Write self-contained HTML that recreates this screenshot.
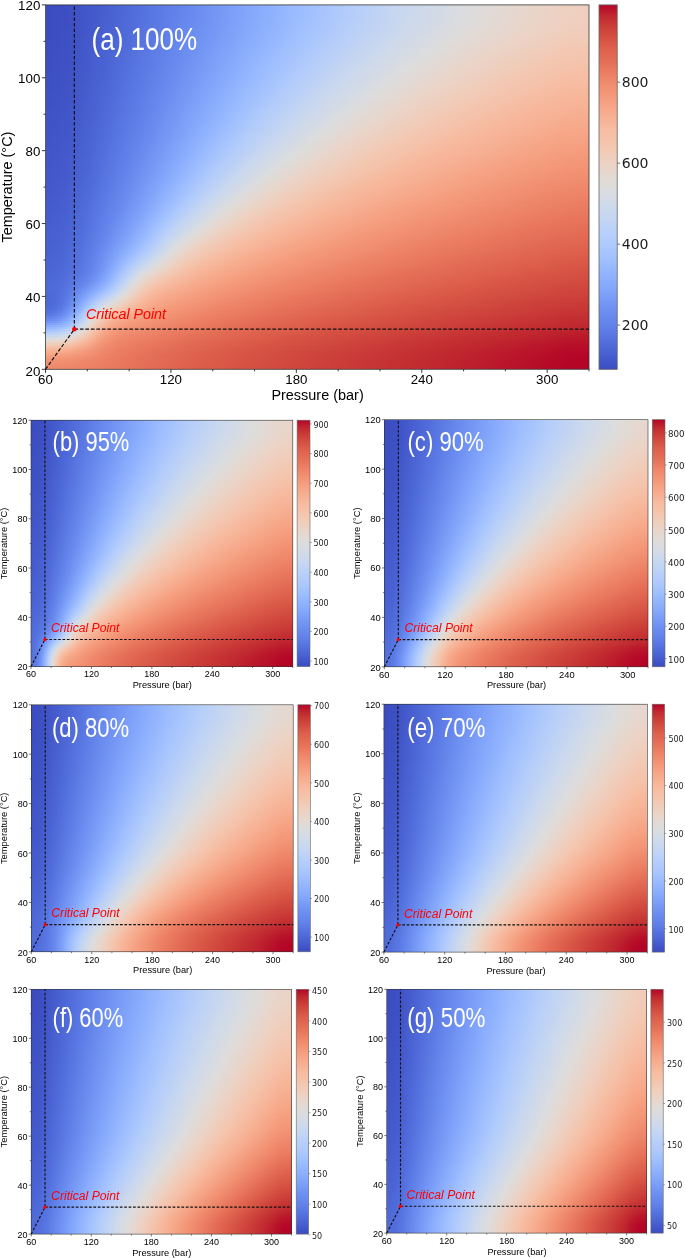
<!DOCTYPE html>
<html lang="en"><head><meta charset="utf-8"><title>CO2 density maps</title>
<style>
html,body{margin:0;padding:0;background:#fff}
#fig{position:relative;width:685px;height:1258px;overflow:hidden;background:#fff;font-family:"Liberation Sans",sans-serif}
.hm{position:absolute;overflow:hidden}
.hm i{display:block;height:2px}
svg{position:absolute;left:0;top:0;filter:blur(0.3px)}
svg{font-family:"Liberation Sans",sans-serif;fill:#000}
</style></head><body>
<div id="fig">
<div class="hm" style="left:46px;top:5px;width:543px;height:364px">
<i style="background:linear-gradient(90deg,#3b4cc0,#3c4fc2 22px,#4860d1 62px,#6586ec 138px,#80a3fa 195px,#98b9ff 244px,#b0cafc 294px,#c7d7f1 351px,#dadcdf 417px,#e3dad4 452px,#edd1c1 518px,#eecfbf 543px)"></i>
<i style="background:linear-gradient(90deg,#3b4cc0,#3c4fc2 22px,#4860d1 62px,#6586ec 138px,#80a3fa 195px,#98b9ff 244px,#b0cbfc 295px,#c7d7f1 351px,#dadcdf 417px,#e3dad4 452px,#edd1c1 518px,#eecfbf 543px)"></i>
<i style="background:linear-gradient(90deg,#3b4cc0,#3c4fc2 22px,#4860d1 62px,#6586ec 138px,#80a3fa 195px,#98b9ff 244px,#b0cbfc 295px,#c7d7f1 351px,#dadcdf 417px,#e3d9d4 453px,#eed1c1 518px,#eecfbf 543px)"></i>
<i style="background:linear-gradient(90deg,#3b4cc0,#3c4fc2 22px,#4860d1 62px,#6586ec 138px,#80a3fa 195px,#98b9ff 244px,#b0cafc 294px,#c7d7f1 351px,#dbdcdf 417px,#e4d9d2 458px,#eed0c0 521px,#efcfbf 543px)"></i>
<i style="background:linear-gradient(90deg,#3b4cc0,#3c4fc2 22px,#4860d1 62px,#6586ed 138px,#7fa3fa 194px,#98b9ff 243px,#b0cafc 293px,#c6d6f1 349px,#dadcdf 415px,#e2dad5 447px,#eed1c1 516px,#efcfbe 543px)"></i>
<i style="background:linear-gradient(90deg,#3b4cc0,#3c4fc3 22px,#4860d1 62px,#6586ec 137px,#80a3fa 194px,#98b9ff 243px,#b0cafc 293px,#c7d7f1 349px,#dadcdf 414px,#e2dad5 446px,#eed1c1 515px,#efcfbe 543px)"></i>
<i style="background:linear-gradient(90deg,#3b4cc0,#3d4fc3 23px,#4a63d3 67px,#6788ee 141px,#81a4fb 196px,#99baff 245px,#b1cbfb 295px,#c8d7f0 351px,#dbdcdf 416px,#e8d6cb 477px,#eecfbf 524px,#efcfbe 543px)"></i>
<i style="background:linear-gradient(90deg,#3b4cc0,#3d4fc3 23px,#4a63d4 67px,#6788ee 141px,#81a4fb 196px,#99baff 244px,#b1cbfb 294px,#c8d7f0 351px,#dbdcde 416px,#ead5c9 483px,#efcfbf 525px,#efcfbd 543px)"></i>
<i style="background:linear-gradient(90deg,#3b4cc0,#3d4fc3 23px,#4a63d4 67px,#6789ee 141px,#81a5fb 196px,#99baff 244px,#b1cbfb 294px,#c8d7f0 351px,#dcddde 417px,#ead5c9 483px,#efcfbe 525px,#efcebd 543px)"></i>
<i style="background:linear-gradient(90deg,#3b4cc0,#3d50c3 24px,#4d67d7 75px,#6c8ff1 152px,#86a9fc 204px,#9ebeff 253px,#b7cffa 305px,#ccd9ed 361px,#dddcdc 422px,#ebd4c7 487px,#efcfbd 526px,#f0cebc 543px)"></i>
<i style="background:linear-gradient(90deg,#3b4cc0,#3d50c3 24px,#4d67d7 75px,#6c8ef1 151px,#85a9fc 203px,#9ebeff 251px,#b6cefa 302px,#ccd9ed 358px,#dddcdc 420px,#ebd4c7 485px,#efcebd 525px,#f0cebc 543px)"></i>
<i style="background:linear-gradient(90deg,#3b4cc0,#3d50c4 25px,#526edc 88px,#6e90f2 154px,#87aafc 205px,#9fbfff 253px,#b7cff9 304px,#cdd9ec 360px,#dedcdb 419px,#ebd4c7 484px,#f0cebc 525px,#f0cdbb 543px)"></i>
<i style="background:linear-gradient(90deg,#3b4cc0,#3d50c4 25px,#526edc 88px,#6e91f2 154px,#88abfd 206px,#a0bfff 253px,#b8cff9 304px,#cdd9ec 360px,#dedcdb 417px,#ebd4c7 481px,#f0cebc 524px,#f0cdba 543px)"></i>
<i style="background:linear-gradient(90deg,#3b4cc0,#3d50c4 25px,#526edc 88px,#6e90f2 153px,#87aafc 204px,#9fbfff 251px,#b8cff9 302px,#cdd9ec 357px,#dedcdb 415px,#ebd4c7 479px,#f0cdbb 524px,#f1ccba 543px)"></i>
<i style="background:linear-gradient(90deg,#3b4cc0,#3d50c4 25px,#526edc 87px,#6e90f2 152px,#87aafc 203px,#a0bfff 250px,#b8cff9 300px,#cdd9ec 355px,#dedcdb 412px,#ebd4c7 475px,#f0cdba 523px,#f1ccb9 543px)"></i>
<i style="background:linear-gradient(90deg,#3b4dc1,#3e51c4 25px,#526edc 87px,#6e90f2 151px,#87aafc 202px,#a0bfff 249px,#b8cff9 299px,#ced9ec 354px,#dedcdb 410px,#ebd4c7 473px,#f1ccb9 523px,#f1cbb8 543px)"></i>
<i style="background:linear-gradient(90deg,#3b4dc1,#3e51c4 25px,#526ddc 85px,#6e90f2 150px,#87aafc 200px,#9fbfff 247px,#b8cff9 297px,#cdd9ec 351px,#dedcdb 407px,#ebd4c7 469px,#f1ccb9 522px,#f1cbb7 543px)"></i>
<i style="background:linear-gradient(90deg,#3b4dc1,#3e51c4 25px,#526edc 85px,#6e90f2 150px,#87aafc 199px,#9fbfff 245px,#b7cff9 294px,#cdd9ec 348px,#dedcdc 404px,#ebd4c7 466px,#f1cbb8 522px,#f2cab6 543px)"></i>
<i style="background:linear-gradient(90deg,#3b4dc1,#3e51c4 25px,#526edc 85px,#6e90f2 149px,#87abfc 199px,#a0bfff 245px,#b8d0f9 294px,#ced9ec 348px,#dedcdb 402px,#ebd3c7 464px,#f2cbb7 522px,#f2cab5 543px)"></i>
<i style="background:linear-gradient(90deg,#3b4dc1,#3e51c4 24px,#4d67d7 70px,#6b8df0 142px,#84a8fc 192px,#9cbcff 236px,#b5cdfa 285px,#cbd8ee 337px,#dddcdc 396px,#ead4c8 457px,#f2cab6 521px,#f2c9b4 543px)"></i>
<i style="background:linear-gradient(90deg,#3b4dc1,#3e51c4 24px,#4d67d7 70px,#6b8df1 142px,#84a8fc 191px,#9cbcff 235px,#b5cdfa 283px,#cbd8ee 335px,#dddcdc 394px,#ead4c8 454px,#f2c9b5 521px,#f3c8b3 543px)"></i>
<i style="background:linear-gradient(90deg,#3b4dc1,#3e51c5 24px,#4d67d7 70px,#6c8ef1 142px,#85a8fc 191px,#9ebdff 236px,#b6cefa 283px,#cbd9ee 334px,#dddcdc 392px,#ead4c8 451px,#f2c9b4 520px,#f3c8b2 543px)"></i>
<i style="background:linear-gradient(90deg,#3b4dc1,#3e51c5 24px,#4c66d6 68px,#6a8cf0 138px,#83a7fb 187px,#9cbcff 231px,#b4cdfa 278px,#cad8ef 329px,#ddd 387px,#ead4c8 446px,#f3c8b3 518px,#f3c7b1 543px)"></i>
<i style="background:linear-gradient(90deg,#3b4dc1,#3e51c5 24px,#4d66d6 68px,#6a8cf0 137px,#83a7fb 186px,#9bbcff 229px,#b3cdfb 275px,#c9d8ef 325px,#dcdddd 383px,#ead5c9 441px,#f3c8b3 515px,#f4c6b0 543px)"></i>
<i style="background:linear-gradient(90deg,#3c4ec1,#3e52c5 24px,#4d67d7 68px,#6a8cf0 137px,#84a7fc 185px,#9bbcff 228px,#b4cdfa 274px,#cad8ef 324px,#dcdddd 381px,#ead4c8 439px,#f3c8b2 514px,#f4c6af 543px)"></i>
<i style="background:linear-gradient(90deg,#3c4ec2,#3e52c5 24px,#4d67d7 68px,#6b8df0 137px,#84a7fc 185px,#9cbcff 228px,#b5cdfa 274px,#cbd8ee 324px,#dddcdc 380px,#ead4c8 437px,#f3c7b2 512px,#f4c5ae 543px)"></i>
<i style="background:linear-gradient(90deg,#3c4ec2,#3e52c5 24px,#4d67d7 67px,#6a8cf0 135px,#84a7fc 183px,#9cbcff 226px,#b5cdfa 272px,#cad8ee 321px,#dddcdc 377px,#ead4c8 434px,#f3c7b1 509px,#f4c4ad 541px,#f4c4ad 543px)"></i>
<i style="background:linear-gradient(90deg,#3c4ec2,#3e52c5 24px,#4d67d7 67px,#6b8cf0 135px,#84a7fc 182px,#9cbcff 224px,#b4cdfa 269px,#cad8ef 318px,#dddcdd 374px,#ead4c8 431px,#f3c7b1 506px,#f5c4ac 538px,#f5c4ac 543px)"></i>
<i style="background:linear-gradient(90deg,#3c4ec2,#3f52c5 24px,#4d67d7 67px,#6b8cf0 134px,#84a7fc 181px,#9cbcff 223px,#b4cdfa 268px,#cad8ef 316px,#ddd 371px,#ead4c8 427px,#f3c7b1 501px,#f5c3ab 534px,#f5c3ab 543px)"></i>
<i style="background:linear-gradient(90deg,#3c4ec2,#3f52c6 24px,#4d67d7 67px,#6a8cf0 133px,#84a7fc 180px,#9cbcff 222px,#b5cdfa 267px,#cad8ee 314px,#dddcdc 369px,#ead4c8 425px,#f3c7b1 499px,#f5c3ab 533px,#f5c2aa 543px)"></i>
<i style="background:linear-gradient(90deg,#3c4ec2,#3f52c6 24px,#4d68d7 67px,#6b8df0 133px,#84a8fc 180px,#9cbcff 221px,#b5cdfa 265px,#cad8ee 312px,#ddd 366px,#ead4c8 421px,#f3c7b1 494px,#f5c2aa 530px,#f5c2a9 543px)"></i>
<i style="background:linear-gradient(90deg,#3c4ec2,#3f53c6 24px,#4d67d7 65px,#6a8bef 130px,#83a6fb 177px,#9bbcff 218px,#b3cdfb 261px,#c9d8ef 307px,#dcdddd 362px,#ead5c9 416px,#f3c8b2 488px,#f5c1a9 527px,#f5c1a8 543px)"></i>
<i style="background:linear-gradient(90deg,#3c4fc2,#3f53c6 24px,#4d67d7 65px,#6a8cf0 130px,#83a7fb 176px,#9bbcff 217px,#b4cdfb 260px,#cad8ef 306px,#dcdddd 360px,#ead4c8 414px,#f3c7b2 485px,#f5c1a8 526px,#f5c0a7 543px)"></i>
<i style="background:linear-gradient(90deg,#3c4fc2,#3f53c6 24px,#4d67d7 65px,#6a8cf0 129px,#83a7fb 175px,#9cbcff 216px,#b4cdfa 259px,#cad8ef 305px,#ddd 358px,#ead4c8 411px,#f3c8b2 481px,#f5c0a7 525px,#f6bfa6 543px)"></i>
<i style="background:linear-gradient(90deg,#3c4fc3,#3f53c6 23px,#4b64d4 58px,#6687ed 120px,#80a4fb 169px,#99baff 210px,#b1cbfc 251px,#c8d7f0 297px,#dbdcde 350px,#e9d5ca 404px,#f3c8b3 474px,#f6c0a6 524px,#f6bfa5 543px)"></i>
<i style="background:linear-gradient(90deg,#3c4fc3,#3f53c6 23px,#4b64d4 58px,#6687ed 120px,#81a4fb 169px,#99baff 209px,#b1cbfb 250px,#c8d7f0 296px,#dcdcde 349px,#e9d5c9 402px,#f3c8b3 471px,#f6bfa5 523px,#f6bea4 543px)"></i>
<i style="background:linear-gradient(90deg,#3d4fc3,#3f53c6 23px,#4b64d5 58px,#6788ed 120px,#81a4fb 168px,#99baff 208px,#b1cbfb 248px,#c8d7f0 294px,#dbdcde 346px,#e9d5c9 399px,#f3c8b3 468px,#f6bea5 522px,#f6bda3 543px)"></i>
<i style="background:linear-gradient(90deg,#3d4fc3,#3f53c6 23px,#4b64d5 58px,#6688ed 119px,#81a4fb 167px,#99baff 207px,#b1cbfb 247px,#c8d7f0 292px,#dcddde 344px,#e9d5c9 396px,#f3c8b3 464px,#f6bea4 522px,#f6bca2 543px)"></i>
<i style="background:linear-gradient(90deg,#3d4fc3,#3f53c6 23px,#4b65d5 58px,#6687ed 118px,#81a4fb 166px,#99baff 205px,#b1cbfc 244px,#c8d7f0 289px,#dbdcde 340px,#e9d5ca 392px,#f3c8b3 459px,#f6bda3 521px,#f7bca1 543px)"></i>
<i style="background:linear-gradient(90deg,#3d50c3,#3f53c6 23px,#4b65d5 58px,#6788ed 118px,#82a5fb 166px,#9abbff 205px,#b2ccfb 244px,#c8d7f0 288px,#dcddde 339px,#ead5c9 391px,#f3c8b2 458px,#f6bca2 521px,#f7bba0 543px)"></i>
<i style="background:linear-gradient(90deg,#3d50c3,#4053c7 23px,#4c65d5 58px,#6688ed 117px,#81a5fb 164px,#9abaff 203px,#b1cbfb 242px,#c8d7f0 286px,#dcddde 336px,#ead5c9 387px,#f3c8b3 453px,#f7bba1 520px,#f7ba9f 543px)"></i>
<i style="background:linear-gradient(90deg,#3d50c3,#4054c7 23px,#4b65d5 57px,#6788ed 117px,#82a5fb 164px,#9abbff 203px,#b2ccfb 242px,#c9d8ef 285px,#dcdddd 335px,#ead5c9 385px,#f3c8b2 451px,#f7bba0 520px,#f7b99e 543px)"></i>
<i style="background:linear-gradient(90deg,#3d50c3,#4054c7 23px,#4c65d5 57px,#6788ed 116px,#82a5fb 163px,#9abbff 201px,#b2ccfb 239px,#c9d7f0 282px,#dcddde 331px,#ead5c9 381px,#f3c8b3 446px,#f7ba9f 519px,#f7b89d 543px)"></i>
<i style="background:linear-gradient(90deg,#3d50c4,#4054c7 23px,#4c65d5 57px,#6788ed 115px,#81a5fb 161px,#9abaff 199px,#b2cbfb 237px,#c8d7f0 279px,#dcdcde 328px,#ead5c9 378px,#f3c8b3 442px,#f7b99e 519px,#f7b89c 543px)"></i>
<i style="background:linear-gradient(90deg,#3d50c4,#4054c7 23px,#4c65d6 57px,#6788ee 115px,#82a5fb 161px,#9bbbff 199px,#b3ccfb 237px,#c9d8ef 279px,#dcdddd 327px,#ead5c9 375px,#f3c8b3 439px,#f7b89d 518px,#f7b79b 543px)"></i>
<i style="background:linear-gradient(90deg,#3d50c4,#4054c7 23px,#4c66d6 57px,#6789ee 115px,#82a5fb 160px,#9abbff 197px,#b2ccfb 234px,#c9d7f0 276px,#dcddde 324px,#ead5c9 372px,#f3c8b3 435px,#f7b89c 517px,#f7b69a 543px)"></i>
<i style="background:linear-gradient(90deg,#3d50c4,#4054c7 23px,#4c65d6 56px,#6788ed 113px,#82a5fb 159px,#9abbff 196px,#b2ccfb 233px,#c9d8f0 274px,#dcddde 321px,#ead5c9 369px,#f3c8b2 432px,#f7b79b 516px,#f7b599 543px)"></i>
<i style="background:linear-gradient(90deg,#3e51c4,#4055c8 23px,#4c65d5 55px,#6788ed 112px,#81a5fb 157px,#9abbff 194px,#b1cbfb 230px,#c8d7f0 270px,#dbdcdf 316px,#e9d5ca 364px,#f3c8b3 426px,#f7b69a 514px,#f7b498 543px)"></i>
<i style="background:linear-gradient(90deg,#3e51c4,#4055c8 23px,#4c65d6 55px,#6688ed 111px,#81a5fb 156px,#99baff 192px,#b1cbfb 228px,#c8d7f0 268px,#dbdcde 314px,#e9d5ca 361px,#f3c8b3 423px,#f7b69a 512px,#f7b397 543px)"></i>
<i style="background:linear-gradient(90deg,#3e51c4,#4055c8 23px,#4c66d6 55px,#6687ed 110px,#81a5fb 155px,#9abbff 191px,#b2ccfb 227px,#c8d7f0 266px,#dbdcde 312px,#e9d5ca 358px,#f3c8b3 419px,#f7b599 510px,#f7b396 543px)"></i>
<i style="background:linear-gradient(90deg,#3e51c4,#4155c8 23px,#4c66d6 55px,#6788ed 110px,#82a5fb 155px,#9bbbff 191px,#b3ccfb 227px,#c9d8ef 266px,#dcdddd 311px,#e9d5c9 356px,#f3c8b3 416px,#f7b599 507px,#f7b295 541px,#f7b295 543px)"></i>
<i style="background:linear-gradient(90deg,#3e51c5,#4155c8 23px,#4c66d6 55px,#6788ee 110px,#82a6fb 154px,#9bbbff 190px,#b3ccfb 225px,#c9d7f0 263px,#dcddde 308px,#e9d5c9 353px,#f3c8b3 413px,#f7b599 503px,#f7b194 537px,#f7b194 543px)"></i>
<i style="background:linear-gradient(90deg,#3e51c5,#4155c8 23px,#4c66d6 54px,#6687ed 108px,#81a5fb 152px,#9abaff 187px,#b2ccfb 222px,#c8d7f0 260px,#dbdcde 304px,#e9d5ca 349px,#f3c8b3 408px,#f7b599 497px,#f7b093 533px,#f7b093 543px)"></i>
<i style="background:linear-gradient(90deg,#3e52c5,#4156c8 23px,#4c65d6 53px,#6687ed 107px,#82a5fb 151px,#9abbff 186px,#b2ccfb 220px,#c8d7f0 258px,#dcdcde 302px,#e9d5ca 346px,#f3c8b3 404px,#f7b599 492px,#f7af92 530px,#f7af91 543px)"></i>
<i style="background:linear-gradient(90deg,#3e52c5,#4156c9 23px,#4c66d6 53px,#6788ed 107px,#82a5fb 150px,#9abbff 185px,#b2ccfb 219px,#c9d8f0 257px,#dcddde 300px,#ead5c9 344px,#f3c8b3 402px,#f7b599 488px,#f7af91 528px,#f7ae90 543px)"></i>
<i style="background:linear-gradient(90deg,#3e52c5,#4156c8 22px,#4c65d5 52px,#6687ed 105px,#82a5fb 149px,#9abbff 183px,#b2ccfb 217px,#c8d7f0 254px,#dcddde 297px,#e9d5ca 340px,#f3c8b3 397px,#f7b69a 481px,#f7ae90 526px,#f7ad8f 543px)"></i>
<i style="background:linear-gradient(90deg,#3e52c5,#4156c9 22px,#4c65d5 51px,#6586ec 103px,#81a4fb 147px,#99baff 181px,#b1cbfb 214px,#c8d7f0 251px,#dbdcde 294px,#e9d5ca 337px,#f3c8b3 394px,#f7b699 479px,#f7ad8f 526px,#f7ac8e 543px)"></i>
<i style="background:linear-gradient(90deg,#3f52c5,#4156c9 22px,#4c65d5 51px,#6687ed 103px,#81a4fb 146px,#9abaff 180px,#b2ccfb 213px,#c9d7f0 250px,#dcddde 292px,#e9d5ca 334px,#f3c8b3 390px,#f7b69a 472px,#f7ac8e 524px,#f7ab8d 543px)"></i>
<i style="background:linear-gradient(90deg,#3f52c6,#4156c9 22px,#4b65d5 50px,#6586ed 102px,#81a4fb 145px,#99baff 178px,#b1cbfc 210px,#c7d7f0 246px,#dbdcdf 287px,#e6d7cf 320px,#f1ccb9 370px,#f7bba0 445px,#f7ac8e 520px,#f7aa8c 543px)"></i>
<i style="background:linear-gradient(90deg,#3f52c6,#4156c9 22px,#4c65d5 50px,#6687ed 102px,#81a4fb 144px,#99baff 177px,#b1cbfb 209px,#c8d7f0 245px,#dbdcde 286px,#e9d5ca 328px,#f3c8b3 383px,#f7b69a 464px,#f7aa8c 523px,#f7a98b 543px)"></i>
<i style="background:linear-gradient(90deg,#3f53c6,#4256c9 22px,#4c65d6 50px,#6687ed 102px,#82a5fb 144px,#9abbff 177px,#b2ccfb 209px,#c9d8ef 245px,#dcdddd 285px,#ead5c9 326px,#f3c8b3 381px,#f7b699 461px,#f7a98b 523px,#f7a88a 543px)"></i>
<i style="background:linear-gradient(90deg,#3f53c6,#4257c9 22px,#4c66d6 50px,#6687ed 101px,#82a5fb 143px,#9abbff 175px,#b2cbfb 206px,#c8d7f0 241px,#dbdcde 281px,#e9d5ca 321px,#f3c8b3 375px,#f7b69a 454px,#f7a98a 522px,#f7a889 543px)"></i>
<i style="background:linear-gradient(90deg,#3f53c6,#4257ca 22px,#4c66d6 50px,#6687ed 100px,#81a5fb 141px,#9abaff 173px,#b1cbfb 204px,#c8d7f0 239px,#dcddde 279px,#e9d5ca 319px,#f3c8b3 372px,#f7b69a 449px,#f7a889 521px,#f7a788 543px)"></i>
<i style="background:linear-gradient(90deg,#3f53c6,#4257ca 22px,#4c66d6 50px,#6688ed 100px,#82a5fb 141px,#9bbbff 173px,#b2ccfb 203px,#c8d7f0 237px,#dcdcde 276px,#e9d5ca 315px,#f2c9b4 367px,#f7b79b 444px,#f7a788 520px,#f6a687 543px)"></i>
<i style="background:linear-gradient(90deg,#3f53c6,#4257ca 22px,#4d66d6 50px,#6788ed 100px,#82a5fb 140px,#9abbff 171px,#b2ccfb 201px,#c8d7f0 235px,#dbdcde 273px,#e9d5ca 312px,#f3c9b3 364px,#f7b69a 441px,#f7a687 520px,#f6a586 543px)"></i>
<i style="background:linear-gradient(90deg,#3f53c7,#4257ca 22px,#4c66d6 49px,#6687ed 98px,#82a5fb 139px,#9abbff 170px,#b2ccfb 200px,#c9d7f0 233px,#dcddde 271px,#e9d5ca 309px,#f3c8b3 361px,#f7b69a 436px,#f6a586 519px,#f6a485 543px)"></i>
<i style="background:linear-gradient(90deg,#4054c7,#4258ca 22px,#4d66d6 49px,#6687ed 97px,#82a5fb 138px,#9bbbff 169px,#b2ccfb 198px,#c9d7f0 231px,#dcddde 269px,#e9d5c9 307px,#f3c8b3 358px,#f7b69a 433px,#f6a486 518px,#f6a384 543px)"></i>
<i style="background:linear-gradient(90deg,#4054c7,#4258ca 22px,#4c66d6 48px,#6687ed 97px,#82a5fb 137px,#9abbff 167px,#b2ccfb 196px,#c8d7f0 228px,#dbdcde 265px,#e9d5ca 303px,#f3c9b4 353px,#f7b79b 426px,#f6a385 516px,#f6a183 543px)"></i>
<i style="background:linear-gradient(90deg,#4054c7,#4358cb 22px,#4d66d6 48px,#6788ed 97px,#82a6fb 136px,#9bbbff 166px,#b2ccfb 195px,#c8d7f0 226px,#dcdcde 263px,#e9d5ca 300px,#f3c8b3 350px,#f7b79b 422px,#f6a384 513px,#f6a082 543px)"></i>
<i style="background:linear-gradient(90deg,#4054c7,#4358cb 22px,#4d67d7 48px,#6687ed 95px,#82a5fb 134px,#9abbff 164px,#b1cbfb 192px,#c8d7f0 223px,#dbdcdf 259px,#e8d6cd 292px,#f2cbb7 338px,#f7b99e 407px,#f6a586 499px,#f5a081 536px,#f59f81 543px)"></i>
<i style="background:linear-gradient(90deg,#4054c7,#4358cb 22px,#4d67d7 48px,#6788ed 95px,#82a6fb 134px,#9bbcff 164px,#b3cdfb 193px,#cad8ef 224px,#dcdddd 260px,#ead5c9 296px,#f3c8b2 345px,#f7b69a 416px,#f6a183 510px,#f59e80 543px)"></i>
<i style="background:linear-gradient(90deg,#4054c7,#4359cb 22px,#4d67d7 48px,#6788ee 95px,#82a6fb 133px,#9bbbff 162px,#b2ccfb 190px,#c8d7f0 220px,#dbdcde 255px,#e9d5ca 291px,#f3c8b3 339px,#f7b79b 409px,#f6a183 504px,#f59d7f 541px,#f59d7f 543px)"></i>
<i style="background:linear-gradient(90deg,#4055c8,#4359cb 22px,#4d67d7 48px,#6889ee 95px,#82a6fb 132px,#9bbcff 161px,#b3ccfb 189px,#c9d8ef 219px,#dcdddd 254px,#ead5c9 289px,#f3c8b3 336px,#f7b69a 406px,#f6a182 500px,#f59c7e 537px,#f59c7e 543px)"></i>
<i style="background:linear-gradient(90deg,#4055c8,#4359cb 21px,#4c66d6 45px,#6687ed 92px,#82a5fb 130px,#9bbbff 159px,#b3ccfb 187px,#c9d7f0 216px,#dcddde 251px,#e9d5c9 286px,#f3c8b3 333px,#f7b79b 401px,#f6a283 493px,#f59c7d 533px,#f59b7c 543px)"></i>
<i style="background:linear-gradient(90deg,#4155c8,#4359cb 21px,#4c66d6 45px,#6788ed 92px,#82a5fb 129px,#9bbbff 158px,#b2ccfb 185px,#c9d7f0 214px,#dcddde 248px,#e9d5ca 282px,#f3c9b4 328px,#f7b79b 395px,#f6a384 484px,#f49b7c 529px,#f49a7b 543px)"></i>
<i style="background:linear-gradient(90deg,#4155c8,#4359cc 21px,#4d66d6 45px,#6687ed 90px,#82a5fb 128px,#9abbff 156px,#b2ccfb 183px,#c9d7f0 212px,#dcdddd 246px,#e9d5ca 279px,#f2c9b4 324px,#f7b79b 391px,#f6a384 479px,#f49a7b 528px,#f4997a 543px)"></i>
<i style="background:linear-gradient(90deg,#4155c8,#4359cc 21px,#4d67d7 45px,#6687ed 90px,#82a5fb 127px,#9bbbff 155px,#b3ccfb 182px,#c9d8ef 210px,#dcddde 243px,#e9d5ca 276px,#f3c9b4 321px,#f7b79b 386px,#f6a384 473px,#f4997a 527px,#f49879 543px)"></i>
<i style="background:linear-gradient(90deg,#4156c8,#445acc 21px,#4d67d7 45px,#6788ed 90px,#82a5fb 126px,#9abbff 153px,#b2ccfb 179px,#c9d8ef 208px,#dcdddd 241px,#e9d5ca 273px,#f2c9b4 317px,#f7b79c 381px,#f6a385 466px,#f49879 525px,#f49778 543px)"></i>
<i style="background:linear-gradient(90deg,#4156c9,#445acc 21px,#4d67d7 44px,#6687ed 88px,#82a5fb 125px,#9bbbff 152px,#b3ccfb 178px,#c9d8ef 206px,#dcddde 238px,#e9d5ca 270px,#f3c9b3 314px,#f7b79b 378px,#f6a384 462px,#f39778 524px,#f39677 543px)"></i>
<i style="background:linear-gradient(90deg,#4156c9,#445acc 21px,#4d67d7 44px,#6687ed 88px,#82a6fb 124px,#9bbbff 151px,#b3ccfb 177px,#c9d8ef 204px,#dcdddd 236px,#e9d5ca 267px,#f2c9b4 310px,#f7b89c 372px,#f6a485 454px,#f39677 524px,#f39576 543px)"></i>
<i style="background:linear-gradient(90deg,#4156c9,#445acc 21px,#4d67d7 44px,#6687ed 87px,#82a6fb 123px,#9bbcff 150px,#b3ccfb 175px,#c9d8ef 202px,#dbdcde 232px,#e9d5ca 263px,#f2c9b4 306px,#f7b79c 368px,#f6a385 450px,#f39576 523px,#f39475 543px)"></i>
<i style="background:linear-gradient(90deg,#4156c9,#445acd 21px,#4d67d7 43px,#6788ed 87px,#82a6fb 122px,#9bbbff 148px,#b2ccfb 172px,#c9d7f0 199px,#dbdcde 229px,#e9d5ca 261px,#f3c9b4 303px,#f7b79c 364px,#f6a385 446px,#f39475 522px,#f29374 543px)"></i>
<i style="background:linear-gradient(90deg,#4257c9,#445bcd 21px,#4d67d7 43px,#6788ed 86px,#82a6fb 121px,#9bbbff 147px,#b3ccfb 171px,#cad8ef 199px,#ddd 229px,#ead4c9 260px,#f3c8b2 302px,#f7b79b 362px,#f6a384 442px,#f29374 522px,#f29173 543px)"></i>
<i style="background:linear-gradient(90deg,#4257c9,#445bcd 21px,#4d67d7 43px,#6687ed 85px,#82a6fb 120px,#9bbcff 146px,#b3cdfb 170px,#cad8ef 196px,#dcddde 225px,#e9d5ca 255px,#f3c9b4 296px,#f7b79b 356px,#f6a385 436px,#f29273 521px,#f29072 543px)"></i>
<i style="background:linear-gradient(90deg,#4257ca,#455bcd 21px,#4e68d8 43px,#6788ee 85px,#83a6fb 119px,#9bbbff 144px,#b2ccfb 167px,#c9d8f0 193px,#dbdcde 221px,#e9d5ca 251px,#f2c9b4 291px,#f7b89c 349px,#f6a486 427px,#f29172 519px,#f18f71 543px)"></i>
<i style="background:linear-gradient(90deg,#4257ca,#455bcd 21px,#4e68d8 43px,#6789ee 85px,#83a6fb 118px,#9bbcff 143px,#b3ccfb 166px,#cad8ef 192px,#dcdddd 220px,#e9d5ca 249px,#f3c9b4 289px,#f7b79c 347px,#f6a485 424px,#f19072 518px,#f18e70 543px)"></i>
<i style="background:linear-gradient(90deg,#4257ca,#455bcd 20px,#4d68d7 42px,#6788ed 83px,#83a6fb 117px,#9cbcff 142px,#b3cdfb 165px,#cad8ef 190px,#dcdddd 218px,#e9d5ca 246px,#f2c9b4 285px,#f7b89c 341px,#f6a486 417px,#f18f71 515px,#f18d6f 543px)"></i>
<i style="background:linear-gradient(90deg,#4258ca,#455bcd 20px,#4e68d8 42px,#6788ee 83px,#82a5fb 115px,#9bbbff 140px,#b2ccfb 162px,#c8d7f0 186px,#dcdcde 214px,#e9d5ca 242px,#f2c9b5 279px,#f7b99d 334px,#f6a586 409px,#f18f71 510px,#f08c6e 543px)"></i>
<i style="background:linear-gradient(90deg,#4258ca,#455cce 20px,#4e68d8 42px,#6788ee 82px,#82a5fb 114px,#9abbff 138px,#b2ccfb 160px,#c8d7f0 184px,#dcddde 212px,#e9d5ca 239px,#f2c9b5 276px,#f7b99d 330px,#f6a687 402px,#f18f71 503px,#f08b6d 541px,#f08b6d 543px)"></i>
<i style="background:linear-gradient(90deg,#4258cb,#455cce 20px,#4e69d8 42px,#6889ee 82px,#82a6fb 113px,#9bbbff 137px,#b2ccfb 158px,#c8d7f0 181px,#dbdcdf 208px,#e9d6cb 235px,#f2cab5 271px,#f7b99e 324px,#f6a687 396px,#f18f71 496px,#f08a6c 536px,#ef8a6c 543px)"></i>
<i style="background:linear-gradient(90deg,#4358cb,#455cce 20px,#4e69d8 42px,#6889ee 82px,#83a7fb 113px,#9bbcff 136px,#b2ccfb 157px,#c8d7f0 179px,#dbdcde 206px,#e9d5ca 233px,#f2c9b4 270px,#f7b99d 322px,#f6a687 392px,#f18f71 489px,#ef896b 533px,#ef886b 543px)"></i>
<i style="background:linear-gradient(90deg,#4358cb,#465cce 20px,#4f69d9 42px,#6788ee 80px,#82a5fb 110px,#9abbff 133px,#b1cbfb 154px,#c8d7f0 177px,#dbdcdf 203px,#e9d6cb 229px,#f2c9b5 265px,#f7b99e 316px,#f7a688 385px,#f29072 480px,#ef886a 530px,#ef876a 543px)"></i>
<i style="background:linear-gradient(90deg,#4359cb,#465dce 20px,#4f6ad9 42px,#6889ee 80px,#82a5fb 109px,#9abbff 132px,#b2ccfb 153px,#c8d7f0 175px,#dbdcde 201px,#e8d6cb 226px,#f2cab5 261px,#f7b99e 312px,#f7a688 379px,#f29072 473px,#ee876a 528px,#ee8669 543px)"></i>
<i style="background:linear-gradient(90deg,#4359cb,#465dcf 20px,#4f6ad9 42px,#688aef 80px,#82a5fb 108px,#9abaff 130px,#b0cbfc 150px,#c7d7f1 172px,#dadcdf 197px,#e3d9d4 212px,#eed0c0 240px,#f5c1a9 282px,#f7b093 339px,#f59b7c 419px,#ee8669 519px,#ee8568 543px)"></i>
<i style="background:linear-gradient(90deg,#4359cb,#465dcf 20px,#506ada 42px,#688aee 79px,#82a5fb 107px,#9abbff 129px,#b1cbfb 149px,#c8d7f0 171px,#dbdcde 196px,#e9d5ca 221px,#f2c9b4 256px,#f7b89d 306px,#f6a587 374px,#f18f71 467px,#ee8468 527px,#ed8467 543px)"></i>
<i style="background:linear-gradient(90deg,#4359cc,#465dcf 20px,#506bda 42px,#6889ee 78px,#81a4fb 105px,#9abaff 127px,#b1cbfc 147px,#c7d7f1 168px,#dadcdf 192px,#e3d9d4 206px,#eed0c0 233px,#f5c2a9 274px,#f7b093 330px,#f59c7d 406px,#ee8568 512px,#ed8366 543px)"></i>
<i style="background:linear-gradient(90deg,#4459cc,#465ecf 20px,#506ada 41px,#6889ee 77px,#80a3fa 103px,#99baff 125px,#b0cbfc 145px,#c7d7f0 166px,#dadce0 189px,#e2dad6 201px,#edd1c2 227px,#f5c3ac 265px,#f7b295 319px,#f59e7f 393px,#ee8669 499px,#ed8165 538px,#ed8165 543px)"></i>
<i style="background:linear-gradient(90deg,#445acc,#475ed0 20px,#506bda 41px,#688aef 77px,#81a4fb 103px,#9abaff 124px,#b0cbfc 143px,#c8d7f0 164px,#dadcdf 187px,#e4d9d3 202px,#efcfbe 229px,#f6c0a7 271px,#f7af91 326px,#f49a7b 404px,#ed8366 511px,#ec8064 543px)"></i>
<i style="background:linear-gradient(90deg,#445acc,#475ed0 20px,#506bda 41px,#688aef 76px,#81a4fb 102px,#9abbff 123px,#b1cbfb 142px,#c9d7f0 163px,#dadce0 184px,#e2dad5 196px,#eed1c1 222px,#f5c3aa 260px,#f7b194 313px,#f59d7e 385px,#ee8669 486px,#ec7f63 531px,#ec7f63 543px)"></i>
<i style="background:linear-gradient(90deg,#445acd,#475ed0 20px,#506cda 41px,#688aee 75px,#80a3fa 100px,#98b9ff 120px,#b0cafc 139px,#c5d6f2 158px,#d8dce1 179px,#dfdbd9 189px,#ecd3c5 213px,#f4c6b0 246px,#f7b69a 293px,#f6a384 359px,#f18d6f 451px,#eb7f63 525px,#eb7e62 543px)"></i>
<i style="background:linear-gradient(90deg,#445acd,#475ed0 19px,#506bda 39px,#6788ee 73px,#7fa2fa 98px,#99baff 119px,#b0cbfc 138px,#c8d7f0 158px,#dadcdf 179px,#e3dad4 192px,#eed0bf 218px,#f5c1a8 257px,#f7b092 309px,#f59c7d 381px,#ee8568 483px,#eb7d61 531px,#eb7d61 543px)"></i>
<i style="background:linear-gradient(90deg,#445bcd,#475fd0 19px,#506bda 39px,#6788ee 72px,#7fa2fa 97px,#98b9ff 117px,#afcafc 135px,#c6d7f1 155px,#dadce0 176px,#e1dbd7 186px,#edd2c3 210px,#f4c5ae 243px,#f7b498 289px,#f6a182 354px,#f08b6d 446px,#ea7c61 526px,#ea7b60 543px)"></i>
<i style="background:linear-gradient(90deg,#455bcd,#475fd0 19px,#506ada 38px,#6687ed 70px,#7ea1fa 95px,#97b8ff 115px,#afcafc 133px,#c5d6f2 152px,#d9dce1 172px,#dfdbd9 181px,#ebd3c6 203px,#f3c7b1 234px,#f7b69a 279px,#f6a385 341px,#f18e70 429px,#ea7b60 523px,#ea7a5f 543px)"></i>
<i style="background:linear-gradient(90deg,#455bcd,#485fd1 19px,#506bda 38px,#6788ed 70px,#7fa2fa 95px,#99baff 115px,#afcafc 132px,#c7d7f1 151px,#dadce0 171px,#e0dbd8 180px,#ecd2c4 202px,#f4c5af 234px,#f7b599 279px,#f6a283 341px,#f08c6e 430px,#e97a5f 523px,#e9795e 543px)"></i>
<i style="background:linear-gradient(90deg,#455bce,#4860d1 19px,#506bda 38px,#6687ed 68px,#7ea1fa 93px,#98b9ff 113px,#afcafc 130px,#c7d7f1 149px,#dadce0 169px,#e2dad5 180px,#eed1c1 203px,#f5c3ab 236px,#f7b396 282px,#f59f81 346px,#ef896c 438px,#e9785e 525px,#e8785d 543px)"></i>
<i style="background:linear-gradient(90deg,#455cce,#4860d1 19px,#506cda 38px,#6688ed 68px,#7ea2fa 92px,#97b8ff 111px,#afcafc 128px,#c6d7f1 147px,#dadcdf 167px,#e3dad4 178px,#eed0c0 201px,#f5c2aa 235px,#f7b294 281px,#f59e7f 346px,#ef876a 439px,#e8775d 525px,#e8765c 543px)"></i>
<i style="background:linear-gradient(90deg,#455cce,#4860d1 19px,#516cdb 38px,#6687ed 67px,#80a3fa 92px,#99baff 111px,#b0cafc 127px,#c6d6f2 144px,#dadce0 164px,#e1dad7 173px,#edd2c3 194px,#f4c4ad 226px,#f7b397 271px,#f5a081 333px,#f08a6d 421px,#e8765c 523px,#e7755b 543px)"></i>
<i style="background:linear-gradient(90deg,#455cce,#4860d2 19px,#516ddb 38px,#6788ee 67px,#81a4fb 92px,#99baff 110px,#b1cbfb 126px,#c8d7f0 144px,#dcddde 164px,#e8d6cb 182px,#f1cbb7 207px,#f6bda3 241px,#f7ac8e 290px,#f49779 361px,#ec8064 461px,#e7755b 527px,#e7745b 543px)"></i>
<i style="background:linear-gradient(90deg,#465cce,#4860d1 18px,#516cdb 37px,#6687ed 65px,#7ea1fa 88px,#97b8ff 107px,#afcafc 123px,#c6d6f2 140px,#d9dce0 159px,#e0dbd8 167px,#ebd3c6 185px,#f3c7b1 213px,#f7b79c 251px,#f6a586 306px,#f29072 384px,#e8775d 499px,#e6735a 539px,#e6735a 543px)"></i>
<i style="background:linear-gradient(90deg,#465dcf,#4961d2 18px,#516ddb 37px,#6586ec 63px,#7ea1fa 87px,#98b9ff 106px,#afcafc 121px,#c5d6f2 137px,#d9dce1 156px,#e0dbd8 164px,#ecd3c5 183px,#f4c6b0 211px,#f7b79b 248px,#f6a586 302px,#f29072 379px,#e9785d 491px,#e67259 534px,#e67159 543px)"></i>
<i style="background:linear-gradient(90deg,#465dcf,#4961d2 18px,#516ddb 37px,#6687ed 63px,#7fa3fa 87px,#98b9ff 105px,#b0cafc 120px,#c6d6f1 136px,#dadce0 155px,#e3dad5 165px,#edd1c1 184px,#f5c3ab 214px,#f7b396 254px,#f6a082 312px,#f08b6d 395px,#e67359 511px,#e57058 543px)"></i>
<i style="background:linear-gradient(90deg,#465dcf,#4961d2 18px,#526ddc 37px,#6586ec 62px,#7ea1fa 85px,#97b8ff 103px,#afcafc 118px,#c5d6f2 133px,#d9dce1 151px,#e0dbd8 159px,#ecd2c4 178px,#f4c6af 205px,#f7b79b 241px,#f6a486 294px,#f18f71 370px,#e8775d 479px,#e56f57 531px,#e56f57 543px)"></i>
<i style="background:linear-gradient(90deg,#465ecf,#4962d3 18px,#526edc 37px,#6687ed 62px,#80a3fa 85px,#99baff 103px,#b0cbfc 117px,#c5d6f2 131px,#d9dce0 149px,#e0dbd8 157px,#ecd2c4 175px,#f4c6b0 200px,#f7b79b 236px,#f6a586 288px,#f29072 361px,#e9785e 468px,#e46e56 529px,#e46e56 543px)"></i>
<i style="background:linear-gradient(90deg,#475ecf,#4962d3 18px,#526edc 36px,#6485ec 59px,#7da0f9 82px,#96b8ff 100px,#aec9fc 114px,#c5d6f2 129px,#d9dce1 146px,#e0dbd8 154px,#edd2c3 173px,#f4c6af 198px,#f7b69a 234px,#f6a485 286px,#f18f71 360px,#e8775d 467px,#e46d55 529px,#e36c55 543px)"></i>
<i style="background:linear-gradient(90deg,#475ed0,#4a62d3 18px,#526edc 36px,#6484eb 58px,#7c9ff9 80px,#95b7ff 98px,#adc9fd 112px,#c4d5f3 126px,#d6dce4 141px,#dfdcda 150px,#ecd3c6 168px,#f3c7b1 191px,#f7b79b 227px,#f6a587 277px,#f29172 348px,#e9795e 452px,#e36c54 527px,#e36b54 543px)"></i>
<i style="background:linear-gradient(90deg,#475ed0,#4a63d3 18px,#536fdd 36px,#6585ec 58px,#7da1f9 80px,#96b7ff 97px,#acc8fd 110px,#c2d5f4 123px,#d5dbe5 137px,#dfdcda 147px,#ead4c8 163px,#f3c8b2 186px,#f7b89c 221px,#f7a688 269px,#f29173 339px,#e97a5f 441px,#e26a54 526px,#e26a53 543px)"></i>
<i style="background:linear-gradient(90deg,#475fd0,#4a63d4 18px,#536fdd 36px,#6485ec 57px,#7ca0f9 78px,#95b7ff 95px,#abc7fd 108px,#c2d5f4 121px,#d5dbe5 135px,#dedcda 144px,#ebd3c7 161px,#f3c7b1 184px,#f7b89c 217px,#f7a788 263px,#f29274 331px,#ea7b60 430px,#e26953 525px,#e26852 543px)"></i>
<i style="background:linear-gradient(90deg,#475fd0,#4a63d4 18px,#5370dd 36px,#6586ec 57px,#7ea1fa 78px,#97b9ff 95px,#aec9fc 108px,#c5d6f2 121px,#d8dce2 135px,#dfdbd9 142px,#ead4c8 157px,#f3c7b2 180px,#f7ba9f 209px,#f7a98b 251px,#f39577 314px,#ec7f63 406px,#e16852 521px,#e16751 543px)"></i>
<i style="background:linear-gradient(90deg,#485fd1,#4a63d4 17px,#536fdd 35px,#6484eb 55px,#7b9ff9 75px,#95b6ff 92px,#abc8fd 105px,#c1d4f5 117px,#d5dbe6 130px,#dfdcda 139px,#ebd4c7 154px,#f3c7b2 177px,#f7ba9f 204px,#f7aa8b 245px,#f39677 306px,#ec7f63 396px,#e16751 518px,#e06650 543px)"></i>
<i style="background:linear-gradient(90deg,#4860d1,#4b64d4 17px,#5370dd 35px,#6585ec 55px,#7da0f9 75px,#96b7ff 91px,#adc8fd 104px,#c2d5f4 116px,#d6dce4 129px,#dfdbd9 137px,#ebd4c7 151px,#f3c8b2 173px,#f7ba9f 200px,#f7aa8c 240px,#f39678 300px,#ec8064 387px,#e16751 512px,#e0654f 543px)"></i>
<i style="background:linear-gradient(90deg,#4860d1,#4b64d4 17px,#536fdd 34px,#6384eb 53px,#7b9ef8 72px,#93b5fe 88px,#aac7fd 101px,#c0d4f5 113px,#d5dbe5 126px,#dfdcda 134px,#ead4c8 147px,#f2c9b4 167px,#f7bca1 193px,#f7aa8c 234px,#f39778 293px,#ec8064 379px,#e16651 506px,#df634f 543px)"></i>
<i style="background:linear-gradient(90deg,#4860d1,#4b64d5 17px,#5470de 34px,#6383eb 52px,#799df8 70px,#93b5fe 86px,#aac6fd 99px,#c0d3f5 111px,#d5dbe5 124px,#dfdcda 132px,#ead4c8 144px,#f2c9b4 164px,#f7bba0 191px,#f7a98b 232px,#f39677 290px,#ec8064 376px,#e06650 504px,#de624e 543px)"></i>
<i style="background:linear-gradient(90deg,#4961d2,#4b65d5 17px,#5471de 34px,#6484eb 52px,#7a9df8 69px,#94b6ff 85px,#abc7fd 98px,#c1d4f5 110px,#d6dce4 123px,#dfdbd9 130px,#ead5c9 141px,#f2cab5 159px,#f7ba9e 189px,#f7a88a 231px,#f39476 291px,#eb7e62 379px,#df644f 508px,#de614d 543px)"></i>
<i style="background:linear-gradient(90deg,#4961d2,#4c65d5 17px,#5571de 34px,#6585ec 52px,#7a9df8 68px,#93b5fe 83px,#abc7fd 96px,#c1d4f5 108px,#d6dce4 121px,#dedcdb 127px,#e9d5c9 138px,#f2cab7 154px,#f7ba9f 184px,#f7a98b 224px,#f39577 282px,#ec7f63 366px,#e06550 491px,#dd5f4c 536px,#dd5f4c 543px)"></i>
<i style="background:linear-gradient(90deg,#4961d2,#4c66d6 17px,#5471de 33px,#6384eb 50px,#779af7 65px,#91b3fe 80px,#a9c6fd 93px,#bfd3f6 105px,#d4dbe6 118px,#dedcdb 125px,#ead4c9 136px,#f2cab6 151px,#f7bba1 178px,#f7ac8e 211px,#f49a7b 262px,#ee8468 338px,#e36c54 451px,#dd5f4b 528px,#dc5e4b 543px)"></i>
<i style="background:linear-gradient(90deg,#4962d3,#4c66d6 16px,#5571df 33px,#6383eb 49px,#7699f6 63px,#8eb0fe 77px,#a5c3fe 89px,#bcd1f7 101px,#d0daea 113px,#dedcdb 123px,#ead4c8 134px,#f2cab5 149px,#f6bca1 173px,#f7ad8f 204px,#f49b7c 254px,#ee8568 329px,#e36c55 440px,#dc5d4b 527px,#dc5d4a 543px)"></i>
<i style="background:linear-gradient(90deg,#4962d3,#4c66d6 16px,#5572df 33px,#6283ea 48px,#7598f6 62px,#8fb1fe 76px,#a7c4fe 88px,#bed2f6 100px,#d3dbe7 113px,#dedcda 121px,#ebd3c6 133px,#f2c9b4 147px,#f6bda2 168px,#f7ae90 198px,#f59c7d 245px,#ef876a 316px,#e56f56 422px,#db5c4a 525px,#db5b49 543px)"></i>
<i style="background:linear-gradient(90deg,#4a62d3,#4d66d6 16px,#5572df 33px,#6383eb 48px,#779af7 62px,#90b2fe 75px,#a7c5fe 86px,#bed3f6 98px,#d4dbe6 111px,#dedcdb 118px,#ead4c8 129px,#f2c9b4 144px,#f6bda3 163px,#f7ae90 194px,#f59b7c 242px,#ee8669 312px,#e46e56 417px,#db5b49 525px,#da5a48 543px)"></i>
<i style="background:linear-gradient(90deg,#4a63d3,#4d67d7 16px,#5673e0 33px,#6484eb 48px,#7699f6 61px,#90b3fe 74px,#a9c6fd 85px,#bfd3f6 96px,#d5dbe6 109px,#dedcdb 116px,#ebd3c6 128px,#f3c7b2 143px,#f6bca2 161px,#f7ac8e 194px,#f4997a 243px,#ed8467 316px,#e36b54 425px,#da5948 525px,#da5948 543px)"></i>
<i style="background:linear-gradient(90deg,#4a63d4,#4d67d7 16px,#5673e0 33px,#6383eb 47px,#7699f6 60px,#8fb1fe 72px,#a6c4fe 82px,#bcd1f7 92px,#d1dae9 104px,#dedcdb 113px,#ebd4c7 125px,#f3c8b3 139px,#f6bda3 156px,#f7ac8e 190px,#f4997a 239px,#ed8367 311px,#e36b54 419px,#d95847 525px,#d95747 543px)"></i>
<i style="background:linear-gradient(90deg,#4b64d4,#4e68d8 16px,#5674e0 33px,#6484eb 47px,#7598f6 59px,#8daffe 70px,#a5c3fe 80px,#bcd2f7 90px,#d0dae9 101px,#dddcdc 110px,#ebd4c8 122px,#f3c8b2 137px,#f6bca2 153px,#f7ab8d 186px,#f4997a 234px,#ed8367 305px,#e36b54 411px,#d85746 524px,#d85646 543px)"></i>
<i style="background:linear-gradient(90deg,#4b64d4,#4e68d8 16px,#5774e1 33px,#6485ec 47px,#7598f6 58px,#8badfd 68px,#a1c0ff 77px,#b8cff9 86px,#cdd9ed 96px,#dddcdc 107px,#ebd4c7 119px,#f3c7b1 135px,#f7bba1 151px,#f7ab8d 182px,#f4997a 228px,#ed8467 297px,#e36c54 401px,#d85546 523px,#d75545 543px)"></i>
<i style="background:linear-gradient(90deg,#4b64d5,#4e68d8 15px,#5774e1 32px,#6383eb 45px,#7598f6 57px,#8aadfd 67px,#a2c1ff 76px,#bad0f8 85px,#cdd9ec 94px,#dddcdc 104px,#ebd4c8 116px,#f3c8b2 131px,#f7bca1 147px,#f7af91 171px,#f59e7f 209px,#f08a6c 271px,#e67259 363px,#d95746 503px,#d75344 543px)"></i>
<i style="background:linear-gradient(90deg,#4c65d5,#4e69d8 15px,#5775e1 32px,#6485ec 45px,#7598f6 56px,#88abfd 65px,#a1c0ff 74px,#b6cefa 82px,#ccd9ed 91px,#dddcdd 101px,#ead5c9 112px,#f2c9b5 126px,#f7bba1 144px,#f7ae91 167px,#f59e7f 204px,#f08a6c 264px,#e6735a 354px,#d95847 490px,#d65244 535px,#d65243 543px)"></i>
<i style="background:linear-gradient(90deg,#4c65d6,#4f69d9 15px,#5876e2 32px,#6586ec 45px,#779af7 56px,#8baefd 65px,#a1c0ff 73px,#b8cff9 81px,#ced9ec 90px,#dcdcdd 98px,#e9d5ca 108px,#f2cab5 122px,#f7ba9f 142px,#f7ae90 164px,#f59d7e 202px,#ef896c 261px,#e67259 351px,#d95747 487px,#d55143 534px,#d55143 543px)"></i>
<i style="background:linear-gradient(90deg,#4c66d6,#4f6ad9 15px,#5977e3 32px,#6788ee 45px,#799cf8 56px,#8eb1fe 65px,#a5c3fe 73px,#bcd2f7 81px,#d0daea 89px,#dddcdc 96px,#e9d5ca 105px,#f2cab6 118px,#f7ba9f 139px,#f7ad8f 161px,#f59b7d 201px,#ef876a 263px,#e56f57 357px,#d75445 497px,#d44f42 540px,#d44f42 543px)"></i>
<i style="background:linear-gradient(90deg,#4c66d6,#4f6ad9 14px,#5977e2 30px,#6687ed 43px,#789bf7 54px,#8caffe 63px,#a3c2fe 71px,#b8cff9 78px,#cdd9ec 86px,#dedcdb 94px,#e9d5ca 102px,#f2cab6 114px,#f6bca1 133px,#f7af91 153px,#f59d7e 191px,#ef896c 249px,#e67259 336px,#d95747 468px,#d44e41 531px,#d44e41 543px)"></i>
<i style="background:linear-gradient(90deg,#4d66d7,#506bda 14px,#5977e3 29px,#6788ed 42px,#799cf8 53px,#8db0fe 62px,#a4c2fe 70px,#b9d0f9 77px,#cfdaeb 85px,#dedcdb 92px,#e9d5cb 99px,#f1cbb7 110px,#f6bfa6 124px,#f7af92 148px,#f59f80 183px,#f08b6d 239px,#e7745a 323px,#da5948 451px,#d34d40 529px,#d34c40 543px)"></i>
<i style="background:linear-gradient(90deg,#4d67d7,#506bda 13px,#5a78e3 28px,#698bef 42px,#7ca0f9 53px,#91b3fe 62px,#a9c6fe 70px,#bdd2f6 77px,#d3dbe7 85px,#dedcdb 90px,#e8d6cc 96px,#f1cbb8 106px,#f6c0a7 119px,#f7ae91 146px,#f59e7f 180px,#f08a6c 235px,#e7735a 318px,#da5948 445px,#d24b40 528px,#d24b3f 543px)"></i>
<i style="background:linear-gradient(90deg,#4d67d7,#506bda 13px,#5a78e4 27px,#698bef 40px,#7ea1fa 52px,#96b7ff 62px,#adc9fd 70px,#c5d6f2 78px,#d9dce1 86px,#e0dbd9 89px,#ebd3c7 96px,#f3c8b3 106px,#f6bda3 119px,#f7ab8d 148px,#f4997a 186px,#ee8568 246px,#e46d55 339px,#d65243 476px,#d14a3f 531px,#d1493f 543px)"></i>
<i style="background:linear-gradient(90deg,#4d68d7,#506cda 12px,#5a78e3 25px,#698bef 38px,#7ea2fa 50px,#98b9ff 61px,#b0cafc 69px,#c4d6f3 76px,#d9dce1 84px,#dfdcda 87px,#ebd3c6 94px,#f3c8b3 103px,#f6bea4 114px,#f7af92 136px,#f6a182 163px,#f18f70 210px,#e9795e 284px,#dd5f4c 398px,#d1483e 525px,#d0483e 543px)"></i>
<i style="background:linear-gradient(90deg,#4e68d7,#516cdb 12px,#5a78e3 24px,#6b8cf0 37px,#83a6fb 50px,#9bbbff 60px,#b2ccfb 68px,#c6d6f2 75px,#dadce0 83px,#e2dad5 87px,#edd1c1 94px,#f4c5af 103px,#f7bba0 114px,#f7ab8d 139px,#f59b7d 171px,#ef886b 225px,#e67158 309px,#d85646 436px,#d0473d 527px,#d0463d 543px)"></i>
<i style="background:linear-gradient(90deg,#4d68d7,#506cda 11px,#5977e3 22px,#6b8cf0 35px,#82a5fb 47px,#9abaff 57px,#afcafc 65px,#c6d6f2 73px,#dadce0 81px,#e2dad5 85px,#edd1c1 92px,#f4c6af 100px,#f7bba0 110px,#f7b194 124px,#f5a081 156px,#f18d6f 204px,#e8775c 279px,#dc5d4a 394px,#cf463d 524px,#cf453c 543px)"></i>
<i style="background:linear-gradient(90deg,#4d67d7,#506bda 10px,#5875e1 20px,#688aee 32px,#83a6fb 45px,#9bbcff 55px,#b0cbfc 63px,#c3d5f3 70px,#d7dce3 78px,#e0dbd8 82px,#ecd2c4 89px,#f4c6af 98px,#f7ba9f 108px,#f7b093 121px,#f59e7f 156px,#f08a6d 206px,#e7745a 283px,#da5a48 401px,#ce443c 525px,#ce433b 543px)"></i>
<i style="background:linear-gradient(90deg,#4d66d6,#506bda 10px,#5876e2 20px,#6789ee 30px,#81a4fb 42px,#9abbff 52px,#b2ccfb 61px,#c7d7f1 69px,#dadce0 77px,#e2dad5 81px,#efcfbf 89px,#f5c2aa 98px,#f7b79b 108px,#f7ad8f 121px,#f49a7c 158px,#ef876a 210px,#e57058 291px,#d85646 415px,#ce433b 525px,#cd423b 543px)"></i>
<i style="background:linear-gradient(90deg,#4c66d6,#4f6ad9 9px,#5774e1 18px,#6485ec 27px,#7ca0f9 38px,#94b6ff 47px,#aac6fd 55px,#bed3f6 63px,#d4dbe6 72px,#dedcda 77px,#ebd3c7 84px,#f4c6b0 93px,#f7ba9f 102px,#f7b092 113px,#f6a182 139px,#f19072 179px,#ea7a5f 246px,#de614d 349px,#ce443c 506px,#cd413a 543px)"></i>
<i style="background:linear-gradient(90deg,#4c65d6,#4f6ad9 9px,#5775e1 18px,#6485ec 26px,#799cf8 35px,#92b4fe 44px,#a9c6fd 52px,#bed3f6 60px,#d4dbe6 69px,#dedcdb 74px,#ebd3c6 82px,#f4c6af 91px,#f7b89d 101px,#f7ad8f 113px,#f59e7f 141px,#f08b6d 186px,#e7755b 258px,#db5b49 370px,#cc403a 521px,#cc3f39 543px)"></i>
<i style="background:linear-gradient(90deg,#4c65d5,#4e69d8 8px,#5673e0 16px,#6080e9 23px,#7598f6 32px,#8caffe 40px,#a5c3fe 48px,#bcd1f7 56px,#d1dae9 65px,#dddcdc 71px,#ecd2c4 80px,#f4c4ad 90px,#f7b69a 100px,#f7ac8e 111px,#f6a182 130px,#f29072 168px,#ea7b60 231px,#df634e 329px,#cf453c 479px,#cb3e38 532px,#cb3e38 543px)"></i>
<i style="background:linear-gradient(90deg,#4c65d6,#4f69d9 8px,#5774e1 16px,#6283ea 23px,#7699f6 31px,#8fb1fe 39px,#a6c4fe 46px,#bed3f6 54px,#d4dbe6 63px,#dddcdb 68px,#ecd3c5 77px,#f4c5ae 87px,#f7b699 98px,#f7aa8c 109px,#f5a081 127px,#f18e70 168px,#e9785e 234px,#dd5f4c 337px,#cd413a 492px,#ca3c38 538px,#ca3c38 543px)"></i>
<i style="background:linear-gradient(90deg,#4c66d6,#4f6ad9 8px,#5876e2 16px,#6485ec 23px,#779af7 30px,#8db0fe 37px,#a6c4fe 44px,#bdd2f7 51px,#d2dbe8 59px,#dedcdb 65px,#ebd4c7 73px,#f4c6b0 83px,#f7b69a 95px,#f7aa8c 106px,#f5a081 122px,#f18c6f 166px,#e8775d 232px,#dc5e4b 335px,#cc403a 491px,#c93a37 537px,#c93a37 543px)"></i>
<i style="background:linear-gradient(90deg,#4d67d7,#516cdb 8px,#5876e2 15px,#6485ec 22px,#7b9ef8 30px,#93b5fe 37px,#a9c6fd 43px,#c1d4f5 50px,#d2dbe8 56px,#dedcdb 62px,#ebd3c6 70px,#f4c6b0 80px,#f7b599 93px,#f7a88a 105px,#f59e7f 121px,#f08a6d 166px,#e7755b 233px,#db5b49 339px,#ca3d38 503px,#c83936 543px)"></i>
<i style="background:linear-gradient(90deg,#4f69d9,#526edc 8px,#5a78e4 15px,#6789ee 22px,#7c9ff9 29px,#95b7ff 36px,#acc8fd 42px,#c2d4f4 48px,#d6dce4 55px,#dfdcda 59px,#ecd3c5 67px,#f4c5af 77px,#f7b69a 89px,#f7a688 104px,#f59b7c 122px,#ef876a 168px,#e67159 239px,#d95847 350px,#c83936 516px,#c83735 543px)"></i>
<i style="background:linear-gradient(90deg,#516cdb,#5471de 8px,#5d7ce6 15px,#6b8df0 22px,#81a4fb 29px,#97b8ff 35px,#afcafc 41px,#c5d6f2 47px,#d7dce3 53px,#dfdcda 56px,#ead5c9 62px,#f3c8b3 71px,#f7b99e 83px,#f7a789 100px,#f59c7d 116px,#ef886b 161px,#e67259 229px,#d95848 338px,#c83936 506px,#c73535 543px)"></i>
<i style="background:linear-gradient(90deg,#5470de,#5774e1 7px,#5f7ee8 14px,#6c8ff1 21px,#7ea1fa 27px,#95b7ff 33px,#a9c6fd 38px,#bdd2f6 43px,#d2dbe8 49px,#dddcdc 53px,#ead4c8 59px,#f2c9b4 67px,#f6bca2 76px,#f7ad90 90px,#f59f80 106px,#f29374 129px,#ec7f63 180px,#e16852 262px,#d34c40 390px,#c63434 526px,#c63434 543px)"></i>
<i style="background:linear-gradient(90deg,#5775e1,#5a79e4 7px,#6485ec 15px,#7496f5 22px,#87aafc 28px,#9fbfff 34px,#b4cdfa 39px,#c8d7f0 44px,#dbdcdf 50px,#e8d6cd 55px,#f0cdba 61px,#f5c0a7 69px,#f7b497 79px,#f6a182 100px,#f39576 119px,#ed8265 167px,#e36b54 244px,#d55042 364px,#c53334 524px,#c53233 543px)"></i>
<i style="background:linear-gradient(90deg,#5c7be5,#5f7fe8 7px,#6a8bef 15px,#799cf8 22px,#8db0fe 28px,#a6c4fe 34px,#bbd1f8 39px,#ced9ec 44px,#dedcdb 49px,#ecd2c5 55px,#f3c8b2 61px,#f7bba0 69px,#f7af91 79px,#f59b7c 104px,#f18d6f 131px,#e9795f 186px,#de614d 276px,#cf443c 416px,#c43133 526px,#c43033 543px)"></i>
<i style="background:linear-gradient(90deg,#6282ea,#6586ec 7px,#7092f3 15px,#7fa3fa 22px,#94b6ff 28px,#acc8fd 34px,#c1d4f5 39px,#d3dbe7 44px,#dddcdd 47px,#e8d6cc 51px,#f1ccb9 56px,#f6bfa5 63px,#f7b396 71px,#f7a88a 81px,#f39476 111px,#ed8265 155px,#e36b54 229px,#d55042 346px,#c43032 517px,#c32f32 543px)"></i>
<i style="background:linear-gradient(90deg,#698bef,#6d8ff2 8px,#779af7 15px,#87aafc 22px,#9fbfff 29px,#b3cdfb 34px,#c3d5f3 38px,#d5dbe5 43px,#dfdcda 46px,#ecd2c5 51px,#f4c6af 57px,#f7b89c 64px,#f7ac8f 72px,#f6a384 83px,#f18f71 116px,#ea7b60 167px,#e0644f 248px,#d1483e 378px,#c32e31 524px,#c22d31 543px)"></i>
<i style="background:linear-gradient(90deg,#7294f4,#7699f6 8px,#80a3fa 15px,#8fb2fe 22px,#a7c5fe 29px,#bad1f8 34px,#cdd9ec 39px,#dbdcdf 43px,#e6d7cf 47px,#f1cdba 52px,#f5c1a8 57px,#f7b396 64px,#f7a889 72px,#f59f80 83px,#f08a6d 121px,#e8765c 176px,#dc5e4b 268px,#cd413a 408px,#c22c31 525px,#c22b30 543px)"></i>
<i style="background:linear-gradient(90deg,#7c9ff9,#80a3fa 8px,#89acfd 15px,#99baff 22px,#b0cafc 29px,#c2d5f4 34px,#d3dbe7 39px,#dddcdd 42px,#e8d6cb 46px,#f2cab7 51px,#f6bca2 57px,#f7ae90 64px,#f6a385 72px,#f49a7b 84px,#ee8669 126px,#e67158 188px,#d95747 289px,#c83836 447px,#c12a30 526px,#c12a30 543px)"></i>
<i style="background:linear-gradient(90deg,#87aafc,#8baefd 8px,#96b7ff 16px,#a3c1fe 22px,#b5cefa 28px,#c6d6f2 33px,#d6dce4 38px,#dfdbd9 41px,#ecd2c4 46px,#f4c4ad 52px,#f7b89c 57px,#f7aa8b 64px,#f59f80 72px,#f39778 84px,#ec8165 132px,#e36b54 200px,#d65143 309px,#c43032 479px,#c0282f 533px,#c0282f 543px)"></i>
<i style="background:linear-gradient(90deg,#94b5fe,#97b9ff 8px,#a2c1fe 16px,#b0cbfc 23px,#c2d4f4 29px,#d1dae9 34px,#dcdcdd 38px,#ecd2c4 44px,#f5c1a9 51px,#f7b396 57px,#f6a587 64px,#f49a7b 73px,#f29274 86px,#eb7d61 138px,#e06651 211px,#d24b3f 330px,#c0282f 512px,#bf252e 543px)"></i>
<i style="background:linear-gradient(90deg,#a0c0ff,#a4c2fe 8px,#afcafc 17px,#c0d3f5 25px,#d2dbe8 32px,#dddcdc 36px,#ecd3c5 42px,#f4c5ae 48px,#f7b396 55px,#f7a688 61px,#f49a7c 69px,#f29274 80px,#e9795f 141px,#de624e 220px,#cf463d 346px,#be232e 524px,#be222d 543px)"></i>
<i style="background:linear-gradient(90deg,#aec9fc,#b2ccfb 9px,#bdd2f7 18px,#cad8ef 25px,#dadce0 32px,#e4d9d2 36px,#f1ccb9 43px,#f7bba0 50px,#f7ac8e 56px,#f59d7e 64px,#f29274 74px,#ec8165 114px,#e36b54 178px,#d65243 281px,#c43133 444px,#bf252e 503px,#bd1f2d 535px,#bd1f2d 543px)"></i>
<i style="background:linear-gradient(90deg,#bbd1f8,#bfd3f6 10px,#cbd8ee 20px,#d7dce3 27px,#dfdbd9 31px,#edd1c2 38px,#f5c2aa 45px,#f7af91 53px,#f5a081 60px,#f39576 68px,#f18c6f 79px,#e67259 149px,#da5a48 239px,#ca3c37 381px,#bf252e 493px,#bc1d2c 529px,#bc1c2c 543px)"></i>
<i style="background:linear-gradient(90deg,#c8d7f0,#ccd9ed 11px,#d5dbe5 20px,#e0dbd9 27px,#edd1c2 35px,#f5c1a9 43px,#f7ac8e 52px,#f59e7f 59px,#f29173 68px,#ef896c 80px,#e56f57 152px,#d85646 244px,#c83736 392px,#bf252e 484px,#bb1b2c 526px,#bb1a2b 543px)"></i>
<i style="background:linear-gradient(90deg,#d3dbe7,#d7dce3 12px,#dfdbd9 21px,#ead4c8 29px,#f4c6b0 38px,#f7b396 47px,#f6a183 55px,#f39476 63px,#f08a6c 74px,#e67158 141px,#d95847 231px,#c93936 374px,#bf252e 475px,#bb182b 524px,#ba172b 543px)"></i>
<i style="background:linear-gradient(90deg,#dedcdb,#e1dad7 11px,#e8d6cc 21px,#f0cdba 30px,#f7ba9f 41px,#f6a384 52px,#f39577 60px,#f08a6c 71px,#ed8266 87px,#e26a53 156px,#d55042 257px,#c42f32 415px,#bf242e 467px,#ba162b 523px,#b9142a 543px)"></i>
<i style="background:linear-gradient(90deg,#e7d7cd,#e9d5c9 11px,#eed0bf 21px,#f4c6b0 30px,#f7b295 42px,#f59d7e 53px,#f18f71 63px,#ee8568 75px,#e46c55 142px,#d75445 234px,#c63434 384px,#bf252e 458px,#b9142a 522px,#b9122a 543px)"></i>
<i style="background:linear-gradient(90deg,#eecfbf,#f0cdbb 12px,#f4c6b0 23px,#f7b79c 35px,#f59e7f 50px,#f18f71 60px,#ee8467 73px,#e57057 126px,#d95847 212px,#c93936 351px,#bf252e 449px,#b8112a 521px,#b81029 543px)"></i>
<i style="background:linear-gradient(90deg,#f3c7b2,#f4c4ad 13px,#f6bda3 24px,#f7ad90 37px,#f39475 54px,#ee8669 67px,#eb7d61 85px,#e06650 153px,#d24b40 259px,#c0292f 426px,#b80f29 521px,#b70e29 543px)"></i>
<i style="background:linear-gradient(90deg,#f6bfa5,#f6bca1 13px,#f7b498 25px,#f6a384 40px,#f18e70 56px,#ed8265 71px,#e67259 110px,#da5a48 191px,#ca3d38 322px,#bf252e 435px,#b70e29 520px,#b70c28 543px)"></i>
<i style="background:linear-gradient(90deg,#f7b69a,#f7b396 15px,#f7aa8c 28px,#f08c6e 55px,#ec8064 71px,#e57058 111px,#d95847 194px,#c93a37 329px,#bf252e 428px,#b70c28 520px,#b60a28 543px)"></i>
<i style="background:linear-gradient(90deg,#f7ae90,#f7aa8c 17px,#f5a081 32px,#ef886b 57px,#ea7b60 78px,#e06650 139px,#d24b40 243px,#c0292f 406px,#b60a28 520px,#b50927 543px)"></i>
<i style="background:linear-gradient(90deg,#f7a788,#f6a384 18px,#f49778 36px,#ed8366 61px,#e7755c 89px,#dd5e4b 161px,#ce433b 276px,#bf252e 418px,#b60928 519px,#b50727 543px)"></i>
<i style="background:linear-gradient(90deg,#f5a081,#f59c7d 20px,#f18d6f 43px,#eb7d62 68px,#e36b54 114px,#d65344 204px,#c53334 349px,#bf252e 413px,#b50827 519px,#b50627 543px)"></i>
<i style="background:linear-gradient(90deg,#f49a7b,#f39677 21px,#ee8669 50px,#e8755c 83px,#dd604c 151px,#ce443c 264px,#bf252e 410px,#b50727 519px,#b40527 543px)"></i>
<i style="background:linear-gradient(90deg,#f39576,#f29172 23px,#e8765c 80px,#de604c 146px,#cf453c 259px,#bf252e 407px,#b50627 518px,#b40426 543px)"></i>
<i style="background:linear-gradient(90deg,#f29172,#f18d6f 25px,#e56f57 96px,#d95747 179px,#c83836 314px,#bf252e 405px,#b40627 518px,#b40426 543px)"></i>
<i style="background:linear-gradient(90deg,#f18e70,#f08a6c 26px,#e36b54 108px,#d65243 199px,#c53133 345px,#bf252e 403px,#b40527 518px,#b40426 543px)"></i>
<i style="background:linear-gradient(90deg,#f08b6e,#ef876a 28px,#e16852 115px,#d44e41 211px,#c32e31 361px,#bf252e 403px,#b40527 518px,#b40426 543px)"></i>
<i style="background:linear-gradient(90deg,#f08a6d,#ee8669 30px,#e7735a 83px,#dc5d4a 153px,#cd413a 270px,#bf252e 401px,#b40527 517px,#b40426 543px)"></i>
</div>
<div class="hm" style="left:31px;top:420px;width:262px;height:247px">
<i style="background:linear-gradient(90deg,#3b4cc0,#3c4ec2 10px,#475ed0 28px,#6484eb 67px,#7ea1fa 97px,#96b7ff 123px,#aec9fd 150px,#c4d6f3 180px,#d8dce2 214px,#dfdbd9 229px,#e8d6cc 252px,#e9d5ca 262px)"></i>
<i style="background:linear-gradient(90deg,#3b4cc0,#3c4fc2 10px,#475ed0 28px,#6484eb 67px,#7ea1fa 97px,#96b7ff 123px,#aec9fd 150px,#c4d6f2 180px,#d8dce2 214px,#dfdbd9 228px,#e8d6cc 251px,#e9d5ca 262px)"></i>
<i style="background:linear-gradient(90deg,#3b4cc0,#3d4fc3 11px,#4d67d7 37px,#698aef 73px,#82a5fb 101px,#9abaff 127px,#b1cbfb 154px,#c8d7f0 185px,#dbdcde 220px,#e8d6cc 250px,#e9d5ca 262px)"></i>
<i style="background:linear-gradient(90deg,#3b4cc0,#3d4fc3 11px,#4d67d7 37px,#698aef 73px,#82a5fb 101px,#9abbff 127px,#b1cbfb 154px,#c8d7f0 185px,#dcddde 220px,#e8d6cc 250px,#e9d5ca 262px)"></i>
<i style="background:linear-gradient(90deg,#3b4cc0,#3d4fc3 11px,#4d67d7 37px,#6a8cf0 74px,#82a5fb 101px,#9abbff 127px,#b2ccfb 154px,#c9d7f0 185px,#dcdddd 220px,#e8d6cc 249px,#ead5c9 262px)"></i>
<i style="background:linear-gradient(90deg,#3b4cc0,#3d4fc3 11px,#4c66d6 36px,#698bef 73px,#82a6fb 101px,#9bbbff 127px,#b2ccfb 154px,#c9d8ef 185px,#dcdddd 220px,#e8d6cb 249px,#ead4c9 262px)"></i>
<i style="background:linear-gradient(90deg,#3b4cc0,#3d4fc3 11px,#4c65d6 35px,#6889ee 71px,#81a4fb 99px,#99baff 125px,#b1cbfb 152px,#c8d7f0 183px,#dcddde 218px,#e9d5cb 249px,#ead4c8 262px)"></i>
<i style="background:linear-gradient(90deg,#3b4cc0,#3d50c4 12px,#5774e1 50px,#7294f4 82px,#8aadfd 108px,#a2c1ff 134px,#bad0f8 162px,#cfdaea 193px,#dedcdb 221px,#e9d5c9 250px,#ebd4c7 262px)"></i>
<i style="background:linear-gradient(90deg,#3b4cc0,#3d50c4 12px,#5775e1 50px,#7295f4 82px,#8badfd 108px,#a3c2fe 134px,#bbd1f8 162px,#d0daea 193px,#dedcdb 220px,#ead4c8 250px,#ebd3c6 262px)"></i>
<i style="background:linear-gradient(90deg,#3b4cc0,#3d50c4 12px,#5774e1 49px,#7193f4 80px,#89acfd 106px,#a1c0ff 131px,#b9d0f9 159px,#cedaeb 189px,#dedcdb 218px,#ead4c8 249px,#ecd3c5 262px)"></i>
<i style="background:linear-gradient(90deg,#3b4dc0,#3e51c4 12px,#5774e1 49px,#7194f4 80px,#8aadfd 106px,#a2c1ff 131px,#bad1f8 159px,#cfdaea 189px,#dedcdb 216px,#ebd4c7 248px,#ecd2c4 262px)"></i>
<i style="background:linear-gradient(90deg,#3b4dc1,#3e51c4 12px,#5775e1 49px,#7295f4 80px,#8baefd 106px,#a3c1ff 131px,#bbd1f8 159px,#d1dae9 190px,#dedcdb 215px,#ebd3c6 247px,#edd1c3 262px)"></i>
<i style="background:linear-gradient(90deg,#3b4dc1,#3e51c4 12px,#5774e1 48px,#7194f4 79px,#8badfd 105px,#a3c1ff 130px,#bbd1f8 157px,#d0daea 187px,#dedcdb 213px,#ecd3c5 246px,#edd1c1 260px,#edd1c1 262px)"></i>
<i style="background:linear-gradient(90deg,#3b4dc1,#3e51c5 12px,#5673e0 47px,#7093f3 77px,#89acfd 103px,#a1c0ff 127px,#b9d0f8 154px,#cfdaeb 183px,#dedcdb 211px,#ecd3c5 244px,#eed0c0 258px,#eed0c0 262px)"></i>
<i style="background:linear-gradient(90deg,#3b4dc1,#3e51c5 12px,#5774e0 47px,#7193f4 77px,#89acfd 102px,#a1c0ff 126px,#b9d0f9 152px,#ced9eb 181px,#dedcdb 209px,#ecd3c5 242px,#eecfbf 257px,#efcfbf 262px)"></i>
<i style="background:linear-gradient(90deg,#3b4dc1,#3e52c5 12px,#5673e0 46px,#7093f3 76px,#89acfd 101px,#a1c0ff 125px,#b9d0f9 151px,#cfdaeb 180px,#dedcdb 207px,#ecd3c5 240px,#efcfbe 255px,#efcebd 262px)"></i>
<i style="background:linear-gradient(90deg,#3b4ec1,#3e52c5 12px,#5674e0 46px,#7194f4 76px,#8aadfd 101px,#a2c1ff 125px,#bad1f8 151px,#d0daea 180px,#dedcdb 205px,#ecd3c5 237px,#efcebd 254px,#f0cebc 262px)"></i>
<i style="background:linear-gradient(90deg,#3c4ec2,#3e52c5 12px,#5673e0 45px,#7193f3 75px,#8aacfd 100px,#a1c0ff 123px,#b9d0f8 149px,#cfdaeb 177px,#dedcdb 203px,#ebd3c6 234px,#f0cdbc 253px,#f0cdba 262px)"></i>
<i style="background:linear-gradient(90deg,#3c4ec2,#3f52c5 12px,#5673e0 45px,#7194f4 75px,#89acfd 99px,#a1c0ff 122px,#b9d0f9 147px,#cedaeb 175px,#dedcdb 201px,#ebd3c6 232px,#f0cdba 252px,#f1ccb9 262px)"></i>
<i style="background:linear-gradient(90deg,#3c4ec2,#3f52c6 12px,#5673e0 44px,#7092f3 73px,#89acfd 98px,#a1c0ff 121px,#b9d0f9 146px,#ced9eb 173px,#dedcdb 199px,#ebd3c6 229px,#f1ccb9 252px,#f1cbb8 262px)"></i>
<i style="background:linear-gradient(90deg,#3c4ec2,#3e52c5 11px,#4d66d6 32px,#6b8df1 68px,#84a7fc 92px,#9cbcff 115px,#b5cdfa 140px,#cbd8ee 167px,#dddcdc 196px,#ebd4c7 226px,#f1cbb8 251px,#f2cab6 262px)"></i>
<i style="background:linear-gradient(90deg,#3c4ec2,#3f52c5 11px,#4d67d7 32px,#6c8ef1 68px,#84a8fc 92px,#9cbcff 114px,#b4cdfa 138px,#cad8ef 164px,#dcdddd 193px,#ead4c8 223px,#f2cab6 251px,#f2c9b5 262px)"></i>
<i style="background:linear-gradient(90deg,#3c4fc2,#3f52c6 11px,#4c66d6 31px,#6b8cf0 66px,#83a6fb 90px,#9bbbff 112px,#b2ccfb 135px,#c9d8f0 161px,#dcdddd 191px,#ead4c8 221px,#f2cab5 251px,#f3c8b3 262px)"></i>
<i style="background:linear-gradient(90deg,#3c4fc2,#3f52c6 11px,#4c66d6 31px,#6b8df0 66px,#84a7fc 90px,#9cbcff 112px,#b4cdfa 136px,#cbd8ee 162px,#dddcdd 190px,#ebd4c7 219px,#f3c9b4 251px,#f3c7b2 262px)"></i>
<i style="background:linear-gradient(90deg,#3c4fc3,#3f53c6 11px,#4d66d7 31px,#6c8ef1 66px,#85a8fc 90px,#9dbdff 112px,#b5cdfa 135px,#cbd8ee 161px,#dddcdc 189px,#ebd4c7 218px,#f3c8b3 250px,#f3c6b0 262px)"></i>
<i style="background:linear-gradient(90deg,#3d4fc3,#3f53c6 11px,#4d67d7 31px,#6c8ef1 66px,#85a9fc 90px,#9ebeff 112px,#b6cefa 135px,#ccd9ee 160px,#dddcdc 187px,#ebd4c7 215px,#f3c7b1 249px,#f4c6af 262px)"></i>
<i style="background:linear-gradient(90deg,#3d4fc3,#3f53c6 11px,#4d67d7 31px,#6c8ef1 65px,#84a7fc 88px,#9cbcff 109px,#b4cdfa 132px,#cad8ee 157px,#dcdddd 184px,#ead4c8 212px,#f3c7b1 247px,#f4c5ad 262px)"></i>
<i style="background:linear-gradient(90deg,#3d4fc3,#3f53c6 11px,#4d66d6 30px,#6a8cf0 63px,#83a6fb 86px,#9abbff 107px,#b2ccfb 129px,#c9d8ef 154px,#dcdddd 182px,#ead4c8 210px,#f3c7b0 245px,#f5c4ac 260px,#f5c4ac 262px)"></i>
<i style="background:linear-gradient(90deg,#3d50c3,#4054c7 11px,#4d67d7 30px,#6b8df0 63px,#84a7fc 86px,#9cbcff 107px,#b3cdfb 129px,#cad8ef 153px,#dcdddd 180px,#ead4c8 207px,#f3c7b1 242px,#f5c3ab 257px,#f5c2aa 262px)"></i>
<i style="background:linear-gradient(90deg,#3d50c3,#4054c7 11px,#4c66d6 29px,#6a8cf0 62px,#83a7fb 85px,#9bbcff 106px,#b4cdfb 128px,#cad8ef 152px,#ddd 179px,#ebd4c7 207px,#f4c6af 242px,#f5c2a9 257px,#f5c1a9 262px)"></i>
<i style="background:linear-gradient(90deg,#3d50c4,#4054c7 11px,#4d66d6 29px,#6b8df0 62px,#84a7fc 85px,#9bbcff 105px,#b4cdfa 127px,#cad8ef 150px,#dcdddd 176px,#ead4c8 203px,#f3c7b1 237px,#f5c1a8 254px,#f5c0a7 262px)"></i>
<i style="background:linear-gradient(90deg,#3d50c4,#4054c7 11px,#4d67d7 29px,#6b8df1 62px,#84a7fc 84px,#9bbcff 104px,#b3ccfb 125px,#c9d8ef 148px,#dcddde 174px,#ead4c8 201px,#f3c7b1 234px,#f6c0a7 253px,#f6bfa6 262px)"></i>
<i style="background:linear-gradient(90deg,#3d50c4,#4054c7 11px,#4d67d7 29px,#6b8df0 61px,#84a7fc 83px,#9bbcff 103px,#b3cdfb 124px,#cad8ef 147px,#dcdddd 173px,#ead4c8 199px,#f3c7b1 232px,#f6bfa6 252px,#f6bea4 262px)"></i>
<i style="background:linear-gradient(90deg,#3e51c4,#4055c8 11px,#4c66d6 28px,#6a8cf0 60px,#83a7fb 82px,#9bbcff 102px,#b4cdfb 123px,#c9d8ef 145px,#dcdddd 171px,#ead4c8 197px,#f3c7b1 229px,#f6bea4 252px,#f6bda3 262px)"></i>
<i style="background:linear-gradient(90deg,#3e51c4,#4055c8 11px,#4d67d7 28px,#6a8cf0 59px,#83a6fb 81px,#9bbcff 101px,#b4cdfb 122px,#cad8ef 144px,#dcdddd 169px,#ead4c9 194px,#f3c7b2 226px,#f6bda3 251px,#f7bca1 262px)"></i>
<i style="background:linear-gradient(90deg,#3e51c4,#4155c8 11px,#4d67d7 28px,#6a8cf0 59px,#84a7fc 81px,#9bbcff 100px,#b3ccfb 120px,#c9d8ef 142px,#dcdddd 167px,#ead4c8 193px,#f3c7b1 225px,#f7bca1 251px,#f7bba0 262px)"></i>
<i style="background:linear-gradient(90deg,#3e51c5,#4155c8 11px,#4d67d7 28px,#6b8df0 59px,#84a7fc 80px,#9bbcff 99px,#b3ccfb 119px,#cad8ef 141px,#ddd 166px,#ead4c8 191px,#f4c6b0 223px,#f7bba0 251px,#f7b99e 262px)"></i>
<i style="background:linear-gradient(90deg,#3e51c5,#4156c8 11px,#4d67d7 27px,#6a8bef 57px,#83a7fb 79px,#9bbcff 98px,#b3cdfb 118px,#cad8ef 140px,#dcdddd 164px,#ead4c8 189px,#f3c7b1 220px,#f7ba9e 250px,#f7b89c 262px)"></i>
<i style="background:linear-gradient(90deg,#3e52c5,#4156c9 11px,#4d67d7 27px,#698bef 56px,#83a6fb 78px,#9bbcff 97px,#b2ccfb 116px,#c9d7f0 137px,#dcddde 161px,#ead4c8 186px,#f3c7b1 217px,#f7b89d 250px,#f7b79b 262px)"></i>
<i style="background:linear-gradient(90deg,#3e52c5,#4156c9 11px,#4c66d6 26px,#698aef 55px,#83a6fb 77px,#9bbbff 96px,#b3ccfb 115px,#c9d8ef 136px,#dcdddd 160px,#ead4c8 184px,#f3c7b1 214px,#f7b79b 250px,#f7b599 262px)"></i>
<i style="background:linear-gradient(90deg,#3f52c5,#4156c9 11px,#4d66d6 26px,#698bef 55px,#82a6fb 76px,#9bbcff 95px,#b3ccfb 114px,#cad8ef 135px,#dcdddd 158px,#ead4c8 182px,#f3c7b1 212px,#f7b69a 249px,#f7b498 262px)"></i>
<i style="background:linear-gradient(90deg,#3f52c6,#4257c9 11px,#4d67d7 26px,#698aef 54px,#82a5fb 75px,#9abaff 93px,#b1cbfb 111px,#c8d7f0 132px,#dbdcde 155px,#ead5c9 179px,#f3c8b2 208px,#f7b599 248px,#f7b396 262px)"></i>
<i style="background:linear-gradient(90deg,#3f53c6,#4257ca 11px,#4d67d7 26px,#698bef 54px,#83a6fb 75px,#9bbbff 93px,#b2ccfb 111px,#c9d7f0 131px,#dcddde 154px,#ead4c9 177px,#f3c7b2 206px,#f7b498 247px,#f7b294 262px)"></i>
<i style="background:linear-gradient(90deg,#3f53c6,#4257ca 11px,#4d68d7 26px,#6a8bef 54px,#84a7fc 75px,#9cbcff 93px,#b5cefa 112px,#cbd8ee 132px,#dddcdc 154px,#ebd4c7 177px,#f4c6b0 206px,#f7b396 247px,#f7b093 262px)"></i>
<i style="background:linear-gradient(90deg,#3f53c6,#4257ca 11px,#4e68d8 26px,#698bef 53px,#82a6fb 73px,#9bbbff 91px,#b3ccfb 109px,#c9d7f0 128px,#dbdcde 150px,#ead4c9 173px,#f3c7b2 201px,#f7b497 241px,#f7af91 257px,#f7af91 262px)"></i>
<i style="background:linear-gradient(90deg,#3f53c6,#4257ca 10px,#4c66d6 24px,#6889ee 51px,#82a5fb 72px,#99baff 89px,#b0cbfc 106px,#c7d7f1 125px,#dbdcdf 147px,#e5d8d1 162px,#f1cdba 188px,#f7bca1 223px,#f7af91 251px,#f7ad8f 262px)"></i>
<i style="background:linear-gradient(90deg,#3f53c7,#4257ca 10px,#4c65d5 23px,#6788ee 50px,#81a5fb 71px,#99baff 88px,#b1cbfc 105px,#c7d7f0 124px,#dadcdf 145px,#e4d9d3 158px,#efcebd 182px,#f6bfa5 214px,#f7ad90 250px,#f7ac8e 262px)"></i>
<i style="background:linear-gradient(90deg,#4054c7,#4257ca 10px,#4c65d5 23px,#6889ee 50px,#82a6fb 71px,#9bbbff 88px,#b2ccfb 105px,#c9d8ef 124px,#dcddde 145px,#ead4c8 167px,#f3c7b1 194px,#f7b498 232px,#f7ab8d 253px,#f7aa8c 262px)"></i>
<i style="background:linear-gradient(90deg,#4054c7,#4258ca 10px,#4c66d6 23px,#688aee 50px,#82a6fb 70px,#9bbbff 87px,#b3ccfb 104px,#cad8ef 123px,#dcdddd 144px,#ebd4c7 166px,#f3c6b0 193px,#f7b397 231px,#f7aa8c 253px,#f7a98b 262px)"></i>
<i style="background:linear-gradient(90deg,#4054c7,#4258ca 10px,#4c66d6 23px,#6889ee 49px,#82a5fb 69px,#9bbbff 86px,#b1cbfb 102px,#c8d7f0 120px,#dcdcde 141px,#ead5c9 162px,#f3c8b2 188px,#f7b598 225px,#f7a98a 251px,#f7a789 262px)"></i>
<i style="background:linear-gradient(90deg,#4054c7,#4358cb 10px,#4d66d6 23px,#688aee 49px,#81a5fb 68px,#99baff 84px,#b0cbfc 100px,#c7d7f1 118px,#dbdcdf 138px,#e5d8d1 152px,#f0cdbb 175px,#f6bda2 207px,#f7a88a 248px,#f7a687 262px)"></i>
<i style="background:linear-gradient(90deg,#4055c8,#4358cb 10px,#4c65d6 22px,#6889ee 48px,#82a6fb 68px,#9abbff 84px,#b2ccfb 100px,#c9d8ef 118px,#dcdddd 138px,#ead4c9 158px,#f3c7b2 184px,#f7b498 220px,#f6a687 251px,#f6a486 262px)"></i>
<i style="background:linear-gradient(90deg,#4055c8,#4359cb 10px,#4c66d6 22px,#688aee 48px,#82a5fb 67px,#9abbff 83px,#b2ccfb 99px,#c8d7f0 116px,#dcddde 136px,#ead4c9 156px,#f3c8b2 181px,#f7b498 217px,#f6a486 250px,#f6a384 262px)"></i>
<i style="background:linear-gradient(90deg,#4155c8,#4359cb 10px,#4c66d6 22px,#6889ee 47px,#82a5fb 66px,#9abbff 82px,#b1cbfb 97px,#c8d7f0 114px,#dbdcdf 133px,#e8d6cb 151px,#f2c9b5 175px,#f7b79b 209px,#f6a384 249px,#f6a182 262px)"></i>
<i style="background:linear-gradient(90deg,#4155c8,#4359cc 10px,#4d67d7 22px,#688aee 47px,#81a5fb 65px,#99baff 80px,#b0cbfc 95px,#c7d7f1 112px,#dbdcdf 131px,#e6d8d0 145px,#f1ccb9 168px,#f7bba0 200px,#f6a485 244px,#f59f81 260px,#f59f81 262px)"></i>
<i style="background:linear-gradient(90deg,#4156c9,#445acc 10px,#4d67d7 22px,#698bef 47px,#82a6fb 65px,#9abbff 80px,#b2ccfb 95px,#c8d7f0 111px,#dbdcde 130px,#ead5c9 149px,#f3c8b2 173px,#f7b598 208px,#f5a081 249px,#f59e7f 262px)"></i>
<i style="background:linear-gradient(90deg,#4156c9,#445acc 10px,#4d67d7 22px,#688aef 46px,#82a5fb 64px,#9abbff 79px,#b1cbfc 93px,#c7d7f1 109px,#dadcdf 127px,#e3dad4 137px,#eecfbf 157px,#f6c0a7 185px,#f7ab8c 224px,#f59d7f 252px,#f59c7d 262px)"></i>
<i style="background:linear-gradient(90deg,#4156c9,#445acc 10px,#4e68d8 22px,#698bef 46px,#83a7fb 64px,#9cbcff 79px,#b4cdfa 94px,#cad8ef 110px,#dddcdc 128px,#ead4c8 146px,#f3c7b2 169px,#f7b598 202px,#f59e7f 245px,#f49b7c 262px)"></i>
<i style="background:linear-gradient(90deg,#4156c9,#445acd 10px,#4e68d8 22px,#6a8cef 46px,#83a6fb 63px,#9cbcff 78px,#b4cdfa 93px,#cad8ef 108px,#dcddde 125px,#ead5c9 143px,#f3c8b2 166px,#f7b598 199px,#f59d7f 243px,#f4997a 259px,#f4997a 262px)"></i>
<i style="background:linear-gradient(90deg,#4257c9,#445bcd 10px,#4e69d8 22px,#698bef 45px,#82a6fb 62px,#9abbff 76px,#b1cbfb 90px,#c8d7f0 105px,#dbdcdf 122px,#e5d8d1 134px,#f0cdbb 154px,#f6bda3 182px,#f7a789 221px,#f4997a 251px,#f49778 262px)"></i>
<i style="background:linear-gradient(90deg,#4257ca,#455bcd 10px,#4e68d8 21px,#698aef 44px,#82a6fb 61px,#9abbff 75px,#b2ccfb 89px,#c8d7f0 104px,#dbdcde 121px,#e9d5ca 138px,#f3c8b3 160px,#f7b599 192px,#f59f80 234px,#f39677 254px,#f39577 262px)"></i>
<i style="background:linear-gradient(90deg,#4257ca,#455bce 10px,#4e68d8 21px,#698bef 44px,#83a7fb 61px,#9cbcff 75px,#b4cdfa 89px,#cad8ee 104px,#dcdddd 120px,#ead4c9 137px,#f3c7b2 159px,#f7b498 191px,#f59e7f 232px,#f39476 254px,#f39475 262px)"></i>
<i style="background:linear-gradient(90deg,#4258ca,#455cce 10px,#4e69d8 21px,#6a8cf0 44px,#85a8fc 61px,#9ebdff 75px,#b4cdfa 88px,#cbd8ee 103px,#dddcdc 119px,#ebd4c7 136px,#f3c7b0 158px,#f7b397 190px,#f59d7e 231px,#f29374 253px,#f29273 262px)"></i>
<i style="background:linear-gradient(90deg,#4258ca,#455cce 10px,#4f69d9 21px,#698bef 43px,#83a6fb 59px,#9cbcff 73px,#b3ccfb 86px,#c9d8ef 100px,#dcddde 116px,#e9d5c9 132px,#f3c8b3 153px,#f7b599 184px,#f59f80 224px,#f29173 252px,#f29072 262px)"></i>
<i style="background:linear-gradient(90deg,#4358cb,#465cce 10px,#4f6ad9 21px,#6a8cf0 43px,#84a7fc 59px,#9cbcff 72px,#b3cdfb 85px,#cad8ef 99px,#ddd 115px,#e9d5c9 130px,#f3c8b3 150px,#f7b69a 180px,#f59f81 219px,#f19072 251px,#f18e70 262px)"></i>
<i style="background:linear-gradient(90deg,#4358cb,#465dcf 10px,#4f6ad9 21px,#6b8df0 43px,#85a8fc 59px,#9dbdff 72px,#b6cefa 85px,#ccd9ed 99px,#dcdddd 113px,#ead4c8 129px,#f3c8b2 149px,#f7b598 179px,#f59e7f 218px,#f18e70 251px,#f18c6f 262px)"></i>
<i style="background:linear-gradient(90deg,#4359cb,#465dcf 10px,#506bda 21px,#6a8cf0 42px,#85a8fc 58px,#9dbdff 71px,#b4cdfa 83px,#cbd8ee 97px,#dcdddd 111px,#ead5c9 126px,#f3c8b3 146px,#f7b599 175px,#f59f80 213px,#f08c6e 251px,#f08b6d 262px)"></i>
<i style="background:linear-gradient(90deg,#4359cc,#465dcf 10px,#506bda 21px,#6a8bef 41px,#85a8fc 57px,#9bbcff 69px,#b3ccfb 81px,#c9d8ef 94px,#dcdddd 109px,#ead5c9 124px,#f3c8b3 143px,#f7b599 172px,#f59f81 209px,#f08b6d 250px,#ef896b 262px)"></i>
<i style="background:linear-gradient(90deg,#4359cc,#475ecf 10px,#506cda 21px,#6b8cf0 41px,#86a9fc 57px,#9dbdff 69px,#b5cefa 81px,#cbd9ee 94px,#dddcdc 108px,#ebd4c8 123px,#f3c7b1 143px,#f7b497 172px,#f59d7f 209px,#ef896b 250px,#ef876a 262px)"></i>
<i style="background:linear-gradient(90deg,#445acc,#475ed0 10px,#516cdb 21px,#6b8df1 41px,#86a9fc 56px,#9dbdff 68px,#b4cdfa 79px,#cbd8ee 92px,#ddd 106px,#ead4c9 120px,#f3c8b2 139px,#f7b598 167px,#f59f80 203px,#ef876a 248px,#ee8568 262px)"></i>
<i style="background:linear-gradient(90deg,#445acc,#475fd0 10px,#516ddb 21px,#6b8df0 40px,#85a8fc 55px,#9ebdff 67px,#b4cdfa 78px,#cad8ef 90px,#ddd 104px,#ead4c9 118px,#f3c8b3 136px,#f7b599 164px,#f59f80 200px,#ee8669 246px,#ed8367 262px)"></i>
<i style="background:linear-gradient(90deg,#445acd,#475ed0 9px,#4f6ad9 19px,#698aef 38px,#83a6fb 53px,#9bbcff 65px,#b3ccfb 76px,#c9d8ef 88px,#dbdcde 101px,#e9d5ca 115px,#f3c8b3 133px,#f7b699 160px,#f5a081 195px,#ee8669 242px,#ec8165 259px,#ec8165 262px)"></i>
<i style="background:linear-gradient(90deg,#445bcd,#475ed0 9px,#506bda 19px,#698bef 38px,#84a8fc 53px,#9cbcff 64px,#b3ccfb 75px,#c8d7f0 86px,#dbdcdf 99px,#e8d6cd 111px,#f2cab6 128px,#f7b99e 152px,#f6a486 184px,#f18d6f 226px,#ec8064 253px,#ec7f63 262px)"></i>
<i style="background:linear-gradient(90deg,#455bcd,#475fd0 9px,#506bda 19px,#6a8cf0 38px,#86a9fc 53px,#9ebeff 64px,#b4cdfb 74px,#c9d8ef 85px,#dcddde 98px,#e9d5ca 111px,#f3c9b4 128px,#f7b79b 153px,#f6a182 186px,#ef886b 230px,#eb7e62 253px,#eb7d62 262px)"></i>
<i style="background:linear-gradient(90deg,#455bcd,#485fd1 9px,#516cda 19px,#6a8bef 37px,#84a7fc 51px,#9cbcff 62px,#b2ccfb 72px,#c8d7f0 83px,#dbdcde 96px,#e9d6cb 108px,#f2c9b4 125px,#f7b79b 150px,#f6a183 182px,#ef896c 225px,#ea7c61 253px,#ea7b60 262px)"></i>
<i style="background:linear-gradient(90deg,#455cce,#4860d1 9px,#516cdb 19px,#6b8cf0 37px,#85a8fc 51px,#9ebeff 62px,#b5cdfa 72px,#cbd8ee 83px,#dcdcdd 95px,#ead4c8 108px,#f3c7b1 125px,#f7b598 150px,#f59f81 182px,#ef876a 225px,#ea7a5f 253px,#e9795f 262px)"></i>
<i style="background:linear-gradient(90deg,#455cce,#4860d1 9px,#516ddb 19px,#6b8df1 37px,#87aafc 51px,#9ebeff 61px,#b5cefa 71px,#ccd9ed 82px,#dcdcdd 93px,#ead5c9 105px,#f3c8b3 121px,#f7b79b 144px,#f6a283 175px,#f08a6c 216px,#e9785e 252px,#e8775d 262px)"></i>
<i style="background:linear-gradient(90deg,#465cce,#4861d2 9px,#526ddc 19px,#6b8df0 36px,#84a7fc 49px,#9cbcff 59px,#b4cdfb 69px,#cbd8ee 80px,#dcdcdd 91px,#ead5c9 103px,#f3c8b3 119px,#f7b69a 142px,#f6a182 173px,#ef896b 214px,#e8765c 252px,#e7755c 262px)"></i>
<i style="background:linear-gradient(90deg,#465dcf,#4961d2 9px,#526edc 19px,#6a8cf0 35px,#84a7fc 48px,#9cbcff 58px,#b4cdfa 68px,#cad8ef 78px,#dcdcde 89px,#ead5c9 101px,#f3c9b3 116px,#f7b79b 138px,#f6a384 167px,#f08b6d 206px,#e7755b 251px,#e7735a 262px)"></i>
<i style="background:linear-gradient(90deg,#465dcf,#4961d2 9px,#536fdd 19px,#6b8df0 35px,#86a9fc 48px,#9ebeff 58px,#b5cdfa 67px,#cbd8ee 77px,#dddcdc 88px,#ead5c9 99px,#f3c8b3 114px,#f7b69a 136px,#f6a283 165px,#f08a6c 204px,#e6735a 250px,#e67158 262px)"></i>
<i style="background:linear-gradient(90deg,#465ecf,#4962d3 9px,#536fdd 19px,#6c8ef1 35px,#87aafc 48px,#9fbeff 57px,#b5cefa 66px,#ccd9ed 76px,#dddcdd 86px,#ead4c9 97px,#f3c9b4 111px,#f7b79b 133px,#f6a283 161px,#f08b6d 199px,#e67259 248px,#e56f57 262px)"></i>
<i style="background:linear-gradient(90deg,#475ed0,#4a62d3 9px,#5470de 19px,#6b8df1 34px,#87aafc 47px,#9fbeff 56px,#b6cefa 65px,#cdd9ed 75px,#dcdcdd 84px,#e9d5ca 94px,#f2c9b4 108px,#f7b79c 129px,#f6a385 156px,#f08c6e 193px,#e67158 244px,#e46d55 262px)"></i>
<i style="background:linear-gradient(90deg,#475ed0,#4a63d3 9px,#536fdd 18px,#698aef 32px,#82a5fb 44px,#99baff 53px,#afcafc 61px,#c7d7f1 71px,#dadcdf 81px,#e5d9d1 88px,#efcebd 100px,#f6bfa6 117px,#f7ac8e 141px,#f39677 173px,#eb7d61 217px,#e36c55 252px,#e36b54 262px)"></i>
<i style="background:linear-gradient(90deg,#475fd0,#4a63d4 9px,#5370dd 18px,#6a8cf0 32px,#84a7fc 44px,#9cbcff 53px,#b2ccfb 61px,#c8d7f0 70px,#dcdcde 80px,#e8d6cc 89px,#f2cab6 102px,#f7ba9f 120px,#f7a788 145px,#f29072 179px,#e8765c 226px,#e26a53 253px,#e26952 262px)"></i>
<i style="background:linear-gradient(90deg,#485fd1,#4b64d4 9px,#5470de 18px,#698bef 31px,#83a7fb 43px,#9cbcff 52px,#b3ccfb 60px,#c9d8ef 69px,#dddcdd 79px,#e9d5ca 88px,#f2c9b4 101px,#f7b99e 119px,#f6a586 144px,#f18e70 178px,#e7755b 224px,#e16852 253px,#e16751 262px)"></i>
<i style="background:linear-gradient(90deg,#4860d1,#4b64d5 9px,#5471de 18px,#6a8cf0 31px,#86a9fc 43px,#9fbfff 52px,#b7cffa 60px,#cbd8ee 68px,#dcdcdd 77px,#e9d5ca 86px,#f2cab5 98px,#f7ba9f 115px,#f7a789 138px,#f29173 170px,#e8775d 214px,#e06650 252px,#e0654f 262px)"></i>
<i style="background:linear-gradient(90deg,#4860d1,#4b64d4 8px,#526edc 16px,#6484eb 27px,#7b9ff9 38px,#96b7ff 48px,#acc8fd 55px,#c3d5f4 63px,#d6dce4 72px,#dfdbd9 77px,#ebd3c6 86px,#f4c6b0 99px,#f7b79b 116px,#f6a284 141px,#f08b6e 175px,#e67158 222px,#df644f 252px,#df624e 262px)"></i>
<i style="background:linear-gradient(90deg,#4861d2,#4b64d5 8px,#536fdd 16px,#6586ec 27px,#7da0f9 38px,#96b7ff 47px,#acc8fd 54px,#c1d4f5 61px,#d4dbe6 69px,#dddcdc 74px,#ead4c8 83px,#f3c8b3 95px,#f7b79b 113px,#f6a384 137px,#f08c6e 170px,#e67259 216px,#de614d 252px,#de604c 262px)"></i>
<i style="background:linear-gradient(90deg,#4961d2,#4c65d5 8px,#5370dd 16px,#6484eb 26px,#7da0f9 37px,#96b7ff 46px,#acc8fd 53px,#c2d5f4 60px,#d5dbe5 68px,#dfdcda 73px,#ebd3c6 82px,#f3c7b0 94px,#f7b599 112px,#f6a182 136px,#f08a6d 169px,#e57058 215px,#dd5f4c 252px,#dc5e4b 262px)"></i>
<i style="background:linear-gradient(90deg,#4961d2,#4c65d6 8px,#5470de 16px,#6586ec 26px,#7fa2fa 37px,#96b7ff 45px,#adc8fd 52px,#c3d5f3 59px,#d7dce3 67px,#dedcda 71px,#ecd3c6 80px,#f4c6b0 92px,#f7b498 110px,#f5a081 134px,#ef896c 167px,#e56f57 213px,#dc5d4a 252px,#db5c4a 262px)"></i>
<i style="background:linear-gradient(90deg,#4962d3,#4c66d6 8px,#5571de 16px,#6687ed 26px,#7ea1fa 36px,#96b7ff 44px,#adc9fd 51px,#c4d6f3 58px,#d6dce4 65px,#dedcda 69px,#ead4c8 77px,#f3c8b2 88px,#f7b79c 104px,#f6a485 126px,#f18d6f 157px,#e7745b 199px,#db5b49 251px,#da5a48 262px)"></i>
<i style="background:linear-gradient(90deg,#4a62d3,#4d67d7 8px,#5572df 16px,#6586ec 25px,#7ea1f9 35px,#96b7ff 43px,#adc9fd 50px,#c2d4f4 56px,#d6dce5 63px,#dedcdb 67px,#ebd4c7 75px,#f3c7b1 86px,#f7b89c 101px,#f6a587 121px,#f18f71 150px,#e8775d 190px,#da5a49 246px,#d95747 262px)"></i>
<i style="background:linear-gradient(90deg,#4a63d4,#4d67d7 8px,#5673e0 16px,#6687ed 25px,#7da0f9 34px,#96b8ff 42px,#aec9fc 49px,#c6d6f2 56px,#d9dce1 63px,#e0dbd9 66px,#ebd4c7 73px,#f3c7b1 84px,#f7b89c 98px,#f6a587 118px,#f19072 146px,#e8775d 186px,#da5948 243px,#d85545 260px,#d85545 262px)"></i>
<i style="background:linear-gradient(90deg,#4b63d4,#4e68d8 8px,#5674e0 16px,#6789ee 25px,#7fa3fa 34px,#96b8ff 41px,#afcafc 48px,#c4d5f3 54px,#d8dce2 61px,#dfdbd9 64px,#ead5c9 70px,#f2c9b4 80px,#f7b99e 94px,#f6a687 114px,#f29072 142px,#e8775d 181px,#da5a49 236px,#d75344 255px,#d65344 262px)"></i>
<i style="background:linear-gradient(90deg,#4b64d4,#4e68d8 8px,#5673e0 15px,#6687ed 24px,#7c9ff9 32px,#93b5fe 39px,#a9c6fd 45px,#bed2f6 51px,#d1dae9 57px,#dedcdb 62px,#ead5c9 68px,#f2cab5 77px,#f7b99e 91px,#f6a687 111px,#f29072 138px,#e8775d 176px,#db5b49 230px,#d65143 254px,#d55143 262px)"></i>
<i style="background:linear-gradient(90deg,#4b65d5,#4e68d8 7px,#5674e0 15px,#6889ee 24px,#7ea2fa 32px,#97b9ff 39px,#aec9fc 45px,#c3d5f4 51px,#d8dce2 58px,#e0dbd9 61px,#ebd3c7 67px,#f3c8b2 76px,#f7b69a 91px,#f6a384 111px,#f18d6f 139px,#e7745a 178px,#d95747 233px,#d44f42 255px,#d44e41 262px)"></i>
<i style="background:linear-gradient(90deg,#4c65d5,#4e69d8 7px,#5774e1 15px,#6788ed 23px,#7a9df8 30px,#94b5ff 37px,#abc7fd 43px,#c1d4f5 49px,#d4dbe6 55px,#dedcda 59px,#ebd4c7 65px,#f3c9b4 73px,#f7b89c 87px,#f6a587 105px,#f29072 131px,#e9785d 167px,#db5c49 219px,#d34d40 253px,#d34c40 262px)"></i>
<i style="background:linear-gradient(90deg,#4c66d6,#4f69d9 7px,#5875e2 15px,#6889ee 23px,#7ca0f9 30px,#94b6ff 36px,#a9c6fe 41px,#bfd3f5 47px,#d3dbe7 53px,#dddcdb 57px,#ead4c8 63px,#f2cab5 70px,#f7bca1 81px,#f7ac8e 95px,#f49879 117px,#ec8165 148px,#e16651 193px,#d24b40 250px,#d1493f 262px)"></i>
<i style="background:linear-gradient(90deg,#4d66d6,#4f6ad9 7px,#5876e2 15px,#6687ed 22px,#779af7 28px,#8fb1fe 34px,#a5c3fe 39px,#bed3f6 45px,#d2dbe8 51px,#dddcdc 55px,#ead4c8 61px,#f3c8b3 69px,#f7bba0 79px,#f7aa8c 94px,#f39677 116px,#eb7f63 148px,#df644f 193px,#d1483e 251px,#d0473d 262px)"></i>
<i style="background:linear-gradient(90deg,#4d67d7,#506bda 7px,#5977e3 15px,#6788ee 22px,#799cf8 28px,#93b4fe 34px,#aac7fd 39px,#c0d4f5 44px,#d4dbe6 50px,#dfdbd9 54px,#ebd3c6 60px,#f4c6b0 68px,#f7ba9f 77px,#f7a98b 92px,#f39576 114px,#eb7d62 146px,#df634e 191px,#d0463d 250px,#cf443c 262px)"></i>
<i style="background:linear-gradient(90deg,#4d68d7,#506cda 7px,#5a78e3 15px,#698aef 22px,#7c9ff9 28px,#97b8ff 34px,#abc7fd 38px,#c2d5f4 43px,#d4dbe6 48px,#dfdbd9 52px,#ecd3c5 58px,#f4c6af 66px,#f7b99e 75px,#f7a788 91px,#f29273 114px,#e97a5f 147px,#dd5f4b 194px,#ce433b 251px,#cd423b 262px)"></i>
<i style="background:linear-gradient(90deg,#4e68d8,#516cdb 7px,#5b79e4 15px,#6a8cf0 22px,#7ea2fa 28px,#96b7ff 33px,#abc7fd 37px,#bfd3f6 41px,#d3dbe7 46px,#dfdbd9 50px,#ead4c8 55px,#f3c7b1 63px,#f7ba9e 72px,#f7a889 87px,#f39475 108px,#eb7c61 139px,#de624e 183px,#ce433b 246px,#cc4039 262px)"></i>
<i style="background:linear-gradient(90deg,#4e69d8,#526ddc 7px,#5c7be5 15px,#698bef 21px,#7a9df8 26px,#90b2fe 31px,#a5c3fe 35px,#bbd1f8 39px,#ced9ec 43px,#dcdcdd 47px,#e9d5cb 52px,#f2cab6 59px,#f7ba9f 69px,#f7ab8d 81px,#f4997a 99px,#ed8366 126px,#e26952 166px,#d24b3f 223px,#cb3e39 253px,#cb3d38 262px)"></i>
<i style="background:linear-gradient(90deg,#4f6ad9,#526ddc 6px,#5a79e4 13px,#698bef 20px,#799df8 25px,#8aadfd 29px,#a0bfff 33px,#b6cefa 37px,#cbd8ee 41px,#dbdcde 45px,#e7d7ce 49px,#efcebd 54px,#f5c1a9 62px,#f7b295 72px,#f5a081 88px,#f08a6d 112px,#e67259 146px,#d85646 195px,#ca3c37 252px,#c93a37 262px)"></i>
<i style="background:linear-gradient(90deg,#4f6ad9,#526edc 6px,#5c7be5 13px,#698bef 19px,#7da1f9 25px,#95b6ff 30px,#abc7fd 34px,#c1d4f4 38px,#d5dbe5 42px,#dddcdc 44px,#e9d5ca 48px,#f2cab6 54px,#f6bda3 62px,#f7ad90 73px,#f49a7b 91px,#ed8367 117px,#e36a54 154px,#d34d41 208px,#c83936 253px,#c83836 262px)"></i>
<i style="background:linear-gradient(90deg,#506bda,#536fdd 6px,#5c7ae5 12px,#6a8cf0 18px,#7ea2fa 24px,#95b7ff 29px,#acc8fd 33px,#c2d5f4 37px,#d6dce4 41px,#dedcdb 43px,#e8d6cc 46px,#f1cbb8 51px,#f5c1a8 57px,#f7ad90 70px,#f59b7c 86px,#ee8669 110px,#e46d56 145px,#d55143 196px,#c73635 252px,#c63534 262px)"></i>
<i style="background:linear-gradient(90deg,#506bda,#536fdd 5px,#5c7ae5 11px,#6b8df0 17px,#80a4fb 23px,#97b8ff 28px,#adc9fd 32px,#bed2f6 35px,#d3dbe7 39px,#dbdcde 41px,#ead5c9 45px,#f2c9b4 50px,#f6bea4 56px,#f7ab8d 69px,#f4997a 85px,#ed8367 109px,#e26a54 145px,#d34d41 198px,#c63334 252px,#c53233 262px)"></i>
<i style="background:linear-gradient(90deg,#516cdb,#5470de 5px,#5b7ae5 10px,#6c8ef1 16px,#83a6fb 22px,#9abbff 27px,#afcafc 31px,#c5d6f2 35px,#d8dce1 39px,#e1dbd7 41px,#edd1c2 45px,#f4c5ae 50px,#f7b99e 56px,#f6a687 70px,#f29274 88px,#ea7c61 115px,#de624e 154px,#ce443c 211px,#c43032 252px,#c32f32 262px)"></i>
<i style="background:linear-gradient(90deg,#516ddb,#5571de 5px,#5d7de6 10px,#6d8ff1 15px,#86a9fc 21px,#9fbeff 26px,#b3cdfb 30px,#c8d7f0 34px,#dadcdf 38px,#e6d7cf 41px,#f0cdba 45px,#f5c0a7 50px,#f7b598 56px,#f6a182 71px,#f18d6f 90px,#e8765c 118px,#db5c4a 160px,#ca3c37 222px,#c32d31 252px,#c22c31 262px)"></i>
<i style="background:linear-gradient(90deg,#526ddc,#5471de 4px,#5d7ce6 9px,#698bef 13px,#7fa2fa 18px,#99baff 23px,#aec9fc 27px,#c2d4f4 31px,#d5dbe5 35px,#dddcdc 37px,#ebd3c7 41px,#f3c8b3 45px,#f7bca1 50px,#f7b093 56px,#f59c7d 72px,#ef876a 93px,#e56f57 124px,#d75344 170px,#c43032 239px,#c12a30 257px,#c1292f 262px)"></i>
<i style="background:linear-gradient(90deg,#526edc,#5571df 4px,#5c7be5 8px,#698aef 12px,#81a4fb 17px,#97b8ff 21px,#aec9fc 25px,#c2d5f4 29px,#d8dce1 34px,#e0dbd8 36px,#edd2c3 40px,#f5c3ac 45px,#f7b79b 50px,#f7ac8e 56px,#f39778 73px,#ec8165 96px,#e16852 130px,#d24b40 180px,#c0282f 250px,#bf252e 262px)"></i>
<i style="background:linear-gradient(90deg,#526edc,#5672df 4px,#5e7de7 8px,#6c8ef1 12px,#81a5fb 16px,#9abbff 20px,#b3ccfb 24px,#c8d7f0 28px,#d9dce1 32px,#e4d9d2 35px,#efcfbe 39px,#f5c1a8 44px,#f7b498 49px,#f7a98b 55px,#f39475 72px,#eb7e63 95px,#e06650 129px,#d1483e 180px,#be232e 250px,#bd202d 262px)"></i>
<i style="background:linear-gradient(90deg,#536fdd,#5673e0 4px,#607fe8 8px,#6b8df0 11px,#81a4fb 15px,#95b6ff 18px,#a9c6fd 21px,#bdd2f7 24px,#cdd9ec 27px,#dadcdf 30px,#e5d8d1 33px,#f1ccb9 38px,#f6bca1 44px,#f7ad90 50px,#f6a283 57px,#f18d6f 75px,#e8775d 100px,#dc5d4b 138px,#cb3e38 195px,#bf262e 240px,#bc1d2c 254px,#bc1c2c 262px)"></i>
<i style="background:linear-gradient(90deg,#536fdd,#5774e1 4px,#5e7de7 7px,#698bef 10px,#799cf8 13px,#95b7ff 17px,#abc8fd 20px,#c1d4f5 23px,#d2dbe8 26px,#dbdcdf 28px,#e9d5ca 32px,#f3c8b3 37px,#f7b69a 44px,#f7a98b 50px,#f59d7e 58px,#ef886a 77px,#e67158 104px,#d85646 145px,#c63434 207px,#bf252e 235px,#bb192b 252px,#ba182b 262px)"></i>
<i style="background:linear-gradient(90deg,#536fdd,#5673e0 3px,#5f7fe8 7px,#6b8df0 10px,#7da0f9 13px,#93b5fe 16px,#abc7fd 19px,#c2d5f4 22px,#d5dbe5 25px,#dfdbd9 27px,#ead4c8 30px,#f2c9b5 34px,#f6bca2 39px,#f7a98a 48px,#f59c7d 56px,#ee8669 75px,#e56f57 103px,#d75445 145px,#c53133 208px,#bf252e 230px,#ba162b 251px,#b9142a 262px)"></i>
<i style="background:linear-gradient(90deg,#5370dd,#5673e0 3px,#5d7ce6 6px,#688aee 9px,#799df8 12px,#90b2fe 15px,#a1c0ff 17px,#b2ccfb 19px,#cad8ef 22px,#dcdcdd 25px,#e7d7ce 27px,#efcebd 30px,#f5c2aa 34px,#f7b69a 39px,#f6a182 50px,#f29375 60px,#ec7f63 80px,#e16751 111px,#d24a3f 158px,#bf252e 225px,#b9122a 250px,#b81029 262px)"></i>
<i style="background:linear-gradient(90deg,#5470de,#5774e1 3px,#5e7de7 6px,#6a8bef 9px,#7c9ff9 12px,#94b6ff 15px,#a7c4fe 17px,#b8cff9 19px,#c8d7f0 21px,#d7dce3 23px,#dddcdc 24px,#e8d6cc 26px,#f1cbb8 29px,#f6bea4 33px,#f7b295 38px,#f59d7e 50px,#f18d6f 63px,#e8775d 86px,#dc5d4a 122px,#cb3f39 175px,#bf252e 221px,#b80f29 250px,#b70c28 262px)"></i>
<i style="background:linear-gradient(90deg,#5470de,#5774e1 3px,#5f7ee7 6px,#6b8df0 9px,#7ea2fa 12px,#98b9ff 15px,#abc7fd 17px,#bdd2f7 19px,#ced9ec 21px,#dcdcdd 23px,#ecd2c4 26px,#f4c6af 29px,#f7b89c 33px,#f7ae91 37px,#f59c7d 49px,#f08b6e 62px,#e8775d 84px,#dc5c4a 120px,#cb3e38 173px,#bf252e 217px,#b70d28 249px,#b60a28 262px)"></i>
<i style="background:linear-gradient(90deg,#5471de,#5775e1 3px,#5f7fe8 6px,#6c8ef1 9px,#80a4fa 12px,#9bbbff 15px,#aec9fc 17px,#c1d4f5 19px,#d1dae9 21px,#d9dce1 22px,#e0dbd8 23px,#ebd3c6 25px,#f2cab5 27px,#f6bda3 30px,#f7b396 33px,#f7a98b 37px,#f29173 55px,#ea7b60 76px,#df634e 108px,#cf453c 157px,#bf252e 214px,#b60b28 249px,#b50727 262px)"></i>
<i style="background:linear-gradient(90deg,#5471de,#5875e1 3px,#607fe8 6px,#6d8ff2 9px,#82a5fb 12px,#9dbdff 15px,#b1cbfb 17px,#c4d5f3 19px,#d4dbe6 21px,#dcdcdd 22px,#e9d5ca 24px,#f1cbb8 26px,#f5c2a9 28px,#f7b599 31px,#f7ac8e 34px,#f6a485 38px,#ef886b 61px,#e67259 85px,#d95847 123px,#c83735 180px,#bf252e 211px,#b60927 249px,#b40627 262px)"></i>
<i style="background:linear-gradient(90deg,#5471de,#5875e2 3px,#6080e9 6px,#6e90f2 9px,#83a6fb 12px,#95b7ff 14px,#a9c6fd 16px,#bcd2f7 18px,#cfdaeb 20px,#dedcda 22px,#ebd3c7 24px,#f2c9b4 26px,#f6bfa5 28px,#f7b294 31px,#f7a88a 34px,#f6a082 38px,#f29072 53px,#ea7a60 74px,#de624e 106px,#cf443c 154px,#bf262e 209px,#b50727 249px,#b40426 262px)"></i>
<i style="background:linear-gradient(90deg,#5571de,#5876e2 3px,#6080e9 6px,#6e91f2 9px,#84a7fc 12px,#96b8ff 14px,#aac7fd 16px,#bed3f6 18px,#d1dae9 20px,#d8dce2 21px,#e0dbd8 22px,#ecd2c4 24px,#f3c7b1 26px,#f6bca2 28px,#f7af91 31px,#f6a587 34px,#f59e7f 38px,#f29274 50px,#eb7c61 71px,#e0644f 101px,#d0473d 148px,#bf252e 208px,#b50627 249px,#b40426 260px,#b40426 262px)"></i>
<i style="background:linear-gradient(90deg,#5571df,#5876e2 3px,#6181e9 6px,#6f91f2 9px,#84a7fc 12px,#97b8ff 14px,#abc7fd 16px,#bfd3f6 18px,#d2dae8 20px,#d9dce0 21px,#e1dad7 22px,#edd1c2 24px,#f4c6af 26px,#f7bba0 28px,#f7b194 30px,#f7a688 33px,#f59e7f 37px,#f29072 51px,#ea7b60 72px,#de624e 104px,#cf443c 152px,#bf252e 207px,#b40627 249px,#b40426 259px,#b40426 262px)"></i>
<i style="height:1px;background:linear-gradient(90deg,#5571df,#5876e2 3px,#6181e9 6px,#6f91f2 9px,#84a8fc 12px,#97b9ff 14px,#abc7fd 16px,#bfd3f6 18px,#d2dbe8 20px,#dadce0 21px,#e1dad6 22px,#edd1c2 24px,#f4c5ae 26px,#f7ba9f 28px,#f7b193 30px,#f7a687 33px,#f59e7f 37px,#f29072 51px,#e97a5f 73px,#de614d 106px,#ce433b 155px,#bf252e 207px,#b40527 249px,#b40426 262px)"></i>
</div>
<div class="hm" style="left:384px;top:420px;width:264px;height:247px">
<i style="background:linear-gradient(90deg,#3b4cc0,#3c4fc3 11px,#4e69d8 40px,#6b8df0 78px,#83a7fb 107px,#9bbbff 134px,#b3ccfb 163px,#cad8ef 196px,#ddd 232px,#e6d8d0 254px,#e6d7cf 264px)"></i>
<i style="background:linear-gradient(90deg,#3b4cc0,#3c4fc3 11px,#4e69d8 40px,#6b8df0 78px,#84a7fc 107px,#9bbbff 134px,#b3ccfb 163px,#cad8ef 196px,#dcdddd 231px,#e6d8d0 254px,#e7d7cf 264px)"></i>
<i style="background:linear-gradient(90deg,#3b4cc0,#3c4fc3 11px,#4e69d8 40px,#6b8df0 78px,#84a7fc 107px,#9bbcff 134px,#b3ccfb 163px,#cad8ef 196px,#dcdddd 231px,#e6d8d0 254px,#e7d7ce 264px)"></i>
<i style="background:linear-gradient(90deg,#3b4cc0,#3d4fc3 11px,#4e69d8 40px,#6b8df0 78px,#84a7fc 107px,#9bbcff 134px,#b4cdfa 164px,#cad8ef 196px,#ddd 231px,#e6d8cf 254px,#e7d7ce 264px)"></i>
<i style="background:linear-gradient(90deg,#3b4cc0,#3d4fc3 11px,#4f69d9 40px,#6b8df1 78px,#84a7fc 107px,#9cbcff 134px,#b4cdfa 164px,#cad8ee 196px,#dddcdc 231px,#e6d7cf 254px,#e7d7ce 264px)"></i>
<i style="background:linear-gradient(90deg,#3b4cc0,#3d4fc3 11px,#4f69d9 40px,#6c8ef1 78px,#84a7fb 106px,#9bbcff 133px,#b3ccfb 162px,#cad8ef 194px,#dcdddd 229px,#e7d7ce 254px,#e7d6cd 264px)"></i>
<i style="background:linear-gradient(90deg,#3b4cc0,#3d50c3 12px,#5876e2 53px,#7395f5 86px,#8baefd 114px,#a3c2fe 142px,#bbd1f8 172px,#d1dae9 206px,#dedcda 232px,#e7d7ce 254px,#e8d6cc 264px)"></i>
<i style="background:linear-gradient(90deg,#3b4cc0,#3d50c4 12px,#5876e2 53px,#7396f5 86px,#8baefd 114px,#a3c2fe 141px,#bbd1f8 171px,#d1dae9 205px,#dedcdb 230px,#e7d7cd 253px,#e8d6cc 264px)"></i>
<i style="background:linear-gradient(90deg,#3b4cc0,#3d50c4 12px,#5875e2 52px,#7295f4 85px,#8baefd 113px,#a3c2fe 140px,#bbd1f8 170px,#d1dae9 203px,#dedcdb 229px,#e8d6cc 253px,#e9d5cb 264px)"></i>
<i style="background:linear-gradient(90deg,#3b4cc0,#3d50c4 12px,#5876e2 52px,#7396f5 85px,#8baefd 112px,#a3c1ff 139px,#bbd1f8 169px,#d1dae9 202px,#dedcdb 228px,#e8d6cb 253px,#e9d5ca 264px)"></i>
<i style="background:linear-gradient(90deg,#3b4cc0,#3d50c4 12px,#5876e2 52px,#7396f5 85px,#8baefd 112px,#a4c2fe 139px,#bcd1f7 169px,#d2dae8 202px,#dedcdb 226px,#e9d5cb 252px,#ead4c8 264px)"></i>
<i style="background:linear-gradient(90deg,#3b4dc1,#3e51c4 12px,#5875e2 51px,#7295f4 83px,#8aadfd 110px,#a2c1ff 136px,#bad0f8 165px,#d0daea 197px,#dedcdb 224px,#e9d5c9 252px,#ebd4c7 264px)"></i>
<i style="background:linear-gradient(90deg,#3b4dc1,#3e51c4 12px,#5876e2 51px,#7395f4 83px,#8baefd 110px,#a3c1ff 136px,#bbd1f8 165px,#d0dae9 197px,#dedcdb 222px,#ead4c9 251px,#ebd3c6 264px)"></i>
<i style="background:linear-gradient(90deg,#3b4dc1,#3e51c4 12px,#5875e1 50px,#7396f5 83px,#8caefd 110px,#a3c2fe 136px,#bcd1f7 165px,#d1dae9 197px,#dedcdb 221px,#ebd4c7 251px,#ecd3c5 264px)"></i>
<i style="background:linear-gradient(90deg,#3b4dc1,#3e51c5 12px,#5876e2 50px,#7496f5 83px,#8caefd 109px,#a4c2fe 135px,#bcd1f7 164px,#d2dbe8 196px,#dedcdb 219px,#ebd3c7 250px,#edd2c3 264px)"></i>
<i style="background:linear-gradient(90deg,#3b4dc1,#3e51c5 12px,#5775e1 49px,#7295f4 81px,#8aadfd 107px,#a3c1ff 133px,#bbd1f8 161px,#d0dae9 192px,#dedcdb 217px,#ebd3c6 249px,#edd1c2 264px)"></i>
<i style="background:linear-gradient(90deg,#3b4dc1,#3e52c5 12px,#5875e2 49px,#7396f5 81px,#8baefd 107px,#a3c1ff 132px,#bbd1f8 160px,#d1dae9 191px,#dedcdb 215px,#ecd3c5 248px,#eed0c1 262px,#eed0c1 264px)"></i>
<i style="background:linear-gradient(90deg,#3c4ec1,#3e52c5 12px,#5876e2 49px,#7396f5 81px,#8caffe 107px,#a4c2fe 132px,#bcd1f7 160px,#d2dae8 191px,#dedcdb 214px,#ecd3c5 246px,#eed0c0 260px,#eed0bf 264px)"></i>
<i style="background:linear-gradient(90deg,#3c4ec2,#3e52c5 12px,#5875e1 48px,#7396f5 80px,#8caefd 106px,#a4c2fe 131px,#bbd1f8 158px,#d1dae9 188px,#dedcdb 212px,#ecd3c5 244px,#efcfbf 258px,#efcfbe 264px)"></i>
<i style="background:linear-gradient(90deg,#3c4ec2,#3f52c5 12px,#5774e1 47px,#7294f4 78px,#8aadfd 104px,#a3c1ff 129px,#bbd1f8 156px,#d0dae9 186px,#dedcdb 210px,#ecd3c5 242px,#efcfbd 257px,#efcebd 264px)"></i>
<i style="background:linear-gradient(90deg,#3c4ec2,#3f52c6 12px,#5775e1 47px,#7295f4 78px,#8aadfd 103px,#a2c1ff 127px,#b9d0f9 153px,#cfdaeb 182px,#dedcdb 208px,#ecd3c5 240px,#f0cebc 256px,#f0cdbb 264px)"></i>
<i style="background:linear-gradient(90deg,#3c4ec2,#3f52c6 12px,#5875e1 47px,#7395f5 78px,#8baefd 103px,#a3c1ff 127px,#bad1f8 153px,#d0daea 182px,#dedcdb 206px,#ecd3c5 237px,#f0cdbb 255px,#f1cdba 264px)"></i>
<i style="background:linear-gradient(90deg,#3c4ec2,#3f53c6 12px,#5876e2 47px,#7396f5 78px,#8caefe 103px,#a3c2fe 127px,#bcd2f7 154px,#d1dae9 183px,#dedcdb 205px,#ecd3c5 236px,#f0cdba 254px,#f1ccb9 264px)"></i>
<i style="background:linear-gradient(90deg,#3c4fc2,#3f53c6 12px,#5775e1 46px,#7396f5 77px,#8caefd 102px,#a4c2fe 126px,#bbd1f7 152px,#d1dae9 181px,#dedcdb 203px,#ecd3c5 234px,#f1ccb9 254px,#f1cbb7 264px)"></i>
<i style="background:linear-gradient(90deg,#3c4fc2,#3f53c6 12px,#5774e1 45px,#7295f4 76px,#8baefd 101px,#a3c2fe 125px,#bcd1f7 151px,#d1dae8 180px,#dedcdb 201px,#ecd3c5 231px,#f1cbb8 253px,#f2cab6 264px)"></i>
<i style="background:linear-gradient(90deg,#3c4fc3,#3f53c6 12px,#5775e1 45px,#7396f5 76px,#8caffe 101px,#a3c2fe 124px,#bcd1f7 150px,#d1dae9 178px,#dedcdb 200px,#ecd3c5 229px,#f2cab6 253px,#f2c9b4 264px)"></i>
<i style="background:linear-gradient(90deg,#3d4fc3,#3f53c7 12px,#5775e1 45px,#7496f5 76px,#8caffe 100px,#a3c2fe 123px,#bbd1f8 148px,#d1dae9 176px,#dedcdb 198px,#ecd3c5 227px,#f2c9b5 253px,#f3c8b3 264px)"></i>
<i style="background:linear-gradient(90deg,#3d4fc3,#4054c7 12px,#5774e1 44px,#7295f4 74px,#8badfd 98px,#a2c1ff 121px,#bad1f8 146px,#d0daea 173px,#dedcdb 196px,#ecd3c5 225px,#f3c8b3 253px,#f3c7b2 264px)"></i>
<i style="background:linear-gradient(90deg,#3d4fc3,#3f53c6 11px,#4e68d8 32px,#6c8ef1 67px,#85a8fc 92px,#9dbdff 115px,#b5cefa 139px,#cbd8ee 165px,#dddcdc 193px,#ebd3c6 222px,#f3c8b2 252px,#f4c6b0 264px)"></i>
<i style="background:linear-gradient(90deg,#3d50c3,#3f53c7 11px,#4e68d8 32px,#6c8ff1 67px,#86a9fc 92px,#9ebeff 115px,#b6cefa 139px,#ccd9ed 165px,#dddcdc 191px,#ebd3c6 220px,#f3c7b1 252px,#f4c5af 264px)"></i>
<i style="background:linear-gradient(90deg,#3d50c3,#4054c7 11px,#4e69d8 32px,#6c8ef1 66px,#85a8fc 90px,#9cbcff 112px,#b4cdfa 136px,#cbd8ee 162px,#dddcdc 189px,#ebd3c6 218px,#f4c6af 252px,#f4c4ad 264px)"></i>
<i style="background:linear-gradient(90deg,#3d50c4,#4054c7 11px,#4e69d8 32px,#6c8ff1 66px,#85a8fc 90px,#9dbdff 112px,#b5cdfa 135px,#cbd9ee 161px,#dddcdc 188px,#ebd3c6 216px,#f4c5af 250px,#f5c3ac 264px)"></i>
<i style="background:linear-gradient(90deg,#3d50c4,#4054c7 11px,#4f69d9 32px,#6c8ef1 65px,#85a8fc 89px,#9dbdff 111px,#b5cefa 134px,#cbd8ee 159px,#dddcdc 186px,#ebd4c7 213px,#f4c5ae 248px,#f5c2aa 262px,#f5c2aa 264px)"></i>
<i style="background:linear-gradient(90deg,#3d50c4,#4054c7 11px,#4f6ad9 32px,#6d8ff1 65px,#86a9fc 89px,#9ebeff 111px,#b6cefa 134px,#ccd9ed 159px,#dddcdc 184px,#ebd3c6 212px,#f4c5ad 247px,#f5c1a9 261px,#f5c1a9 264px)"></i>
<i style="background:linear-gradient(90deg,#3e51c4,#4054c7 11px,#4d68d7 30px,#6c8ef1 64px,#85a9fc 88px,#9ebeff 110px,#b5cefa 132px,#cbd8ee 156px,#dddcdc 182px,#ebd4c7 209px,#f4c5ae 243px,#f5c0a8 258px,#f6c0a7 264px)"></i>
<i style="background:linear-gradient(90deg,#3e51c4,#4055c8 11px,#4e68d8 30px,#6c8ef1 63px,#84a7fc 86px,#9cbcff 107px,#b3cdfb 129px,#cad8ef 153px,#dcdddd 179px,#ebd4c7 206px,#f4c6af 239px,#f6c0a6 256px,#f6bfa5 264px)"></i>
<i style="background:linear-gradient(90deg,#3e51c4,#4055c8 11px,#4e68d8 30px,#6c8ef1 63px,#85a8fc 86px,#9dbdff 107px,#b4cdfa 129px,#cbd8ee 153px,#ddd 178px,#ebd4c7 205px,#f4c5af 238px,#f6bfa5 255px,#f6bea4 264px)"></i>
<i style="background:linear-gradient(90deg,#3e51c5,#4155c8 11px,#4e69d8 30px,#6d8ff1 63px,#86a9fc 86px,#9ebeff 107px,#b6cefa 129px,#ccd9ed 153px,#dddcdc 177px,#ebd3c6 204px,#f4c4ad 238px,#f6bea4 255px,#f6bda2 264px)"></i>
<i style="background:linear-gradient(90deg,#3e51c5,#4155c8 11px,#4f69d8 30px,#6c8ef1 62px,#85a9fc 85px,#9ebeff 106px,#b6cefa 128px,#ccd9ed 152px,#dddcdc 176px,#ebd3c6 202px,#f4c5ae 235px,#f6bda2 254px,#f7bca1 264px)"></i>
<i style="background:linear-gradient(90deg,#3e52c5,#4156c8 11px,#4e68d8 29px,#6d8ff1 62px,#86a9fc 85px,#9fbeff 106px,#b6cefa 127px,#ccd9ed 150px,#dddcdc 174px,#ebd3c6 200px,#f4c5ad 233px,#f7bba1 254px,#f7ba9f 264px)"></i>
<i style="background:linear-gradient(90deg,#3e52c5,#4156c9 11px,#4d67d7 28px,#6c8ef1 61px,#85a8fc 83px,#9cbdff 103px,#b4cdfa 124px,#cbd8ee 147px,#dcdddd 171px,#ebd4c7 196px,#f4c6b0 227px,#f7ba9f 253px,#f7b99e 264px)"></i>
<i style="background:linear-gradient(90deg,#3f52c5,#4156c9 11px,#4e68d8 28px,#6d8ff1 61px,#86a9fc 83px,#9dbdff 103px,#b5cefa 124px,#ccd9ed 147px,#dddcdc 170px,#ebd3c7 195px,#f4c6af 226px,#f7ba9e 252px,#f7b89c 264px)"></i>
<i style="background:linear-gradient(90deg,#3f52c5,#4156c9 11px,#4e68d8 28px,#6c8ef1 60px,#87aafc 83px,#9fbeff 103px,#b7cffa 124px,#ccd9ed 146px,#dddcdc 169px,#ebd3c7 193px,#f4c5af 224px,#f7b89d 252px,#f7b69a 264px)"></i>
<i style="background:linear-gradient(90deg,#3f52c6,#4156c9 11px,#4e69d8 28px,#6d8ff2 60px,#86a9fc 82px,#9fbeff 102px,#b6cefa 122px,#ccd9ed 144px,#dddcdc 167px,#ebd3c7 191px,#f4c5ae 222px,#f7b79b 252px,#f7b599 264px)"></i>
<i style="background:linear-gradient(90deg,#3f53c6,#4257c9 11px,#4e69d8 28px,#6c8ff1 59px,#86a9fc 81px,#9ebeff 101px,#b6cefa 121px,#ccd9ed 143px,#dddcdc 165px,#ebd3c7 189px,#f4c5af 219px,#f7b699 252px,#f7b497 264px)"></i>
<i style="background:linear-gradient(90deg,#3f53c6,#4257ca 11px,#4e68d8 27px,#6c8ef1 58px,#86a9fc 80px,#9ebeff 100px,#b6cefa 120px,#cdd9ed 142px,#dedcdb 164px,#ebd3c6 187px,#f4c5ae 217px,#f7b598 251px,#f7b296 264px)"></i>
<i style="background:linear-gradient(90deg,#3f53c6,#4257ca 11px,#4e68d8 27px,#6c8ff1 58px,#86aafc 80px,#9ebeff 99px,#b5cefa 118px,#cbd8ee 139px,#dddcdd 161px,#ebd3c6 185px,#f4c5ae 215px,#f7b396 251px,#f7b194 264px)"></i>
<i style="background:linear-gradient(90deg,#3f53c6,#4257ca 11px,#4d68d7 26px,#6c8ef1 57px,#85a8fc 78px,#9dbdff 97px,#b4cdfa 116px,#cbd8ee 137px,#ddd 159px,#ebd4c7 182px,#f4c6af 211px,#f7b295 250px,#f7b092 264px)"></i>
<i style="background:linear-gradient(90deg,#4054c7,#4258ca 11px,#4e68d8 26px,#6b8df1 56px,#85a8fc 77px,#9dbdff 96px,#b5cdfa 115px,#cbd8ee 136px,#dddcdc 158px,#ebd3c6 181px,#f4c5ae 210px,#f7b194 250px,#f7ae91 264px)"></i>
<i style="background:linear-gradient(90deg,#4054c7,#4258cb 11px,#4e68d8 26px,#6c8ef1 56px,#85a9fc 77px,#9ebeff 96px,#b6cefa 115px,#ccd9ee 135px,#dddcdc 156px,#ebd3c6 179px,#f4c5ae 208px,#f7b093 248px,#f7ad8f 264px)"></i>
<i style="background:linear-gradient(90deg,#4054c7,#4358cb 11px,#4e69d8 26px,#6d8ff1 56px,#86aafc 77px,#9ebeff 95px,#b5cefa 113px,#cbd8ee 133px,#ddd 154px,#ebd4c7 176px,#f4c6b0 203px,#f7b295 241px,#f7ac8e 257px,#f7ab8d 264px)"></i>
<i style="background:linear-gradient(90deg,#4054c7,#4358cb 11px,#4f69d9 26px,#6c8ef1 55px,#86a9fc 76px,#9ebeff 94px,#b5cefa 112px,#cbd9ee 132px,#dddcdc 153px,#ebd3c6 175px,#f4c5ae 203px,#f7b093 242px,#f7aa8c 257px,#f7aa8c 264px)"></i>
<i style="background:linear-gradient(90deg,#4054c7,#4359cb 11px,#4f69d9 26px,#6d8ff1 55px,#87aafc 76px,#9fbfff 94px,#b7cffa 112px,#cdd9ed 132px,#dddcdc 151px,#ebd3c6 173px,#f4c5ae 201px,#f7b193 239px,#f7a98b 256px,#f7a88a 264px)"></i>
<i style="background:linear-gradient(90deg,#4055c8,#4359cb 11px,#4f6ad9 26px,#6c8ef1 54px,#85a9fc 74px,#9ebeff 92px,#b6cefa 110px,#cbd9ee 129px,#dddcdc 149px,#ebd4c7 170px,#f4c6b0 196px,#f7b396 232px,#f7a88a 254px,#f7a788 264px)"></i>
<i style="background:linear-gradient(90deg,#4055c8,#4359cc 11px,#4f6ad9 26px,#6d8ff1 54px,#86aafc 74px,#9fbfff 92px,#b7cff9 110px,#cdd9ed 129px,#dddcdc 148px,#ebd3c6 169px,#f4c5ae 196px,#f7b194 233px,#f7a788 254px,#f6a587 264px)"></i>
<i style="background:linear-gradient(90deg,#4155c8,#445acc 11px,#506bda 26px,#6e90f2 54px,#88abfc 74px,#9fbfff 91px,#b6cefa 108px,#ccd9ed 127px,#dddcdc 146px,#ebd3c6 167px,#f4c5ae 194px,#f7b093 231px,#f6a586 254px,#f6a485 264px)"></i>
<i style="background:linear-gradient(90deg,#4155c8,#445acc 11px,#4f6ad9 25px,#6d8ff2 53px,#87aafc 73px,#9fbfff 90px,#b6cffa 107px,#cdd9ed 126px,#dddcdc 144px,#ebd4c7 164px,#f4c6b0 189px,#f7b396 224px,#f6a485 252px,#f6a283 264px)"></i>
<i style="background:linear-gradient(90deg,#4156c9,#4359cc 10px,#4d66d6 22px,#6a8cf0 50px,#83a6fb 69px,#9bbbff 86px,#b3ccfb 103px,#c9d8ef 121px,#dcdddd 141px,#ead4c8 161px,#f3c7b1 186px,#f7b397 220px,#f6a284 252px,#f6a082 264px)"></i>
<i style="background:linear-gradient(90deg,#4156c9,#445acc 10px,#4d67d7 22px,#698bef 49px,#82a6fb 68px,#9bbbff 85px,#b2ccfb 101px,#c8d7f0 119px,#dcddde 139px,#ead4c8 159px,#f3c7b1 183px,#f7b497 216px,#f6a182 251px,#f59f80 264px)"></i>
<i style="background:linear-gradient(90deg,#4156c9,#445acc 10px,#4d67d7 22px,#6a8cf0 49px,#83a6fb 68px,#9bbbff 84px,#b2ccfb 100px,#c9d7f0 118px,#dbdcde 137px,#ead4c8 157px,#f3c7b1 181px,#f7b497 214px,#f59f80 251px,#f59d7e 264px)"></i>
<i style="background:linear-gradient(90deg,#4156c9,#445acd 10px,#4d67d7 22px,#6b8df0 49px,#84a7fc 68px,#9cbcff 84px,#b3cdfb 100px,#cad8ee 118px,#dddcdc 137px,#ebd4c7 156px,#f4c6b0 180px,#f7b295 214px,#f59e7f 251px,#f59b7c 264px)"></i>
<i style="background:linear-gradient(90deg,#4257c9,#445bcd 10px,#4e68d8 22px,#6b8df1 49px,#85a8fc 68px,#9dbdff 84px,#b5cefa 100px,#ccd9ed 118px,#dddcdd 135px,#ebd4c7 154px,#f4c6af 178px,#f7b295 211px,#f59c7d 250px,#f49a7b 264px)"></i>
<i style="background:linear-gradient(90deg,#4257ca,#445bcd 10px,#4e68d8 22px,#6b8df0 48px,#85a8fc 67px,#9dbdff 83px,#b5cefa 99px,#cbd9ee 116px,#dddcdc 134px,#ebd3c6 153px,#f4c5ae 177px,#f7b193 211px,#f49b7c 250px,#f49879 264px)"></i>
<i style="background:linear-gradient(90deg,#4257ca,#455bcd 10px,#4e69d8 22px,#6a8cf0 47px,#83a6fb 65px,#9abbff 80px,#b1cbfb 95px,#c8d7f0 112px,#dbdcde 130px,#ead4c8 149px,#f3c7b1 172px,#f7b396 204px,#f49b7c 246px,#f39677 262px,#f39677 264px)"></i>
<i style="background:linear-gradient(90deg,#4257ca,#455bcd 10px,#4f69d9 22px,#6b8df0 47px,#84a7fc 65px,#9cbcff 80px,#b3ccfb 95px,#cad8ef 112px,#dddcdc 130px,#ebd4c7 148px,#f4c6af 171px,#f7b295 203px,#f4997a 246px,#f39476 261px,#f39476 264px)"></i>
<i style="background:linear-gradient(90deg,#4258ca,#455cce 10px,#4f6ad9 22px,#6c8ef1 47px,#85a8fc 65px,#9dbdff 80px,#b5cdfa 95px,#cbd8ee 111px,#ddd 128px,#ebd4c7 146px,#f4c6b0 168px,#f7b396 199px,#f49a7b 241px,#f29375 257px,#f29274 264px)"></i>
<i style="background:linear-gradient(90deg,#4358cb,#455cce 10px,#4f6ad9 22px,#6c8ef1 47px,#86aafc 65px,#9fbeff 80px,#b5cefa 94px,#cbd9ee 110px,#dcdddd 126px,#ead4c8 143px,#f3c7b2 164px,#f7b498 194px,#f59c7d 234px,#f29273 255px,#f29072 264px)"></i>
<i style="background:linear-gradient(90deg,#4358cb,#465cce 10px,#506ad9 22px,#6c8ef1 46px,#86a9fc 64px,#9fbeff 79px,#b5cefa 93px,#ccd9ed 109px,#dddcdc 125px,#ebd4c7 142px,#f4c6af 164px,#f7b295 195px,#f49a7b 234px,#f19072 255px,#f18f71 264px)"></i>
<i style="background:linear-gradient(90deg,#4359cb,#465dcf 10px,#4f69d9 21px,#6b8df0 45px,#84a7fc 62px,#9bbcff 76px,#b2ccfb 90px,#c9d7f0 105px,#dcddde 122px,#ead4c8 139px,#f3c7b1 160px,#f7b497 189px,#f59c7e 227px,#f18e70 254px,#f18d6f 264px)"></i>
<i style="background:linear-gradient(90deg,#4359cb,#465dcf 10px,#4f6ad9 21px,#6c8ef1 45px,#85a8fc 62px,#9dbdff 76px,#b4cdfa 90px,#cad8ee 105px,#ddd 121px,#ebd4c7 138px,#f4c6b0 159px,#f7b295 189px,#f49b7c 227px,#f08c6e 254px,#f08b6d 264px)"></i>
<i style="background:linear-gradient(90deg,#4359cc,#465dcf 10px,#4f6ad9 21px,#6b8df0 44px,#85a8fc 61px,#9dbdff 75px,#b5cdfa 89px,#cbd8ee 104px,#dcdddd 119px,#ead4c8 135px,#f3c7b1 155px,#f7b498 183px,#f59d7e 220px,#f08b6d 253px,#ef896b 264px)"></i>
<i style="background:linear-gradient(90deg,#4459cc,#465ecf 10px,#506bda 21px,#6c8ef1 44px,#86a9fc 61px,#9ebeff 75px,#b7cffa 89px,#cdd9ec 104px,#dddcdc 118px,#ead4c8 133px,#f3c7b1 153px,#f7b497 181px,#f59d7e 217px,#ef896c 252px,#ef876a 264px)"></i>
<i style="background:linear-gradient(90deg,#445acc,#475ed0 10px,#506bda 21px,#6d8ff1 44px,#87aafc 61px,#a0bfff 75px,#b7cff9 88px,#ccd9ed 102px,#dddcdd 116px,#ebd4c7 132px,#f4c6b0 152px,#f7b295 181px,#f49a7b 218px,#ef876a 252px,#ee8568 264px)"></i>
<i style="background:linear-gradient(90deg,#445acc,#475ed0 10px,#506cda 21px,#6c8ef1 43px,#87aafc 60px,#9ebeff 73px,#b6cefa 86px,#ccd9ee 100px,#dcdddd 114px,#ebd4c7 130px,#f4c6af 150px,#f7b295 178px,#f49a7b 215px,#ee8568 252px,#ed8366 264px)"></i>
<i style="background:linear-gradient(90deg,#445acd,#475fd0 10px,#516cdb 21px,#6d8ff1 43px,#87aafc 59px,#9ebeff 72px,#b6cefa 85px,#ccd9ed 99px,#dddcdc 113px,#ebd4c7 128px,#f4c6b0 147px,#f7b396 174px,#f59c7d 209px,#ed8467 250px,#ec8165 264px)"></i>
<i style="background:linear-gradient(90deg,#445bcd,#475fd0 10px,#516ddb 21px,#6c8ef1 42px,#86a9fc 58px,#9ebeff 71px,#b6cefa 84px,#cdd9ed 98px,#dddcdc 111px,#ebd4c7 126px,#f4c6b0 145px,#f7b295 172px,#f59b7c 207px,#ed8266 249px,#ec7f63 264px)"></i>
<i style="background:linear-gradient(90deg,#455bcd,#485fd1 10px,#526ddc 21px,#6d8ff2 42px,#88abfd 58px,#a0bfff 71px,#b7cff9 83px,#ced9ec 97px,#dedcdb 110px,#ebd4c7 124px,#f4c6af 143px,#f7b295 170px,#f49b7c 204px,#ec8164 248px,#eb7d61 264px)"></i>
<i style="background:linear-gradient(90deg,#455bcd,#475fd0 9px,#506bda 19px,#6b8df0 40px,#85a9fc 56px,#9ebeff 69px,#b5cefa 81px,#cbd9ee 94px,#dcdddd 107px,#ead4c8 121px,#f3c7b1 139px,#f7b498 164px,#f59e7f 196px,#ed8367 239px,#ea7b60 257px,#ea7b60 264px)"></i>
<i style="background:linear-gradient(90deg,#455cce,#485fd1 9px,#506bda 19px,#6c8ef1 40px,#87aafc 56px,#9ebeff 68px,#b6cefa 80px,#ccd9ed 93px,#dddcdc 106px,#ebd4c7 120px,#f4c6b0 138px,#f7b295 164px,#f59c7d 196px,#ed8165 239px,#e9795f 257px,#e9795e 264px)"></i>
<i style="background:linear-gradient(90deg,#455cce,#4860d1 9px,#506cda 19px,#6b8df0 39px,#86a9fc 55px,#9ebeff 67px,#b4cdfa 78px,#cad8ef 90px,#dcddde 103px,#e9d5ca 116px,#f3c8b3 133px,#f7b599 157px,#f59f80 188px,#ee8669 228px,#e9785e 254px,#e8775d 264px)"></i>
<i style="background:linear-gradient(90deg,#465cce,#4860d1 9px,#516cdb 19px,#6a8cf0 38px,#84a7fc 53px,#9cbcff 65px,#b2ccfb 76px,#c9d7f0 88px,#dbdcde 101px,#e9d5ca 114px,#f3c9b4 130px,#f7b699 154px,#f59f80 185px,#ee8568 225px,#e8765c 254px,#e7745b 264px)"></i>
<i style="background:linear-gradient(90deg,#465dcf,#4861d2 9px,#516ddb 19px,#6b8df0 38px,#86a9fc 53px,#9ebeff 65px,#b5cefa 76px,#cbd8ee 88px,#dcdddd 100px,#ead4c8 113px,#f3c8b2 129px,#f7b599 152px,#f59f80 182px,#ee8569 221px,#e7745b 253px,#e67259 264px)"></i>
<i style="background:linear-gradient(90deg,#465dcf,#4961d2 9px,#526ddc 19px,#6c8ef1 38px,#87aafc 53px,#a0bfff 65px,#b7cff9 76px,#cdd9ec 88px,#dddcdc 99px,#ead4c8 111px,#f3c7b2 127px,#f7b598 150px,#f59e7f 180px,#ee8468 219px,#e67259 253px,#e57058 264px)"></i>
<i style="background:linear-gradient(90deg,#465dcf,#4961d2 9px,#526edc 19px,#6b8df0 37px,#87aafc 52px,#9ebeff 63px,#b4cdfb 73px,#c9d8ef 84px,#dbdcde 96px,#e9d5ca 108px,#f2c9b4 123px,#f7b69a 145px,#f5a081 174px,#ef876a 211px,#e57057 252px,#e46e56 264px)"></i>
<i style="background:linear-gradient(90deg,#475ecf,#4962d3 9px,#536edc 19px,#6c8ef1 37px,#88abfd 52px,#a0bfff 63px,#b6cefa 73px,#ccd9ed 84px,#dcdddd 95px,#ead4c8 107px,#f3c8b2 122px,#f7b599 144px,#f59e80 173px,#ee8568 211px,#e46e56 252px,#e36c55 264px)"></i>
<i style="background:linear-gradient(90deg,#475ed0,#4a62d3 9px,#536fdd 19px,#6d8ff2 37px,#88abfd 51px,#a0c0ff 62px,#b7cffa 72px,#cdd9ed 83px,#dddcdc 94px,#ead4c8 105px,#f3c7b2 120px,#f7b498 142px,#f59e7f 171px,#ee8468 208px,#e36c54 252px,#e26a53 264px)"></i>
<i style="background:linear-gradient(90deg,#475fd0,#4a63d3 9px,#5370dd 19px,#6e90f2 37px,#89acfd 51px,#a0c0ff 61px,#b7cff9 71px,#cdd9ec 82px,#dddcdc 92px,#ebd4c7 104px,#f4c6b0 119px,#f7b396 141px,#f59d7e 169px,#ed8367 206px,#e26a53 251px,#e16751 264px)"></i>
<i style="background:linear-gradient(90deg,#475fd0,#4a63d4 9px,#5470de 19px,#6d90f2 36px,#89acfd 50px,#a0c0ff 60px,#b8cff9 70px,#cedaeb 81px,#dedcdb 91px,#ebd4c7 102px,#f4c6b0 117px,#f7b396 138px,#f59d7f 165px,#ee8468 201px,#e26952 248px,#e06550 264px)"></i>
<i style="background:linear-gradient(90deg,#485fd1,#4b63d4 9px,#5471de 19px,#6e91f2 36px,#8baefd 50px,#a3c2fe 60px,#bad1f8 70px,#cfdaea 80px,#dedcdb 89px,#ebd4c7 100px,#f3c7b0 114px,#f7b397 135px,#f59e7f 161px,#ee8568 196px,#e16852 244px,#df634e 260px,#df634e 264px)"></i>
<i style="background:linear-gradient(90deg,#4860d1,#4b64d4 9px,#5370dd 18px,#6c8ef1 34px,#88abfd 48px,#a0c0ff 58px,#b6cffa 67px,#ccd9ed 77px,#dddcdc 87px,#ebd4c7 98px,#f4c6b0 112px,#f7b396 133px,#f59d7e 159px,#ee8467 194px,#e16751 242px,#de614d 258px,#de614d 264px)"></i>
<i style="background:linear-gradient(90deg,#4860d1,#4b64d5 9px,#5470de 18px,#6d8ff2 34px,#87aafc 47px,#9ebeff 56px,#b5cdfa 65px,#cbd8ee 75px,#dddcdc 85px,#ead4c8 95px,#f3c8b3 108px,#f7b598 128px,#f59f81 153px,#ef876a 186px,#e36c54 230px,#dd604c 254px,#dc5e4b 264px)"></i>
<i style="background:linear-gradient(90deg,#4861d2,#4c65d5 9px,#5471de 18px,#6c8ef1 33px,#87aafc 46px,#9ebeff 55px,#b5cefa 64px,#ccd9ed 74px,#dddcdd 83px,#ead4c8 93px,#f3c8b2 106px,#f7b599 125px,#f5a081 149px,#ef886b 181px,#e46d55 224px,#dc5d4a 254px,#db5c4a 264px)"></i>
<i style="background:linear-gradient(90deg,#4961d2,#4c65d6 9px,#5572df 18px,#6d8ff2 33px,#89acfd 46px,#a0c0ff 55px,#b8d0f9 64px,#cfdaeb 74px,#dedcdb 82px,#ead4c9 91px,#f3c7b2 104px,#f7b599 122px,#f6a182 145px,#ef886b 177px,#e46d55 220px,#db5b49 254px,#da5948 264px)"></i>
<i style="background:linear-gradient(90deg,#4961d2,#4c66d6 9px,#5572df 18px,#6c8ff1 32px,#89acfd 45px,#a0c0ff 54px,#b6cffa 62px,#ccd9ed 71px,#dddcdc 80px,#ead4c9 89px,#f3c8b3 101px,#f7b79b 118px,#f6a284 140px,#f08b6d 170px,#e57057 211px,#d95948 253px,#d95747 264px)"></i>
<i style="background:linear-gradient(90deg,#4962d3,#4c66d6 8px,#5370dd 16px,#6889ee 29px,#83a7fb 42px,#9bbbff 51px,#b1cbfb 59px,#c8d7f0 68px,#dbdcdf 77px,#e6d7cf 84px,#f1ccb9 95px,#f7bba0 111px,#f7a788 132px,#f29072 159px,#e8765c 196px,#d95948 247px,#d75545 264px)"></i>
<i style="background:linear-gradient(90deg,#4a62d3,#4c66d6 8px,#5470de 16px,#6788ee 28px,#81a4fb 40px,#98b9ff 49px,#afcafc 57px,#c7d7f1 66px,#dadce0 75px,#e1dad6 79px,#edd1c3 88px,#f5c3ac 101px,#f7b294 118px,#f59c7d 141px,#ee8467 172px,#e26952 214px,#d75445 253px,#d65244 264px)"></i>
<i style="background:linear-gradient(90deg,#4a63d3,#4d67d7 8px,#5471de 16px,#6889ee 28px,#83a6fb 40px,#9bbbff 49px,#b0cafc 56px,#c6d6f2 64px,#d9dce0 73px,#e1dbd7 77px,#edd1c2 86px,#f5c4ad 98px,#f7b396 114px,#f59e7f 136px,#ee8669 166px,#e36a54 207px,#d65243 252px,#d55042 264px)"></i>
<i style="background:linear-gradient(90deg,#4a63d4,#4d67d7 8px,#5572df 16px,#698bef 28px,#85a8fc 40px,#9ebeff 49px,#b3ccfb 56px,#cad8ef 64px,#dddcdd 73px,#ebd4c7 82px,#f3c7b1 93px,#f7b498 110px,#f5a081 131px,#ef886b 159px,#e46e56 198px,#d55042 250px,#d34d41 264px)"></i>
<i style="background:linear-gradient(90deg,#4b64d4,#4e68d7 8px,#5672df 16px,#688aee 27px,#82a5fb 38px,#9bbbff 47px,#b1cbfc 54px,#c8d7f0 62px,#dadce0 70px,#e3d9d3 75px,#efcfbe 84px,#f5c1a8 96px,#f7af92 112px,#f4997a 135px,#ec8064 166px,#e06550 208px,#d34c40 253px,#d24b3f 264px)"></i>
<i style="background:linear-gradient(90deg,#4b64d5,#4e68d8 8px,#5673e0 16px,#6788ee 26px,#81a4fb 37px,#98b9ff 45px,#aec9fc 52px,#c4d5f3 59px,#d8dce2 67px,#e0dbd9 71px,#ecd3c5 79px,#f4c5ae 90px,#f7b396 106px,#f59e7f 127px,#ee8669 155px,#e36b54 194px,#d34c40 248px,#d1483e 264px)"></i>
<i style="background:linear-gradient(90deg,#4b65d5,#4e69d8 8px,#5774e1 16px,#688aee 26px,#80a4fb 36px,#98b9ff 44px,#aec9fc 51px,#c4d6f2 58px,#d7dce3 65px,#dfdbd9 69px,#ecd3c5 77px,#f4c5ae 88px,#f7b396 103px,#f59f81 122px,#ef886b 149px,#e46d56 186px,#d44f41 238px,#d0463d 256px,#cf453c 264px)"></i>
<i style="background:linear-gradient(90deg,#4c65d6,#4f69d9 8px,#5775e1 16px,#698bef 26px,#83a6fb 36px,#9bbbff 44px,#b2ccfb 51px,#c8d7f0 58px,#dbdcdf 65px,#e6d7cf 71px,#f1ccb9 80px,#f6bda2 92px,#f7a98b 109px,#f29375 132px,#ea7a5f 163px,#dc5e4b 206px,#cf443c 253px,#ce433b 264px)"></i>
<i style="background:linear-gradient(90deg,#4c66d6,#4f6ad9 8px,#5876e2 16px,#688aee 25px,#82a5fb 35px,#98b9ff 42px,#afcafc 49px,#c3d5f3 55px,#d7dce3 62px,#dedcdb 65px,#ebd4c7 72px,#f3c7b1 82px,#f7b79b 94px,#f6a384 112px,#f08c6e 137px,#e67259 171px,#d75445 218px,#cd423b 253px,#cc403a 264px)"></i>
<i style="background:linear-gradient(90deg,#4d66d6,#506bda 8px,#5977e2 16px,#6a8bef 25px,#81a5fb 34px,#98b9ff 41px,#afcafc 48px,#c4d5f3 54px,#d8dce1 61px,#e0dbd9 64px,#ebd4c7 70px,#f3c7b2 79px,#f7b69a 92px,#f6a283 110px,#f08b6e 134px,#e67259 167px,#d75545 213px,#cc3f39 253px,#cb3e38 264px)"></i>
<i style="background:linear-gradient(90deg,#4d67d7,#506bda 8px,#5a78e3 16px,#6b8df0 25px,#84a7fc 34px,#9bbbff 41px,#b0cafc 47px,#c4d6f2 53px,#d9dce0 60px,#e1dbd7 63px,#ecd2c5 69px,#f4c6af 78px,#f7b498 91px,#f5a081 109px,#ef896c 133px,#e56f57 167px,#d65243 214px,#ca3c38 253px,#c93b37 264px)"></i>
<i style="background:linear-gradient(90deg,#4d67d7,#506bda 7px,#5775e1 14px,#6889ee 23px,#80a3fa 32px,#98b9ff 39px,#adc8fd 45px,#c2d4f4 51px,#d5dbe5 57px,#dddcdc 60px,#ead4c8 66px,#f3c8b3 74px,#f7b69a 87px,#f6a486 102px,#f18f71 123px,#e8765c 153px,#da5a49 195px,#c93a37 251px,#c83836 264px)"></i>
<i style="background:linear-gradient(90deg,#4e68d8,#516cdb 7px,#5876e2 14px,#6889ee 22px,#80a3fa 31px,#98b9ff 38px,#adc9fd 44px,#c2d5f4 50px,#d6dce4 56px,#dedcdb 59px,#ead5c9 64px,#f2c9b5 71px,#f7bba0 81px,#f7a98a 95px,#f39375 115px,#ea7c61 142px,#dd604c 181px,#cc3f39 236px,#c73535 256px,#c63434 264px)"></i>
<i style="background:linear-gradient(90deg,#4e69d8,#516ddb 7px,#5977e3 14px,#698bef 22px,#83a6fb 31px,#9bbcff 38px,#b1cbfb 44px,#c7d7f1 50px,#d9dce0 56px,#e2dad6 59px,#ecd2c4 64px,#f4c6b0 71px,#f7b79c 81px,#f6a587 95px,#f29072 115px,#e9785e 143px,#db5c4a 183px,#c93a37 240px,#c53233 256px,#c53133 264px)"></i>
<i style="background:linear-gradient(90deg,#4f69d9,#526ddc 7px,#5a79e4 14px,#6b8df1 22px,#86a9fc 31px,#9fbfff 38px,#b6cefa 44px,#cbd8ee 50px,#dddcdc 56px,#ecd3c5 62px,#f4c6af 69px,#f7b89c 78px,#f6a485 93px,#f18e70 114px,#e7755b 143px,#d95847 184px,#c63534 243px,#c32f32 258px,#c32e32 264px)"></i>
<i style="background:linear-gradient(90deg,#4f6ad9,#526edc 7px,#5c7ae5 14px,#6b8df0 21px,#86a9fc 30px,#9cbcff 36px,#b3cdfb 42px,#c9d8f0 48px,#dbdcde 54px,#ebd4c7 60px,#f3c8b2 66px,#f7ba9f 74px,#f7a788 88px,#f29173 107px,#e9795e 134px,#dc5d4a 172px,#ca3c38 226px,#c22d31 253px,#c12b30 264px)"></i>
<i style="background:linear-gradient(90deg,#4f6ad9,#526edc 6px,#5977e3 12px,#6889ee 19px,#83a6fb 28px,#99baff 34px,#b0cbfc 40px,#c7d7f1 46px,#dadce0 52px,#e3dad5 55px,#efcfbd 61px,#f5c0a7 68px,#f7b396 76px,#f59e7f 92px,#ef876a 114px,#e46d55 145px,#d54f42 189px,#c22b30 249px,#c0282f 264px)"></i>
<i style="background:linear-gradient(90deg,#506bda,#536fdd 6px,#5a79e4 12px,#6a8cf0 19px,#83a6fb 27px,#99baff 33px,#adc9fd 38px,#c4d6f3 44px,#d8dce2 50px,#dedcdb 52px,#ebd4c7 57px,#f3c7b1 63px,#f7ba9f 69px,#f7ad90 77px,#f4997a 93px,#ed8366 115px,#e16852 147px,#d14a3f 193px,#bf262e 253px,#be232e 264px)"></i>
<i style="background:linear-gradient(90deg,#506cda,#5370dd 6px,#5b7ae5 12px,#6c8ef1 19px,#86a9fc 27px,#9dbdff 33px,#b2ccfb 38px,#c9d8ef 44px,#dcdcdd 50px,#ead5c9 55px,#f3c8b2 61px,#f7ba9f 67px,#f7ac8e 75px,#f39778 92px,#ec7f63 115px,#e06550 147px,#d0463d 194px,#bf252e 247px,#bd1f2d 258px,#bd1e2d 264px)"></i>
<i style="background:linear-gradient(90deg,#516cdb,#5470de 6px,#5c7be6 12px,#6e90f2 19px,#89acfd 27px,#a1c0ff 33px,#b6cefa 38px,#cad8ef 43px,#dadce0 48px,#e3dad4 51px,#f0cebc 57px,#f6bda3 64px,#f7b193 70px,#f6a384 79px,#f18e70 97px,#e8765c 122px,#db5b49 158px,#c93936 210px,#bf252e 241px,#bc1b2c 254px,#bb192b 264px)"></i>
<i style="background:linear-gradient(90deg,#516ddb,#5471de 6px,#5d7de6 12px,#7092f3 19px,#88abfd 26px,#a0bfff 32px,#b6cefa 37px,#cad8ef 42px,#dbdcdf 47px,#e6d7cf 51px,#f2cab7 57px,#f7b99e 64px,#f7ad8f 70px,#f59f81 79px,#ef896c 98px,#e67159 124px,#d85545 162px,#c53233 217px,#bf252e 237px,#ba172b 253px,#ba152a 264px)"></i>
<i style="background:linear-gradient(90deg,#526ddb,#5572df 6px,#5c7be5 11px,#6e90f2 18px,#87aafc 25px,#9fbfff 31px,#b5cefa 36px,#cad8ef 41px,#dbdcde 46px,#e9d5ca 51px,#f3c7b2 57px,#f7b69a 64px,#f7a98b 70px,#f59c7d 79px,#ee8568 99px,#e46d55 126px,#d55042 166px,#c12b30 224px,#be222d 236px,#b9132a 253px,#b81129 264px)"></i>
<i style="background:linear-gradient(90deg,#526edc,#5572df 6px,#5d7ce6 11px,#6c8ff1 17px,#89acfd 25px,#a2c1ff 31px,#b8d0f9 36px,#cdd9ec 41px,#dbdcdf 45px,#e7d7ce 49px,#f2cab5 55px,#f7b89c 62px,#f7a889 69px,#f49a7b 78px,#ed8467 98px,#e36b54 126px,#d34d41 167px,#c0272f 226px,#b81129 251px,#b70d29 264px)"></i>
<i style="background:linear-gradient(90deg,#526edc,#5571df 5px,#5e7de6 11px,#6e90f2 17px,#87aafc 24px,#a0bfff 30px,#b6cffa 35px,#ccd9ed 40px,#dddcdc 45px,#ebd3c6 50px,#f4c5ae 56px,#f7b396 63px,#f6a586 69px,#f49879 78px,#ec8064 99px,#e16751 128px,#d1483e 171px,#bf252e 225px,#b70e29 251px,#b60a28 264px)"></i>
<i style="background:linear-gradient(90deg,#526edc,#5572df 5px,#5e7de7 11px,#6e91f2 17px,#89abfd 24px,#9ebeff 29px,#b4cdfa 34px,#c6d6f2 38px,#d9dce1 43px,#dfdbd9 45px,#edd2c3 50px,#f5c3ab 56px,#f7b093 63px,#f6a384 69px,#f39577 78px,#eb7e62 100px,#df644f 130px,#cf453c 174px,#bf262e 222px,#b60b28 251px,#b50827 264px)"></i>
<i style="background:linear-gradient(90deg,#536edc,#5572df 5px,#5e7ee7 11px,#6f92f3 17px,#8aadfd 24px,#9fbfff 29px,#b1cbfb 33px,#c7d7f1 38px,#dadcdf 43px,#e1dad7 45px,#eed0c1 50px,#f5c1a8 56px,#f7ae91 63px,#f6a182 69px,#f39475 78px,#ea7c61 100px,#df624e 130px,#ce443c 174px,#bf252e 220px,#b60928 251px,#b50627 264px)"></i>
<i style="background:linear-gradient(90deg,#536fdd,#5572df 5px,#5f7ee7 11px,#7092f3 17px,#8badfd 24px,#a0c0ff 29px,#b2ccfb 33px,#c9d7f0 38px,#dcddde 43px,#ebd4c7 48px,#f4c5ae 54px,#f7b295 61px,#f6a182 68px,#f39476 76px,#ea7c61 99px,#de624e 129px,#ce433b 173px,#bf262e 218px,#b50827 250px,#b40426 262px,#b40426 264px)"></i>
<i style="background:linear-gradient(90deg,#536fdd,#5672df 5px,#5f7ee8 11px,#7093f3 17px,#8baefd 24px,#a1c0ff 29px,#b3cdfb 33px,#cad8ef 38px,#ddd 43px,#ebd3c6 48px,#f4c4ad 54px,#f7b194 61px,#f5a081 68px,#f39375 76px,#ea7b60 99px,#de614d 130px,#cd413a 175px,#bf252e 217px,#b50727 250px,#b40426 260px,#b40426 264px)"></i>
<i style="background:linear-gradient(90deg,#536fdd,#5673e0 5px,#5f7fe8 11px,#7093f3 17px,#8caefd 24px,#a1c1ff 29px,#b9d0f9 34px,#ced9eb 39px,#dddcdc 43px,#ecd3c5 48px,#f5c4ac 54px,#f7b093 61px,#f59f81 68px,#f29374 76px,#ea7a60 99px,#dd604c 130px,#cd413a 175px,#bf262e 216px,#b50727 250px,#b40426 258px,#b40426 264px)"></i>
<i style="height:1px;background:linear-gradient(90deg,#536fdd,#5673e0 5px,#5f7fe8 11px,#7093f3 17px,#8caefe 24px,#a2c1ff 29px,#b9d0f9 34px,#cfdaeb 39px,#dddcdc 43px,#ecd3c5 48px,#f5c3ac 54px,#f7b093 61px,#f59f80 68px,#f29374 76px,#ea7a5f 99px,#dd604c 130px,#cd413a 175px,#bf252e 216px,#b50627 250px,#b40426 258px,#b40426 264px)"></i>
</div>
<div class="hm" style="left:31px;top:705px;width:262px;height:247px">
<i style="background:linear-gradient(90deg,#3b4cc0,#3c4ec2 10px,#4860d1 30px,#6383eb 68px,#7c9ff9 99px,#94b6ff 128px,#acc8fd 157px,#c3d5f3 189px,#d8dce2 224px,#dfdbd9 238px,#e5d8d1 254px,#e6d8d0 262px)"></i>
<i style="background:linear-gradient(90deg,#3b4cc0,#3d4fc3 11px,#536fdd 46px,#6c8ef1 80px,#85a8fc 110px,#9cbdff 138px,#b4cdfa 168px,#cbd8ee 201px,#dddcdc 234px,#e5d8d1 252px,#e6d8d0 262px)"></i>
<i style="background:linear-gradient(90deg,#3b4cc0,#3d4fc3 11px,#536fdd 46px,#6c8ef1 80px,#85a8fc 110px,#9dbdff 138px,#b4cdfa 168px,#cbd9ee 201px,#dddcdc 234px,#e5d8d1 252px,#e6d8cf 262px)"></i>
<i style="background:linear-gradient(90deg,#3b4cc0,#3d4fc3 11px,#536fdd 46px,#6c8ff1 80px,#85a8fc 110px,#9dbdff 138px,#b5cdfa 168px,#ccd9ee 201px,#dddcdc 233px,#e5d8d1 252px,#e6d7cf 262px)"></i>
<i style="background:linear-gradient(90deg,#3b4cc0,#3d4fc3 11px,#536fdd 46px,#6d8ff1 80px,#85a8fc 110px,#9ebeff 139px,#b6cefa 169px,#ccd9ed 202px,#dddcdc 233px,#e5d8d0 252px,#e6d7cf 262px)"></i>
<i style="background:linear-gradient(90deg,#3b4cc0,#3d4fc3 11px,#536fdd 46px,#6d8ff1 80px,#86a9fc 110px,#9ebeff 139px,#b6cefa 169px,#ccd9ed 201px,#dedcdb 233px,#e6d8d0 252px,#e7d7ce 262px)"></i>
<i style="background:linear-gradient(90deg,#3b4cc0,#3d4fc3 11px,#526ddc 44px,#6c8ef1 79px,#85a8fc 109px,#9dbdff 137px,#b5cefa 167px,#ccd9ed 200px,#dedcdb 232px,#e6d7cf 252px,#e7d7ce 262px)"></i>
<i style="background:linear-gradient(90deg,#3b4cc0,#3d50c4 12px,#5b7ae5 57px,#7598f6 89px,#8db0fe 118px,#a5c3fe 146px,#bdd2f7 177px,#d2dbe8 210px,#dedcdb 232px,#e7d7ce 252px,#e7d6cd 262px)"></i>
<i style="background:linear-gradient(90deg,#3b4cc0,#3d50c4 12px,#5b7ae5 57px,#7598f6 89px,#8eb0fe 118px,#a5c3fe 146px,#bed2f6 177px,#d3dbe7 210px,#dedcdb 231px,#e7d7ce 252px,#e8d6cc 262px)"></i>
<i style="background:linear-gradient(90deg,#3b4cc0,#3d50c4 12px,#5b79e4 56px,#7598f6 89px,#8db0fe 117px,#a5c3fe 145px,#bdd2f7 175px,#d3dbe8 208px,#dedcdb 230px,#e7d6cd 251px,#e9d6cb 262px)"></i>
<i style="background:linear-gradient(90deg,#3b4cc0,#3d50c4 12px,#5b7ae5 56px,#7598f6 88px,#8db0fe 116px,#a5c3fe 144px,#bdd2f7 174px,#d3dbe7 207px,#dedcda 229px,#e8d6cc 251px,#e9d5ca 262px)"></i>
<i style="background:linear-gradient(90deg,#3b4dc1,#3e51c4 12px,#5b7ae5 56px,#7598f6 88px,#8eb0fe 116px,#a6c4fe 144px,#bed2f6 174px,#d3dbe7 207px,#dedcdb 227px,#e8d6cb 250px,#ead5c9 262px)"></i>
<i style="background:linear-gradient(90deg,#3b4dc1,#3e51c4 12px,#5c7ae5 56px,#7699f6 88px,#8eb1fe 116px,#a6c4fe 143px,#bed2f6 173px,#d3dbe7 205px,#dedcda 226px,#e9d5ca 250px,#ead4c8 262px)"></i>
<i style="background:linear-gradient(90deg,#3b4dc1,#3e51c4 12px,#5b7ae5 55px,#7598f6 87px,#8eb0fe 115px,#a6c3fe 142px,#bed2f6 172px,#d3dbe7 204px,#dedcdb 224px,#ead5c9 250px,#ebd3c7 262px)"></i>
<i style="background:linear-gradient(90deg,#3b4dc1,#3e51c5 12px,#5b79e4 54px,#7598f6 86px,#8eb0fe 114px,#a5c3fe 141px,#bdd2f7 170px,#d3dbe7 202px,#dedcda 223px,#ead4c8 250px,#ecd3c5 262px)"></i>
<i style="background:linear-gradient(90deg,#3b4dc1,#3e51c5 12px,#5b7ae4 54px,#7598f6 86px,#8db0fe 113px,#a5c3fe 140px,#bdd2f7 169px,#d3dbe7 201px,#dedcdb 221px,#ebd4c7 249px,#ecd2c4 262px)"></i>
<i style="background:linear-gradient(90deg,#3b4dc1,#3e52c5 12px,#5b7ae5 54px,#7699f6 86px,#8eb1fe 113px,#a6c4fe 140px,#bed3f6 169px,#d3dbe7 200px,#dedcda 220px,#ebd3c6 249px,#edd2c3 262px)"></i>
<i style="background:linear-gradient(90deg,#3c4ec1,#3e52c5 12px,#5c7ae5 54px,#7598f6 85px,#8eb0fe 112px,#a5c3fe 138px,#bdd2f7 166px,#d2dbe8 197px,#dedcdb 218px,#ecd3c5 248px,#edd1c2 262px)"></i>
<i style="background:linear-gradient(90deg,#3c4ec2,#3e52c5 12px,#5b7ae4 53px,#7598f6 84px,#8db0fe 111px,#a5c3fe 137px,#bdd2f7 165px,#d2dbe8 196px,#dedcdb 216px,#ecd2c5 247px,#eed0c1 260px,#eed0c0 262px)"></i>
<i style="background:linear-gradient(90deg,#3c4ec2,#3f52c5 12px,#5b7ae5 53px,#7598f6 84px,#8db0fe 110px,#a5c3fe 136px,#bdd2f7 164px,#d3dbe7 195px,#dedcdb 215px,#ecd2c5 245px,#eed0bf 258px,#eed0bf 262px)"></i>
<i style="background:linear-gradient(90deg,#3c4ec2,#3f52c5 12px,#5b79e4 52px,#7598f6 83px,#8eb0fe 110px,#a6c4fe 136px,#bed2f6 164px,#d3dbe7 194px,#dedcda 214px,#edd2c3 245px,#efcfbe 258px,#efcfbe 262px)"></i>
<i style="background:linear-gradient(90deg,#3c4ec2,#3f52c6 12px,#5a79e4 51px,#7598f6 82px,#8db0fe 109px,#a6c4fe 135px,#bed2f6 163px,#d3dbe7 193px,#dedcdb 212px,#ecd2c4 242px,#efcebd 256px,#efcebd 262px)"></i>
<i style="background:linear-gradient(90deg,#3c4ec2,#3f53c6 12px,#5b79e4 51px,#7598f6 82px,#8db0fe 108px,#a5c3fe 134px,#bed2f6 162px,#d3dbe7 192px,#dedcda 211px,#ecd2c4 241px,#f0cebc 255px,#f0cdbb 262px)"></i>
<i style="background:linear-gradient(90deg,#3c4ec2,#3f53c6 12px,#5b79e4 51px,#7699f6 82px,#8eb0fe 108px,#a5c3fe 133px,#bdd2f7 160px,#d3dbe7 190px,#dedcdb 209px,#ecd2c4 239px,#f0cdbb 254px,#f0cdba 262px)"></i>
<i style="background:linear-gradient(90deg,#3c4fc2,#3f53c6 12px,#5b7ae5 51px,#7598f6 81px,#8eb0fe 107px,#a5c3fe 132px,#bdd2f7 159px,#d2dbe8 188px,#dedcda 208px,#ecd2c4 237px,#f0cdba 253px,#f1ccb9 262px)"></i>
<i style="background:linear-gradient(90deg,#3c4fc2,#3f52c6 11px,#516cda 37px,#6c8ef1 70px,#84a7fc 96px,#9cbcff 121px,#b4cdfb 147px,#cbd8ee 176px,#dddcdc 204px,#ecd3c5 234px,#f1ccb9 252px,#f1cbb8 262px)"></i>
<i style="background:linear-gradient(90deg,#3c4fc3,#3f53c6 11px,#516cdb 37px,#6c8ef1 70px,#85a8fc 97px,#9dbdff 122px,#b5cefa 148px,#ccd9ed 176px,#dddcdc 203px,#ecd3c5 232px,#f1ccb8 251px,#f2cab6 262px)"></i>
<i style="background:linear-gradient(90deg,#3d4fc3,#3f53c6 11px,#516cdb 37px,#6d8ff1 70px,#85a8fc 96px,#9cbcff 120px,#b5cdfa 146px,#cbd9ee 174px,#dddcdc 201px,#ecd3c6 230px,#f2cbb7 251px,#f2c9b5 262px)"></i>
<i style="background:linear-gradient(90deg,#3d4fc3,#3f53c6 11px,#506bda 35px,#6b8df0 68px,#84a7fc 94px,#9bbcff 118px,#b3ccfb 143px,#cad8ef 171px,#ddd 199px,#ebd3c6 228px,#f2cab6 251px,#f3c9b3 262px)"></i>
<i style="background:linear-gradient(90deg,#3d4fc3,#3f53c6 11px,#506bda 35px,#6c8df1 68px,#84a7fc 94px,#9cbcff 118px,#b4cdfb 143px,#cad8ef 170px,#dddcdc 198px,#ecd3c5 227px,#f2c9b4 251px,#f3c8b2 262px)"></i>
<i style="background:linear-gradient(90deg,#3d50c3,#3f53c7 11px,#506bda 35px,#6c8ef1 68px,#84a7fc 93px,#9cbcff 117px,#b4cdfb 142px,#cad8ee 169px,#ddd 196px,#ebd3c6 224px,#f3c8b3 250px,#f3c7b1 262px)"></i>
<i style="background:linear-gradient(90deg,#3d50c3,#4054c7 11px,#506cda 35px,#6b8df1 67px,#84a8fc 93px,#9dbdff 117px,#b5cdfa 142px,#cbd9ee 169px,#dddcdc 195px,#ecd3c6 223px,#f3c8b2 250px,#f4c6af 262px)"></i>
<i style="background:linear-gradient(90deg,#3d50c4,#4054c7 11px,#516cdb 35px,#6c8ef1 67px,#84a7fc 92px,#9cbcff 116px,#b5cdfa 141px,#ccd9ee 168px,#dddcdc 194px,#ecd3c5 222px,#f3c7b1 250px,#f4c5ae 262px)"></i>
<i style="background:linear-gradient(90deg,#3d50c4,#4054c7 11px,#506bda 34px,#6b8df1 66px,#84a7fc 91px,#9bbcff 114px,#b3ccfb 138px,#cad8ef 165px,#dddcdc 192px,#ecd3c5 220px,#f4c6af 250px,#f5c4ac 262px)"></i>
<i style="background:linear-gradient(90deg,#3d50c4,#4054c7 11px,#506bda 34px,#6c8ef1 66px,#84a8fc 91px,#9cbcff 114px,#b4cdfb 138px,#cbd8ee 165px,#dddcdc 191px,#ecd3c6 218px,#f4c5ae 249px,#f5c3ab 262px)"></i>
<i style="background:linear-gradient(90deg,#3e51c4,#4054c7 11px,#506cda 34px,#6c8ef1 66px,#85a8fc 91px,#9dbdff 114px,#b5cdfa 138px,#cbd9ee 164px,#dddcdc 190px,#ecd3c5 217px,#f4c4ad 249px,#f5c2aa 262px)"></i>
<i style="background:linear-gradient(90deg,#3e51c4,#4055c8 11px,#506bda 33px,#6c8ef1 65px,#85a8fc 90px,#9dbdff 113px,#b5cdfa 137px,#ccd9ee 163px,#dddcdc 188px,#ecd3c5 215px,#f5c4ac 247px,#f5c1a8 260px,#f5c1a8 262px)"></i>
<i style="background:linear-gradient(90deg,#3e51c4,#4055c8 11px,#4f6ad9 32px,#6b8df0 64px,#84a7fc 89px,#9cbcff 112px,#b5cdfa 136px,#ccd9ed 162px,#dddcdc 187px,#ecd3c5 213px,#f5c4ac 245px,#f6c0a7 258px,#f6c0a7 262px)"></i>
<i style="background:linear-gradient(90deg,#3e51c4,#4055c8 11px,#506ada 32px,#6c8ef1 64px,#85a8fc 89px,#9dbdff 112px,#b5cdfa 135px,#ccd9ed 161px,#dddcdc 185px,#ecd3c6 211px,#f5c4ac 243px,#f6bfa6 256px,#f6bfa5 262px)"></i>
<i style="background:linear-gradient(90deg,#3e51c5,#4155c8 11px,#506bda 32px,#6c8ef1 64px,#86a9fc 89px,#9ebeff 112px,#b6cefa 135px,#ccd9ed 160px,#dddcdc 184px,#ecd3c5 210px,#f5c3ab 242px,#f6bea4 256px,#f6bea4 262px)"></i>
<i style="background:linear-gradient(90deg,#3e51c5,#4155c8 11px,#4f6ad9 31px,#6c8ef1 63px,#84a7fc 87px,#9cbcff 109px,#b4cdfb 132px,#cbd8ee 157px,#dddcdc 182px,#ecd3c5 208px,#f5c4ac 239px,#f6bda3 254px,#f6bda2 262px)"></i>
<i style="background:linear-gradient(90deg,#3e52c5,#4156c8 11px,#4f6ad9 31px,#6c8ef1 63px,#85a8fc 87px,#9dbdff 109px,#b5cdfa 132px,#ccd9ed 157px,#dddcdc 181px,#ecd3c6 206px,#f5c4ac 237px,#f6bca2 253px,#f7bba1 262px)"></i>
<i style="background:linear-gradient(90deg,#3e52c5,#4156c9 11px,#506bda 31px,#6c8ef1 62px,#84a8fc 86px,#9cbdff 108px,#b5cdfa 131px,#cbd8ee 155px,#dddcdc 179px,#ebd3c6 204px,#f4c4ad 234px,#f7bca1 252px,#f7ba9f 262px)"></i>
<i style="background:linear-gradient(90deg,#3f52c5,#4156c9 11px,#506bda 31px,#6c8ef1 62px,#85a8fc 86px,#9dbdff 108px,#b5cdfa 130px,#cbd9ee 154px,#dddcdc 178px,#ecd3c5 203px,#f5c4ac 233px,#f7bba0 251px,#f7b99e 262px)"></i>
<i style="background:linear-gradient(90deg,#3f52c5,#4156c9 11px,#4f6ad9 30px,#6c8ff1 62px,#86a9fc 86px,#9ebeff 108px,#b6cefa 130px,#ccd9ed 154px,#dedcdb 177px,#ecd3c5 201px,#f5c4ac 231px,#f7b99e 251px,#f7b89c 262px)"></i>
<i style="background:linear-gradient(90deg,#3f52c6,#4156c9 11px,#4f69d9 29px,#6c8ef1 61px,#85a9fc 85px,#9ebeff 107px,#b6cefa 129px,#cdd9ed 153px,#dddcdc 175px,#ecd3c6 199px,#f4c4ad 228px,#f7b89d 251px,#f7b69a 262px)"></i>
<i style="background:linear-gradient(90deg,#3f53c6,#4257c9 11px,#4f6ad9 29px,#6c8ff1 61px,#86a9fc 85px,#9fbfff 107px,#b7cff9 129px,#ced9ec 153px,#dedcdb 174px,#ecd3c5 198px,#f5c4ac 227px,#f7b79b 250px,#f7b599 262px)"></i>
<i style="background:linear-gradient(90deg,#3f53c6,#4257ca 11px,#4f6ad9 29px,#6c8ef1 60px,#85a8fc 83px,#9cbdff 104px,#b5cdfa 126px,#cbd9ee 149px,#dddcdc 172px,#ecd3c5 196px,#f5c4ac 225px,#f7b69a 250px,#f7b497 262px)"></i>
<i style="background:linear-gradient(90deg,#3f53c6,#4257ca 11px,#4f6ad9 29px,#6c8ff1 60px,#85a9fc 83px,#9dbdff 104px,#b5cdfa 125px,#ccd9ee 148px,#dddcdc 170px,#ecd3c5 194px,#f4c4ad 222px,#f7b598 250px,#f7b396 262px)"></i>
<i style="background:linear-gradient(90deg,#3f53c6,#4257ca 11px,#4f6ad9 28px,#6c8ef1 59px,#85a8fc 82px,#9dbdff 103px,#b5cdfa 124px,#ccd9ed 147px,#dddcdc 169px,#ecd3c5 193px,#f5c4ac 221px,#f7b497 249px,#f7b194 262px)"></i>
<i style="background:linear-gradient(90deg,#3f53c7,#4258ca 11px,#4f6ad9 28px,#6c8ef1 59px,#86a9fc 82px,#9ebeff 103px,#b6cefa 124px,#ccd9ed 146px,#dedcdc 168px,#ecd3c5 191px,#f5c4ac 219px,#f7b295 249px,#f7b092 262px)"></i>
<i style="background:linear-gradient(90deg,#4054c7,#4258ca 11px,#4f6ad9 28px,#6c8ef1 58px,#85a8fc 81px,#9ebeff 102px,#b5cefa 122px,#ccd9ed 145px,#dddcdc 166px,#ecd3c5 189px,#f5c4ac 217px,#f7b194 249px,#f7ae91 262px)"></i>
<i style="background:linear-gradient(90deg,#4054c7,#4358cb 11px,#506bda 28px,#6c8ef1 58px,#86a9fc 81px,#9fbeff 102px,#b6cefa 122px,#ccd9ed 144px,#dedcdc 165px,#ecd3c6 187px,#f4c4ad 214px,#f7b093 248px,#f7ad8f 262px)"></i>
<i style="background:linear-gradient(90deg,#4054c7,#4358cb 11px,#506bda 28px,#6d8ff1 58px,#87aafc 81px,#9fbeff 101px,#b6cefa 121px,#cdd9ed 143px,#dddcdc 163px,#ebd3c6 185px,#f4c4ad 212px,#f7af92 247px,#f7ab8d 262px)"></i>
<i style="background:linear-gradient(90deg,#4054c7,#4359cb 11px,#506bda 28px,#6c8ef1 57px,#85a8fc 79px,#9dbdff 99px,#b5cefa 119px,#ccd9ed 141px,#dddcdc 162px,#ecd3c5 184px,#f5c4ac 211px,#f7ae91 246px,#f7aa8c 259px,#f7aa8c 262px)"></i>
<i style="background:linear-gradient(90deg,#4054c7,#4359cb 11px,#506ada 27px,#6d8ff1 57px,#86a9fc 79px,#9ebeff 99px,#b6cefa 119px,#cdd9ec 141px,#dddcdc 160px,#ecd3c5 182px,#f4c4ad 208px,#f7af91 242px,#f7a98b 256px,#f7a88a 262px)"></i>
<i style="background:linear-gradient(90deg,#4055c8,#4359cb 11px,#4f6ad9 26px,#6c8ef1 56px,#86a9fc 78px,#9ebeff 98px,#b5cefa 117px,#cbd9ee 138px,#dddcdc 159px,#ecd3c6 180px,#f4c4ad 206px,#f7af91 240px,#f7a88a 254px,#f7a788 262px)"></i>
<i style="background:linear-gradient(90deg,#4055c8,#4359cb 10px,#4d67d7 24px,#6c8ef1 55px,#85a8fc 77px,#9dbdff 96px,#b4cdfb 115px,#cbd8ee 136px,#dddcdc 157px,#ebd3c6 178px,#f4c4ad 204px,#f7af92 237px,#f7a788 253px,#f6a587 262px)"></i>
<i style="background:linear-gradient(90deg,#4155c8,#4359cb 10px,#4e68d7 24px,#6c8ef1 55px,#86a9fc 77px,#9fbeff 97px,#b6cefa 116px,#cdd9ec 137px,#dddcdc 156px,#ecd3c5 177px,#f4c4ad 202px,#f7af92 235px,#f6a587 252px,#f6a485 262px)"></i>
<i style="background:linear-gradient(90deg,#4155c8,#4359cb 10px,#4d67d7 23px,#6a8cf0 53px,#83a6fb 74px,#9bbbff 93px,#b3ccfb 112px,#cad8ef 133px,#dddcdc 154px,#ecd3c6 175px,#f4c4ad 200px,#f7af91 233px,#f6a485 251px,#f6a283 262px)"></i>
<i style="background:linear-gradient(90deg,#4156c8,#4359cc 10px,#4d67d7 23px,#6c8ef1 54px,#85a8fc 75px,#9dbdff 94px,#b5cefa 113px,#ccd9ed 134px,#dddcdc 153px,#ebd3c6 173px,#f4c4ad 198px,#f7af92 230px,#f6a284 251px,#f6a182 262px)"></i>
<i style="background:linear-gradient(90deg,#4156c9,#445acc 10px,#4d68d7 23px,#6c8df1 53px,#85a8fc 74px,#9dbdff 93px,#b5cefa 112px,#ccd9ed 132px,#dddcdc 151px,#ebd3c6 171px,#f4c5ae 195px,#f7b092 227px,#f6a182 250px,#f59f80 262px)"></i>
<i style="background:linear-gradient(90deg,#4156c9,#445acc 10px,#4e68d8 23px,#6c8ef1 53px,#85a8fc 74px,#9ebeff 93px,#b5cefa 111px,#ccd9ed 131px,#dddcdc 150px,#ecd3c5 170px,#f4c4ad 194px,#f7af91 226px,#f5a081 250px,#f59d7e 262px)"></i>
<i style="background:linear-gradient(90deg,#4156c9,#445acc 10px,#4e68d8 23px,#6d8ff1 53px,#86a9fc 74px,#9fbfff 93px,#b6cefa 111px,#cdd9ec 131px,#dedcdb 149px,#ecd3c6 168px,#f4c4ad 192px,#f7af92 223px,#f59e7f 250px,#f59b7d 262px)"></i>
<i style="background:linear-gradient(90deg,#4257c9,#445acd 10px,#4e69d8 23px,#6c8ef1 52px,#86a9fc 73px,#9fbfff 92px,#b6cefa 110px,#ccd9ed 129px,#dddcdc 147px,#ecd3c5 167px,#f5c4ac 191px,#f7ae91 222px,#f59c7d 250px,#f49a7b 262px)"></i>
<i style="background:linear-gradient(90deg,#4257c9,#445bcd 10px,#4e69d8 23px,#6d8ff1 52px,#87aafc 73px,#9fbeff 91px,#b6cefa 109px,#cdd9ed 128px,#dedcdb 146px,#ecd3c5 165px,#f4c4ad 188px,#f7af92 218px,#f59b7c 249px,#f49879 262px)"></i>
<i style="background:linear-gradient(90deg,#4257ca,#445bcd 10px,#4e68d8 22px,#6c8ef1 51px,#85a8fc 71px,#9dbdff 89px,#b5cefa 107px,#ccd9ed 126px,#dddcdc 144px,#ecd3c5 163px,#f4c4ad 186px,#f7af92 216px,#f4997a 249px,#f39678 262px)"></i>
<i style="background:linear-gradient(90deg,#4257ca,#455bcd 10px,#4e68d8 22px,#6c8ff1 51px,#86a9fc 71px,#9ebeff 89px,#b5cefa 106px,#ccd9ed 125px,#dddcdc 142px,#ebd3c6 161px,#f4c4ad 184px,#f7af91 214px,#f49879 248px,#f39476 262px)"></i>
<i style="background:linear-gradient(90deg,#4258ca,#455bcd 10px,#4e69d8 22px,#6c8ef1 50px,#85a8fc 70px,#9ebeff 88px,#b5cefa 105px,#ccd9ed 124px,#dddcdc 141px,#ecd3c5 160px,#f5c3ac 183px,#f7ae90 213px,#f39677 248px,#f29274 262px)"></i>
<i style="background:linear-gradient(90deg,#4258ca,#455cce 10px,#4e69d8 22px,#6c8ff1 50px,#86a9fc 70px,#9fbfff 88px,#b7cffa 105px,#cdd9ed 123px,#dedcdb 140px,#ecd3c5 158px,#f4c4ad 180px,#f7af92 209px,#f39577 246px,#f29172 260px,#f29172 262px)"></i>
<i style="background:linear-gradient(90deg,#4358cb,#455cce 10px,#4f69d9 22px,#6c8ef1 49px,#84a8fc 68px,#9cbcff 85px,#b4cdfa 102px,#cbd8ee 120px,#dcdddd 137px,#ebd4c7 155px,#f4c5af 176px,#f7b194 204px,#f39677 242px,#f18f71 256px,#f18f71 262px)"></i>
<i style="background:linear-gradient(90deg,#4358cb,#455cce 10px,#4f6ad9 22px,#6c8ff1 49px,#85a8fc 68px,#9dbdff 85px,#b4cdfa 101px,#cbd9ee 119px,#dddcdc 136px,#ebd3c6 154px,#f5c4ad 176px,#f7af92 204px,#f39475 242px,#f18d6f 256px,#f18d6f 262px)"></i>
<i style="background:linear-gradient(90deg,#4359cb,#465dce 10px,#4f6ad9 22px,#6c8ef1 48px,#85a8fc 67px,#9dbdff 84px,#b4cdfa 100px,#ccd9ee 118px,#dddcdc 135px,#ecd3c5 153px,#f5c4ac 174px,#f7af91 202px,#f39475 239px,#f08c6e 254px,#f08b6d 262px)"></i>
<i style="background:linear-gradient(90deg,#4359cb,#465dcf 10px,#506bda 22px,#6d8ff1 48px,#86a9fc 67px,#9fbeff 84px,#b6cefa 100px,#ccd9ed 117px,#dddcdc 133px,#ecd3c5 151px,#f5c4ac 172px,#f7ae91 200px,#f39475 236px,#f08a6c 253px,#ef896b 262px)"></i>
<i style="background:linear-gradient(90deg,#4359cc,#465dcf 10px,#506bda 22px,#6d90f2 48px,#87aafc 67px,#9fbeff 83px,#b6cefa 99px,#cdd9ed 116px,#dedcdb 132px,#ecd3c5 149px,#f5c4ac 170px,#f7af91 197px,#f39576 232px,#ef886b 252px,#ee8669 262px)"></i>
<i style="background:linear-gradient(90deg,#4459cc,#465ecf 10px,#506cda 22px,#6d8ff1 47px,#87aafc 66px,#9fbeff 82px,#b5cefa 97px,#ccd9ed 114px,#dddcdc 130px,#ecd3c5 147px,#f4c4ad 167px,#f7af92 194px,#f39577 228px,#ee8669 251px,#ee8468 262px)"></i>
<i style="background:linear-gradient(90deg,#445acc,#475ecf 10px,#516cdb 22px,#6d90f2 47px,#86a9fc 65px,#9ebeff 81px,#b5cefa 96px,#ccd9ed 113px,#dddcdc 128px,#ebd3c7 144px,#f4c5ae 164px,#f7b093 190px,#f39778 223px,#ee8468 250px,#ed8266 262px)"></i>
<i style="background:linear-gradient(90deg,#445acc,#475ed0 10px,#516ddb 22px,#6d8ff2 46px,#86a9fc 64px,#9ebeff 80px,#b5cefa 95px,#ccd9ee 111px,#ddd 126px,#ecd3c5 143px,#f5c4ac 163px,#f7af91 189px,#f39576 223px,#ed8266 250px,#ec8064 262px)"></i>
<i style="background:linear-gradient(90deg,#445acd,#475fd0 10px,#516ddb 22px,#6e90f2 46px,#87aafc 64px,#a0bfff 80px,#b7cff9 95px,#cdd9ec 111px,#dddcdc 125px,#ecd3c5 141px,#f5c4ac 161px,#f7ae91 187px,#f39576 220px,#ec8064 250px,#eb7d62 262px)"></i>
<i style="background:linear-gradient(90deg,#445bcd,#475fd0 10px,#526edc 22px,#6d8ff2 45px,#87aafc 63px,#9ebeff 78px,#b6cefa 93px,#cdd9ed 109px,#dddcdc 123px,#ecd3c6 139px,#f4c4ad 158px,#f7b092 183px,#f39677 215px,#eb7e62 249px,#ea7b60 262px)"></i>
<i style="background:linear-gradient(90deg,#455bcd,#485fd1 10px,#526edc 22px,#6e90f2 45px,#88abfd 63px,#a0bfff 78px,#b8cff9 93px,#cfdaeb 109px,#dedcdb 122px,#ecd3c6 137px,#f5c4ad 156px,#f7af91 181px,#f39577 213px,#ea7c61 248px,#e9795e 262px)"></i>
<i style="background:linear-gradient(90deg,#455bcd,#4860d1 10px,#536fdd 22px,#6d90f2 44px,#88abfd 62px,#a0bfff 77px,#b7cffa 91px,#cdd9ed 106px,#dddcdc 120px,#ecd2c4 136px,#f5c4ac 154px,#f7ae91 179px,#f39577 210px,#ea7a5f 247px,#e8765c 262px)"></i>
<i style="background:linear-gradient(90deg,#455cce,#4860d1 10px,#526edc 21px,#6e91f2 44px,#88abfc 61px,#a0bfff 76px,#b7cff9 90px,#cdd9ec 105px,#dddcdc 118px,#ebd3c6 133px,#f4c5ad 151px,#f7b092 175px,#f39778 205px,#ea7a60 243px,#e7745b 257px,#e7745a 262px)"></i>
<i style="background:linear-gradient(90deg,#455cce,#4861d2 10px,#526edc 21px,#6e90f2 43px,#87aafc 60px,#a0bfff 75px,#b7cff9 89px,#ced9ec 104px,#dedcdb 117px,#ecd2c4 132px,#f5c3ac 150px,#f7ae90 174px,#f39576 204px,#e9795e 242px,#e67259 256px,#e67259 262px)"></i>
<i style="background:linear-gradient(90deg,#465cce,#4961d2 10px,#536fdd 21px,#6d8ff2 42px,#89acfd 60px,#a0bfff 74px,#b8cff9 88px,#cedaeb 103px,#dddcdc 115px,#ebd3c6 129px,#f4c5ae 146px,#f7b093 169px,#f49779 198px,#ea7c61 234px,#e67158 252px,#e56f57 262px)"></i>
<i style="background:linear-gradient(90deg,#465dcf,#4961d2 10px,#536fdd 21px,#6e90f2 42px,#88abfd 59px,#a0c0ff 73px,#b6cffa 86px,#ccd9ed 100px,#dddcdc 113px,#ebd3c6 127px,#f4c5ae 144px,#f7b092 167px,#f39678 196px,#ea7c60 231px,#e46e56 252px,#e46d55 262px)"></i>
<i style="background:linear-gradient(90deg,#465dcf,#4961d2 9px,#516ddb 19px,#6e90f2 41px,#88abfd 58px,#a0c0ff 72px,#b7cff9 85px,#cdd9ec 99px,#dddcdd 111px,#ebd3c6 125px,#f4c4ad 142px,#f7b092 164px,#f49778 192px,#ea7c61 227px,#e36c55 251px,#e26a53 262px)"></i>
<i style="background:linear-gradient(90deg,#465ecf,#4961d2 9px,#526edc 19px,#6d8ff2 40px,#88abfd 57px,#a0bfff 71px,#b7cff9 84px,#ced9ec 98px,#dedcdb 110px,#ebd3c6 123px,#f4c4ad 140px,#f7af92 162px,#f49778 189px,#ea7c61 223px,#e26953 251px,#e16751 262px)"></i>
<i style="background:linear-gradient(90deg,#475ed0,#4962d3 9px,#526edc 19px,#6e90f2 40px,#89acfd 57px,#a0c0ff 70px,#b8cff9 83px,#cdd9ec 96px,#dddcdc 108px,#ebd3c6 121px,#f4c5ae 137px,#f7b193 158px,#f49879 185px,#eb7d62 218px,#e16751 250px,#e06550 262px)"></i>
<i style="background:linear-gradient(90deg,#475ed0,#4a62d3 9px,#536fdd 19px,#6d90f2 39px,#89acfd 56px,#a0c0ff 69px,#b6cefa 81px,#ccd9ed 94px,#dddcdd 106px,#ebd3c6 119px,#f4c5ae 135px,#f7b093 156px,#f49879 182px,#eb7d61 215px,#e06550 250px,#df624e 262px)"></i>
<i style="background:linear-gradient(90deg,#475fd0,#4a63d3 9px,#536fdd 19px,#6e91f2 39px,#89acfd 55px,#a0c0ff 68px,#b7cffa 80px,#cdd9ed 93px,#dedcdb 105px,#ecd3c5 118px,#f4c4ad 133px,#f7af92 154px,#f49879 179px,#eb7d62 211px,#df634e 249px,#dd604c 262px)"></i>
<i style="background:linear-gradient(90deg,#485fd1,#4a63d4 9px,#5470de 19px,#6f92f3 39px,#8aadfd 55px,#a2c1ff 68px,#b9d0f9 80px,#cfdaeb 93px,#dddcdc 103px,#ecd3c5 116px,#f4c4ad 131px,#f7b092 151px,#f49879 176px,#eb7e62 207px,#de614d 247px,#dc5d4a 262px)"></i>
<i style="background:linear-gradient(90deg,#4860d1,#4b64d4 9px,#5471de 19px,#6f91f2 38px,#8aadfd 54px,#a2c1ff 67px,#b9d0f8 79px,#d0daea 92px,#dedcdb 102px,#ecd3c5 114px,#f5c4ac 129px,#f7af92 149px,#f49879 173px,#eb7d62 204px,#dd604c 245px,#db5b49 259px,#da5b49 262px)"></i>
<i style="background:linear-gradient(90deg,#4860d1,#4b64d5 9px,#5571df 19px,#7092f3 38px,#89acfd 53px,#a0c0ff 65px,#b8cff9 77px,#cdd9ec 89px,#dedcdb 100px,#ecd3c5 112px,#f4c5ae 126px,#f7b093 145px,#f4997a 169px,#ec7f63 198px,#de624d 238px,#da5948 254px,#d95847 262px)"></i>
<i style="background:linear-gradient(90deg,#4961d2,#4b65d5 9px,#5572df 19px,#7193f4 38px,#8baefd 53px,#a2c1ff 65px,#b8d0f9 76px,#ced9ec 88px,#dddcdc 98px,#ecd3c5 110px,#f4c5ad 124px,#f7b093 143px,#f49879 167px,#eb7d62 197px,#de604d 236px,#d85746 253px,#d85546 262px)"></i>
<i style="background:linear-gradient(90deg,#4961d2,#4c65d6 9px,#5673e0 19px,#7294f4 38px,#8baefd 52px,#a2c1ff 64px,#b9d0f9 75px,#cfdaeb 87px,#dedcdb 97px,#ecd2c4 109px,#f5c3ab 123px,#f7ae90 142px,#f39677 166px,#ea7b60 196px,#dd5e4b 235px,#d75445 252px,#d65344 262px)"></i>
<i style="background:linear-gradient(90deg,#4962d2,#4c66d6 9px,#5673e0 19px,#7194f4 37px,#8caffe 52px,#a5c3fe 64px,#bbd1f8 75px,#d1dae9 87px,#dedcdb 95px,#ebd3c6 106px,#f4c4ad 120px,#f7b092 138px,#f4997a 160px,#ec7f63 188px,#df634e 225px,#d65243 251px,#d55042 262px)"></i>
<i style="background:linear-gradient(90deg,#4a62d3,#4d66d6 9px,#5672df 18px,#7193f3 36px,#8aadfd 50px,#a2c1ff 62px,#b9d0f8 73px,#d0daea 85px,#dddcdc 93px,#ebd3c6 104px,#f4c5ae 117px,#f7b093 135px,#f49a7b 156px,#ec8064 183px,#df644f 219px,#d55042 250px,#d34d41 262px)"></i>
<i style="background:linear-gradient(90deg,#4a63d3,#4d67d7 9px,#5673e0 18px,#7294f4 36px,#8baefd 50px,#a3c1ff 61px,#bad0f8 72px,#d1dae9 84px,#dedcdb 92px,#ecd2c4 103px,#f5c4ac 116px,#f7ae91 134px,#f49879 155px,#eb7e62 182px,#de624e 218px,#d34c40 251px,#d24a3f 262px)"></i>
<i style="background:linear-gradient(90deg,#4a63d4,#4d68d7 9px,#5774e1 18px,#7395f5 36px,#8db0fe 50px,#a5c3fe 61px,#bad1f8 71px,#d0daea 82px,#dddcdc 90px,#ebd3c7 100px,#f4c6af 112px,#f7b396 128px,#f59c7d 148px,#ed8367 173px,#e16852 206px,#d24b3f 249px,#d0483e 262px)"></i>
<i style="background:linear-gradient(90deg,#4b64d4,#4e68d8 9px,#5775e1 18px,#7497f5 36px,#8daffe 49px,#a5c3fe 60px,#bbd1f8 70px,#d1dae9 81px,#dedcda 89px,#ecd3c5 99px,#f4c5ad 111px,#f7b092 128px,#f4997a 148px,#ec8064 173px,#e0644f 207px,#d0483e 249px,#cf453c 262px)"></i>
<i style="background:linear-gradient(90deg,#4b64d5,#4e69d8 9px,#5875e2 18px,#7598f6 36px,#8eb1fe 49px,#a4c3fe 59px,#bbd1f8 69px,#d0daea 79px,#dedcdb 87px,#ecd3c5 97px,#f4c4ad 109px,#f7b093 125px,#f4997a 145px,#ec8064 170px,#e0644f 203px,#cf463d 247px,#cd423b 262px)"></i>
<i style="background:linear-gradient(90deg,#4b65d5,#4f69d9 9px,#5876e2 18px,#7699f6 36px,#90b2fe 49px,#a7c4fe 59px,#bdd2f6 69px,#d2dbe8 79px,#dfdcda 86px,#ecd2c4 96px,#f4c4ad 107px,#f7b092 123px,#f4997a 142px,#ec8064 167px,#df644f 200px,#cf443c 245px,#cc4039 259px,#cc4039 262px)"></i>
<i style="background:linear-gradient(90deg,#4c65d5,#4f6ad9 9px,#5977e3 18px,#7598f6 35px,#8eb0fe 47px,#a5c3fe 57px,#bcd1f7 67px,#d1dae9 77px,#dedcdb 84px,#ecd2c4 94px,#f5c3ab 106px,#f7ae90 122px,#f49778 141px,#eb7e63 165px,#df634e 198px,#cd423b 244px,#cb3d38 259px,#ca3d38 262px)"></i>
<i style="background:linear-gradient(90deg,#4c65d6,#4f69d9 8px,#5774e1 16px,#6f91f3 31px,#89acfd 44px,#a0bfff 54px,#b8cff9 64px,#ced9ec 74px,#dddcdd 82px,#ecd3c5 92px,#f4c5ad 103px,#f7b093 118px,#f59b7c 135px,#ed8266 158px,#e16751 189px,#d0473e 232px,#ca3b37 253px,#c93a37 262px)"></i>
<i style="background:linear-gradient(90deg,#4c66d6,#4f6ad9 8px,#5775e1 16px,#7093f3 31px,#89acfd 43px,#a0c0ff 53px,#b8cff9 63px,#ccd9ed 72px,#dddcdc 81px,#ebd3c6 90px,#f4c5ae 101px,#f7b093 116px,#f49a7b 133px,#ed8266 155px,#e16852 184px,#d1493f 225px,#c83836 253px,#c73735 262px)"></i>
<i style="background:linear-gradient(90deg,#4d66d6,#4f6ad9 8px,#5775e1 16px,#6d90f2 29px,#89acfd 42px,#a1c0ff 52px,#b6cefa 61px,#cbd8ee 70px,#dcdcdd 79px,#ecd3c5 89px,#f5c4ac 100px,#f7b092 114px,#f49a7b 131px,#ed8266 152px,#e16852 181px,#d1493f 221px,#c73535 252px,#c63334 262px)"></i>
<i style="background:linear-gradient(90deg,#4d67d7,#506bda 8px,#5875e2 16px,#6c8ef1 28px,#86a9fc 40px,#9fbeff 50px,#b5cdfa 59px,#cbd9ee 69px,#dddcdc 78px,#ebd3c6 87px,#f4c4ad 98px,#f7b093 112px,#f4997b 129px,#ec8165 151px,#e06650 180px,#d0473e 220px,#c53233 251px,#c43033 262px)"></i>
<i style="background:linear-gradient(90deg,#4d67d7,#506bda 8px,#5876e2 16px,#6d8ff1 28px,#86a9fc 39px,#9dbdff 48px,#b3cdfb 57px,#cad8ee 67px,#dcdcdd 76px,#ebd4c7 85px,#f4c6b0 95px,#f7b396 108px,#f59c7d 125px,#ee8467 145px,#e26953 173px,#d24b40 211px,#c42f32 251px,#c32d31 262px)"></i>
<i style="background:linear-gradient(90deg,#4d67d7,#506bda 8px,#5876e2 16px,#6a8bef 26px,#83a6fb 37px,#9bbbff 46px,#b2ccfb 55px,#c9d8ef 65px,#dbdcde 74px,#ead4c8 83px,#f3c7b1 93px,#f7b497 106px,#f59d7e 122px,#ee8568 142px,#e26a53 169px,#d34c40 206px,#c22d31 250px,#c12a30 262px)"></i>
<i style="background:linear-gradient(90deg,#4d68d7,#506cda 8px,#5977e2 16px,#6a8cf0 26px,#83a6fb 36px,#99baff 44px,#b1cbfc 53px,#c8d7f0 63px,#dcdcdd 73px,#ecd2c4 83px,#f5c3ab 94px,#f7ae90 108px,#f39678 125px,#eb7e62 146px,#df634f 174px,#cf443c 213px,#c12a30 250px,#bf262f 262px)"></i>
<i style="background:linear-gradient(90deg,#4e68d8,#516cdb 8px,#5977e3 16px,#698aef 25px,#7fa2fa 34px,#96b8ff 42px,#adc8fd 50px,#c3d5f3 59px,#d8dce2 69px,#dfdbd9 73px,#eed0c1 83px,#f5c1a8 94px,#f7aa8c 109px,#f29374 126px,#e9795f 148px,#dc5d4b 178px,#ca3c38 220px,#be232e 254px,#be212d 262px)"></i>
<i style="background:linear-gradient(90deg,#4e68d8,#516cdb 8px,#5977e3 16px,#698aef 25px,#80a3fa 34px,#96b7ff 41px,#adc9fd 49px,#c4d6f3 58px,#d9dce1 68px,#e0dbd8 72px,#edd1c2 81px,#f5c1a9 92px,#f7ab8d 107px,#f29374 124px,#ea7a5f 145px,#dd5f4b 174px,#cb3e39 214px,#be242e 247px,#bc1d2c 257px,#bc1d2c 262px)"></i>
<i style="background:linear-gradient(90deg,#4e68d8,#516cdb 8px,#5977e3 16px,#698bef 25px,#7fa2fa 33px,#95b7ff 40px,#abc7fd 47px,#c1d4f5 55px,#d4dbe6 64px,#dedcdb 69px,#ecd3c5 78px,#f4c5ae 88px,#f7b194 101px,#f49a7b 117px,#ed8266 136px,#e16751 162px,#d1483e 198px,#bf262e 241px,#bc1b2c 252px,#bb182b 262px)"></i>
<i style="background:linear-gradient(90deg,#4e68d8,#516cdb 8px,#5977e3 16px,#6789ee 24px,#799df8 31px,#91b3fe 38px,#a8c5fe 45px,#bfd3f6 53px,#d3dbe7 62px,#dedcda 68px,#ecd2c4 77px,#f5c3ab 88px,#f7ae90 102px,#f39778 118px,#ec7f63 137px,#df644f 163px,#cf443c 200px,#bf252e 238px,#ba172b 251px,#b9142a 262px)"></i>
<i style="background:linear-gradient(90deg,#4e69d8,#516ddb 8px,#5978e3 16px,#6889ee 24px,#7a9df8 31px,#93b4fe 38px,#abc7fd 45px,#c2d5f4 53px,#d6dce4 62px,#dddcdc 66px,#ebd3c6 75px,#f5c4ad 86px,#f7af91 100px,#f49779 116px,#ec7f63 135px,#df644f 161px,#ce443c 198px,#bf252e 235px,#b9142a 250px,#b81029 262px)"></i>
<i style="background:linear-gradient(90deg,#4e69d8,#516ddb 8px,#5a78e3 16px,#6889ee 24px,#7b9ef8 31px,#94b6ff 38px,#aac7fd 44px,#bfd3f5 51px,#d4dbe6 60px,#dedcdb 65px,#ecd3c5 74px,#f5c4ac 85px,#f7af91 99px,#f49778 115px,#ec8064 133px,#e0654f 159px,#cf453c 195px,#bf262e 232px,#b8122a 249px,#b70d28 259px,#b70d28 262px)"></i>
<i style="background:linear-gradient(90deg,#4e69d8,#516ddb 8px,#5a78e3 16px,#6889ee 24px,#7c9ff9 31px,#96b7ff 38px,#acc8fd 44px,#c1d4f4 51px,#d4dbe6 59px,#dedcdb 64px,#ecd3c5 73px,#f5c4ac 84px,#f7af91 98px,#f39677 115px,#eb7e62 134px,#df624e 160px,#ce433b 196px,#bf252e 230px,#b81029 248px,#b60a28 258px,#b60a28 262px)"></i>
<i style="background:linear-gradient(90deg,#4e69d8,#516ddb 8px,#5a78e3 16px,#688aee 24px,#7c9ff9 31px,#93b5fe 37px,#aac6fd 43px,#bdd2f6 49px,#d2dae8 57px,#dddcdc 63px,#ead4c8 71px,#f3c7b1 81px,#f7b397 94px,#f49a7b 111px,#ed8266 129px,#e16751 154px,#d0473d 189px,#bf262e 228px,#b70d29 248px,#b50827 258px,#b50727 262px)"></i>
<i style="background:linear-gradient(90deg,#4e69d8,#526ddb 8px,#5a78e3 16px,#688aef 24px,#799df8 30px,#93b5fe 37px,#abc7fd 43px,#bfd3f6 49px,#d3dbe7 57px,#dddcdc 62px,#ebd3c6 71px,#f4c4ad 82px,#f7af92 96px,#f39678 113px,#eb7e62 132px,#de624e 158px,#cd423b 194px,#bf262e 226px,#b60b28 248px,#b50627 258px,#b40527 262px)"></i>
<i style="background:linear-gradient(90deg,#4e69d8,#526ddc 8px,#5a78e3 16px,#698aef 24px,#7a9df8 30px,#94b6ff 37px,#acc8fd 43px,#c0d3f5 49px,#d4dbe6 57px,#dedcdb 62px,#ebd4c7 70px,#f4c5ae 81px,#f7b093 95px,#f39577 113px,#eb7d61 132px,#de614d 158px,#cd413a 194px,#bf262e 225px,#b60a28 248px,#b40426 258px,#b40426 262px)"></i>
<i style="background:linear-gradient(90deg,#4f69d8,#526ddc 8px,#5a78e3 16px,#698aef 24px,#7a9df8 30px,#95b6ff 37px,#adc8fd 43px,#c0d4f5 49px,#d5dbe6 57px,#dedcda 62px,#ebd3c6 70px,#f4c4ad 81px,#f7af92 95px,#f39576 113px,#eb7c61 132px,#de614d 158px,#cc4039 195px,#bf252e 225px,#b60927 248px,#b40426 257px,#b40426 262px)"></i>
<i style="background:linear-gradient(90deg,#4f69d9,#526ddc 8px,#5a78e3 16px,#698aef 24px,#7a9df8 30px,#95b6ff 37px,#adc9fd 43px,#c1d4f5 49px,#d5dbe5 57px,#dfdcda 62px,#ecd3c5 70px,#f5c4ad 81px,#f7af91 95px,#f39576 113px,#ea7c61 132px,#de604d 158px,#cc3f39 195px,#bf262e 224px,#b50827 248px,#b40426 255px,#b40426 262px)"></i>
<i style="height:1px;background:linear-gradient(90deg,#4f69d9,#526ddc 8px,#5a78e3 16px,#698aef 24px,#7a9df8 30px,#95b7ff 37px,#adc9fd 43px,#c1d4f5 49px,#d5dbe5 57px,#dfdbd9 62px,#ecd3c5 70px,#f5c4ac 81px,#f7af91 95px,#f39476 113px,#ea7c61 132px,#de604d 158px,#cc3f39 195px,#bf252e 224px,#b50827 248px,#b40426 255px,#b40426 262px)"></i>
</div>
<div class="hm" style="left:384px;top:704px;width:263px;height:248px">
<i style="background:linear-gradient(90deg,#3b4cc0,#3c4fc2 10px,#4860d1 30px,#6282ea 66px,#7b9ef9 98px,#94b6ff 128px,#acc8fd 158px,#c3d5f3 190px,#d8dce2 225px,#dfdbd9 238px,#e6d8d0 254px,#e7d7ce 263px)"></i>
<i style="background:linear-gradient(90deg,#3b4cc0,#3c4fc2 10px,#4860d1 30px,#6282ea 66px,#7b9ff9 98px,#94b6ff 128px,#acc8fd 158px,#c3d5f3 190px,#d8dce1 225px,#dfdbd9 238px,#e6d8d0 254px,#e7d7ce 263px)"></i>
<i style="background:linear-gradient(90deg,#3b4cc0,#3c4fc2 10px,#4860d1 30px,#6282ea 66px,#7b9ff9 98px,#94b6ff 128px,#acc8fd 158px,#c3d5f3 190px,#d9dce1 225px,#dfdbd9 238px,#e6d8cf 254px,#e7d7ce 263px)"></i>
<i style="background:linear-gradient(90deg,#3b4cc0,#3d4fc3 11px,#5774e1 51px,#6f92f3 83px,#88abfd 113px,#a0bfff 142px,#b8cff9 173px,#cfdaeb 207px,#dedcdb 235px,#e6d8d0 253px,#e7d7ce 263px)"></i>
<i style="background:linear-gradient(90deg,#3b4cc0,#3d4fc3 11px,#5774e1 51px,#6f92f3 83px,#88abfd 113px,#a0bfff 142px,#b7cff9 172px,#ced9ec 205px,#dedcdb 234px,#e6d7cf 253px,#e7d7cd 263px)"></i>
<i style="background:linear-gradient(90deg,#3b4cc0,#3d4fc3 11px,#5775e1 51px,#7092f3 83px,#88abfd 113px,#a0bfff 142px,#b7cff9 172px,#ced9ec 205px,#dedcdb 234px,#e6d7cf 253px,#e7d6cd 263px)"></i>
<i style="background:linear-gradient(90deg,#3b4cc0,#3d4fc3 11px,#5775e1 51px,#7092f3 83px,#88abfd 113px,#a0c0ff 142px,#b8cff9 172px,#ced9eb 205px,#dedcdb 233px,#e7d7ce 253px,#e8d6cc 263px)"></i>
<i style="background:linear-gradient(90deg,#3b4cc0,#3d50c3 11px,#5775e1 51px,#7093f3 83px,#89acfd 113px,#a1c0ff 142px,#b8d0f9 172px,#cfdaeb 205px,#dedcdb 232px,#e7d7ce 252px,#e8d6cc 263px)"></i>
<i style="background:linear-gradient(90deg,#3b4cc0,#3d50c4 12px,#5b79e4 55px,#7496f5 87px,#8caefe 116px,#a4c2fe 145px,#bbd1f8 175px,#d2dae8 209px,#dedcdb 232px,#e7d7cd 252px,#e9d6cb 263px)"></i>
<i style="background:linear-gradient(90deg,#3b4cc0,#3d50c4 12px,#5b79e4 55px,#7497f5 87px,#8caffe 116px,#a4c3fe 145px,#bcd1f7 175px,#d2dbe8 209px,#dedcdb 231px,#e8d6cc 252px,#e9d5ca 263px)"></i>
<i style="background:linear-gradient(90deg,#3b4cc0,#3e51c4 12px,#5a79e4 54px,#7396f5 86px,#8caefe 115px,#a4c2fe 144px,#bbd1f7 174px,#d2dbe8 208px,#dedcda 230px,#e8d6cc 251px,#ead5c9 263px)"></i>
<i style="background:linear-gradient(90deg,#3b4dc1,#3e51c4 12px,#5a79e4 54px,#7497f5 86px,#8caffe 115px,#a4c2fe 143px,#bbd1f7 173px,#d2dbe8 207px,#dedcdb 228px,#e9d5cb 251px,#ead4c8 263px)"></i>
<i style="background:linear-gradient(90deg,#3b4dc1,#3e51c4 12px,#5b79e4 54px,#7497f5 86px,#8daffe 115px,#a4c3fe 143px,#bcd2f7 173px,#d2dbe8 206px,#dedcdb 227px,#e9d5ca 251px,#ebd4c7 263px)"></i>
<i style="background:linear-gradient(90deg,#3b4dc1,#3e51c5 12px,#5b79e4 54px,#7598f6 86px,#8db0fe 115px,#a5c3fe 143px,#bdd2f7 173px,#d3dbe7 206px,#dedcdb 226px,#ead5c9 251px,#ebd3c6 263px)"></i>
<i style="background:linear-gradient(90deg,#3b4dc1,#3e51c5 12px,#5b7ae5 54px,#7497f5 85px,#8db0fe 114px,#a5c3fe 142px,#bdd2f7 172px,#d3dbe8 204px,#dedcda 225px,#ead4c8 251px,#ecd3c5 263px)"></i>
<i style="background:linear-gradient(90deg,#3b4dc1,#3e51c5 12px,#5b7ae5 54px,#7597f6 85px,#8daffe 113px,#a5c3fe 141px,#bcd2f7 170px,#d3dbe7 203px,#dedcdb 223px,#ebd4c7 250px,#ecd2c4 263px)"></i>
<i style="background:linear-gradient(90deg,#3b4dc1,#3e52c5 12px,#5b79e4 53px,#7497f5 84px,#8caffe 112px,#a4c3fe 140px,#bcd1f7 169px,#d2dbe8 201px,#dedcdb 222px,#ebd3c6 250px,#edd2c3 263px)"></i>
<i style="background:linear-gradient(90deg,#3b4dc1,#3e52c5 12px,#5b7ae5 53px,#7597f6 84px,#8daffe 112px,#a4c3fe 139px,#bcd1f7 168px,#d2dbe8 200px,#dedcda 221px,#ecd3c5 250px,#edd1c2 263px)"></i>
<i style="background:linear-gradient(90deg,#3c4ec1,#3e51c5 11px,#5470de 43px,#6c8ff1 74px,#85a8fc 102px,#9cbcff 129px,#b5cdfa 158px,#ccd9ed 189px,#dddcdc 218px,#ecd3c5 248px,#eed0c1 261px,#eed0c1 263px)"></i>
<i style="background:linear-gradient(90deg,#3c4ec2,#3e51c5 11px,#5470de 43px,#6d8ff1 74px,#85a8fc 102px,#9dbdff 129px,#b5cdfa 157px,#ccd9ed 188px,#dddcdc 217px,#ecd3c5 247px,#eed0c0 260px,#eed0c0 263px)"></i>
<i style="background:linear-gradient(90deg,#3c4ec2,#3e52c5 11px,#5471de 43px,#6d8ff2 74px,#85a9fc 102px,#9dbdff 129px,#b5cefa 157px,#cdd9ed 188px,#dedcdb 216px,#ecd2c4 246px,#efcfbf 259px,#efcfbe 263px)"></i>
<i style="background:linear-gradient(90deg,#3c4ec2,#3e52c5 11px,#5470de 42px,#6d8ff1 73px,#85a8fc 101px,#9dbdff 128px,#b5cefa 156px,#ccd9ed 186px,#dddcdc 214px,#ecd2c4 245px,#efcfbe 258px,#efcebd 263px)"></i>
<i style="background:linear-gradient(90deg,#3c4ec2,#3e52c5 11px,#5470de 42px,#6d8ff2 73px,#86a9fc 101px,#9ebeff 128px,#b5cefa 155px,#ccd9ed 185px,#dddcdc 213px,#ecd2c4 243px,#efcebd 256px,#f0cebc 263px)"></i>
<i style="background:linear-gradient(90deg,#3c4ec2,#3f52c5 11px,#5471de 42px,#6d90f2 73px,#86a9fc 101px,#9ebeff 128px,#b6cefa 155px,#cdd9ed 185px,#dddcdc 212px,#ecd2c4 242px,#f0cebc 256px,#f0cdbb 263px)"></i>
<i style="background:linear-gradient(90deg,#3c4fc2,#3f52c6 11px,#536fdd 40px,#6c8ef1 71px,#84a7fc 98px,#9cbcff 124px,#b4cdfa 152px,#cbd9ee 182px,#dddcdc 210px,#ecd2c4 240px,#f0cdbb 254px,#f1cdba 263px)"></i>
<i style="background:linear-gradient(90deg,#3c4fc2,#3f52c6 11px,#536fdd 40px,#6c8ef1 71px,#85a8fc 99px,#9dbdff 125px,#b5cdfa 152px,#ccd9ed 182px,#dddcdc 209px,#ecd2c4 239px,#f0cdba 254px,#f1ccb9 263px)"></i>
<i style="background:linear-gradient(90deg,#3c4fc3,#3f53c6 11px,#536fdd 40px,#6d8ff1 71px,#85a8fc 98px,#9dbdff 124px,#b5cdfa 151px,#ccd9ed 181px,#dddcdc 208px,#ecd2c4 237px,#f1ccb9 253px,#f1cbb7 263px)"></i>
<i style="background:linear-gradient(90deg,#3d4fc3,#3f53c6 11px,#5370dd 40px,#6c8ef1 70px,#85a8fc 97px,#9dbdff 123px,#b5cdfa 150px,#cbd9ee 179px,#dddcdc 207px,#ecd2c4 236px,#f1cbb8 253px,#f2cab6 263px)"></i>
<i style="background:linear-gradient(90deg,#3d4fc3,#3f53c6 11px,#526edc 38px,#6c8ef1 69px,#84a7fc 96px,#9bbcff 121px,#b4cdfb 148px,#cbd8ee 177px,#dddcdc 205px,#ecd2c5 234px,#f1cbb7 252px,#f2c9b5 263px)"></i>
<i style="background:linear-gradient(90deg,#3d4fc3,#3f53c6 11px,#526edc 38px,#6c8ef1 69px,#85a8fc 96px,#9cbcff 121px,#b4cdfa 148px,#ccd9ee 177px,#dddcdc 204px,#ecd2c4 233px,#f2cab6 252px,#f2c9b4 263px)"></i>
<i style="background:linear-gradient(90deg,#3d50c3,#3f53c6 11px,#536fdd 38px,#6c8ff1 69px,#85a8fc 96px,#9dbdff 121px,#b5cefa 148px,#ccd9ed 177px,#dddcdc 203px,#ecd3c5 231px,#f2c9b5 252px,#f3c8b3 263px)"></i>
<i style="background:linear-gradient(90deg,#3d50c3,#4054c7 11px,#536fdd 38px,#6c8ef1 68px,#85a8fc 95px,#9cbdff 120px,#b4cdfa 146px,#ccd9ee 175px,#dddcdc 202px,#ecd2c4 230px,#f3c9b4 252px,#f3c7b1 263px)"></i>
<i style="background:linear-gradient(90deg,#3d50c3,#4054c7 11px,#536fdd 38px,#6c8ef1 68px,#85a8fc 95px,#9dbdff 120px,#b5cefa 146px,#ccd9ee 174px,#dedcdb 201px,#ecd2c4 229px,#f3c8b2 252px,#f4c6b0 263px)"></i>
<i style="background:linear-gradient(90deg,#3d50c4,#4054c7 11px,#536fdd 38px,#6d8ff1 68px,#86a9fc 95px,#9fbeff 121px,#b6cffa 147px,#cdd9ec 175px,#dedcdb 200px,#ecd2c4 228px,#f3c7b2 251px,#f4c5af 263px)"></i>
<i style="background:linear-gradient(90deg,#3d50c4,#4054c7 11px,#536fdd 37px,#6c8ef1 67px,#84a8fc 93px,#9cbdff 118px,#b5cdfa 144px,#ccd9ed 172px,#dddcdc 198px,#ecd3c5 225px,#f4c6b0 251px,#f4c5ad 263px)"></i>
<i style="background:linear-gradient(90deg,#3d50c4,#4054c7 11px,#536fdd 37px,#6d8ff1 67px,#85a8fc 93px,#9dbdff 118px,#b5cefa 144px,#cdd9ed 172px,#dddcdc 197px,#ecd2c4 224px,#f4c6af 251px,#f5c4ac 263px)"></i>
<i style="background:linear-gradient(90deg,#3e51c4,#4054c7 11px,#536fdd 37px,#6d8ff1 67px,#85a9fc 93px,#9ebeff 118px,#b5cefa 143px,#cdd9ed 171px,#dedcdb 196px,#ecd2c4 223px,#f4c5ae 251px,#f5c3ab 263px)"></i>
<i style="background:linear-gradient(90deg,#3e51c4,#4055c8 11px,#526ddc 35px,#6c8ff1 66px,#85a8fc 92px,#9ebdff 117px,#b5cefa 142px,#ccd9ed 169px,#dddcdc 194px,#ecd2c5 221px,#f5c4ac 251px,#f5c2a9 263px)"></i>
<i style="background:linear-gradient(90deg,#3e51c4,#4055c8 11px,#526edc 35px,#6c8ef1 65px,#85a8fc 91px,#9cbcff 115px,#b4cdfa 140px,#cbd8ee 167px,#dddcdc 193px,#ecd2c4 220px,#f5c3ac 250px,#f5c1a8 263px)"></i>
<i style="background:linear-gradient(90deg,#3e51c5,#4155c8 11px,#526edc 35px,#6c8ef1 65px,#85a8fc 91px,#9dbdff 115px,#b5cefa 140px,#ccd9ed 167px,#dddcdc 192px,#ecd2c4 219px,#f5c3ab 249px,#f6c0a7 263px)"></i>
<i style="background:linear-gradient(90deg,#3e51c5,#4155c8 11px,#526ddc 34px,#6c8ef1 64px,#84a7fc 89px,#9cbcff 113px,#b4cdfa 138px,#cbd9ee 165px,#dddcdc 190px,#ecd3c5 216px,#f5c3ab 246px,#f6bfa6 258px,#f6bfa5 263px)"></i>
<i style="background:linear-gradient(90deg,#3e51c5,#4155c8 11px,#526ddc 34px,#6c8ef1 64px,#84a8fc 89px,#9cbdff 113px,#b5cdfa 138px,#cbd9ee 164px,#dddcdc 189px,#ecd3c5 215px,#f5c3ab 245px,#f6bea5 257px,#f6bea4 263px)"></i>
<i style="background:linear-gradient(90deg,#3e52c5,#4156c9 11px,#526edc 34px,#6c8ef1 63px,#84a7fc 88px,#9cbcff 112px,#b5cdfa 137px,#cbd9ee 163px,#dddcdc 188px,#ecd2c4 214px,#f5c3ab 243px,#f6bda3 256px,#f6bda3 263px)"></i>
<i style="background:linear-gradient(90deg,#3e52c5,#4156c9 11px,#516cdb 32px,#6b8df0 62px,#83a7fb 87px,#9bbbff 110px,#b3ccfb 134px,#cad8ef 160px,#dddcdd 186px,#ecd3c5 212px,#f5c3aa 242px,#f6bda2 255px,#f7bca1 263px)"></i>
<i style="background:linear-gradient(90deg,#3f52c5,#4156c9 11px,#516cdb 32px,#6b8df1 62px,#84a7fc 87px,#9bbcff 110px,#b3cdfb 134px,#cbd8ee 160px,#dddcdc 185px,#ecd2c4 211px,#f5c3ab 240px,#f7bca1 254px,#f7bba0 263px)"></i>
<i style="background:linear-gradient(90deg,#3f52c6,#4156c9 11px,#516cdb 32px,#6c8ef1 62px,#85a8fc 87px,#9cbcff 110px,#b4cdfa 134px,#ccd9ee 160px,#dddcdc 184px,#ecd2c4 210px,#f5c2aa 239px,#f7bba0 253px,#f7ba9e 263px)"></i>
<i style="background:linear-gradient(90deg,#3f52c6,#4156c9 11px,#516ddb 32px,#6c8ef1 62px,#85a8fc 87px,#9dbdff 110px,#b5cefa 134px,#ccd9ee 159px,#dddcdc 183px,#ecd2c5 208px,#f5c3ab 237px,#f7ba9f 253px,#f7b89d 263px)"></i>
<i style="background:linear-gradient(90deg,#3f53c6,#4257c9 11px,#526ddb 32px,#6d8ff1 62px,#86a9fc 87px,#9ebeff 110px,#b5cefa 133px,#ccd9ee 158px,#dddcdc 182px,#ecd2c4 207px,#f5c3ab 235px,#f7b99e 252px,#f7b79b 263px)"></i>
<i style="background:linear-gradient(90deg,#3f53c6,#4257ca 11px,#506bda 30px,#6b8df0 60px,#84a7fc 85px,#9cbdff 108px,#b4cdfa 131px,#cbd8ee 156px,#dddcdc 180px,#ecd2c5 205px,#f5c3ab 233px,#f7b89c 252px,#f7b69a 263px)"></i>
<i style="background:linear-gradient(90deg,#3f53c6,#4257ca 11px,#506bda 30px,#6b8df1 60px,#84a7fc 84px,#9cbcff 107px,#b4cdfb 130px,#cbd8ee 155px,#dddcdc 179px,#ecd2c4 204px,#f5c3ab 232px,#f7b79b 251px,#f7b598 263px)"></i>
<i style="background:linear-gradient(90deg,#3f53c6,#4257ca 11px,#516cdb 30px,#6c8ef1 60px,#84a8fc 84px,#9dbdff 107px,#b5cdfa 130px,#ccd9ed 155px,#dddcdc 178px,#ecd3c5 202px,#f5c3ab 230px,#f7b69a 251px,#f7b497 263px)"></i>
<i style="background:linear-gradient(90deg,#3f53c7,#4258ca 11px,#516cdb 30px,#6b8df1 59px,#84a7fc 83px,#9bbcff 105px,#b3cdfb 128px,#cbd8ee 153px,#dddcdd 176px,#ecd2c4 201px,#f5c3ab 228px,#f7b598 251px,#f7b295 263px)"></i>
<i style="background:linear-gradient(90deg,#4054c7,#4258ca 11px,#516cdb 30px,#6c8ef1 59px,#84a8fc 83px,#9cbcff 105px,#b4cdfa 128px,#cbd8ee 152px,#dddcdc 175px,#ecd3c5 199px,#f5c3ab 226px,#f7b397 251px,#f7b194 263px)"></i>
<i style="background:linear-gradient(90deg,#4054c7,#4358cb 11px,#506cda 29px,#6b8df0 58px,#84a7fc 82px,#9cbcff 104px,#b4cdfa 127px,#cbd8ee 151px,#dddcdc 174px,#ecd2c4 198px,#f5c3ab 225px,#f7b396 250px,#f7b092 263px)"></i>
<i style="background:linear-gradient(90deg,#4054c7,#4358cb 11px,#516cdb 29px,#6c8ef1 58px,#85a8fc 82px,#9dbdff 104px,#b4cdfa 126px,#cbd8ee 150px,#dddcdc 173px,#ecd3c5 196px,#f5c3ab 223px,#f7b194 250px,#f7ae91 263px)"></i>
<i style="background:linear-gradient(90deg,#4054c7,#4358cb 11px,#516cdb 29px,#6c8ef1 58px,#85a8fc 82px,#9dbdff 104px,#b5cefa 126px,#ccd9ed 150px,#dddcdc 172px,#ecd2c5 195px,#f5c3ab 221px,#f7b093 250px,#f7ad8f 263px)"></i>
<i style="background:linear-gradient(90deg,#4054c7,#4359cb 11px,#516cdb 29px,#6b8df1 57px,#84a7fc 80px,#9bbbff 101px,#b3ccfb 123px,#cad8ef 147px,#dddcdc 170px,#ecd3c5 193px,#f5c3ac 219px,#f7af91 250px,#f7ac8e 263px)"></i>
<i style="background:linear-gradient(90deg,#4055c8,#4359cb 11px,#516ddb 29px,#6c8ef1 57px,#84a7fc 80px,#9cbcff 101px,#b4cdfb 123px,#cbd9ee 147px,#dddcdc 169px,#ecd2c5 192px,#f5c3ab 218px,#f7ad8f 250px,#f7aa8c 263px)"></i>
<i style="background:linear-gradient(90deg,#4055c8,#4359cc 11px,#526ddc 29px,#6c8ef1 57px,#85a8fc 80px,#9cbdff 101px,#b5cdfa 123px,#cbd9ee 146px,#dddcdc 168px,#ecd2c4 191px,#f5c3aa 217px,#f7ad8f 248px,#f7a98a 261px,#f7a98a 263px)"></i>
<i style="background:linear-gradient(90deg,#4155c8,#4359cc 11px,#516cdb 28px,#6c8ef1 56px,#84a8fc 79px,#9cbcff 100px,#b4cdfa 122px,#cbd9ee 145px,#dddcdc 167px,#ecd2c5 189px,#f5c3ab 215px,#f7ad8f 246px,#f7a889 258px,#f7a789 263px)"></i>
<i style="background:linear-gradient(90deg,#4155c8,#445acc 11px,#506bda 27px,#6c8ef1 56px,#85a8fc 79px,#9dbdff 100px,#b4cdfa 121px,#cbd9ee 144px,#dddcdc 165px,#ecd3c5 187px,#f5c4ac 212px,#f7ae91 242px,#f7a788 255px,#f6a687 263px)"></i>
<i style="background:linear-gradient(90deg,#4155c8,#445acc 11px,#516cda 27px,#6c8ef1 55px,#83a7fb 77px,#9bbcff 98px,#b3ccfb 119px,#cbd8ee 142px,#dddcdc 164px,#ecd3c5 186px,#f5c3ab 211px,#f7ad90 241px,#f6a687 254px,#f6a486 263px)"></i>
<i style="background:linear-gradient(90deg,#4156c9,#445acc 11px,#516cdb 27px,#6c8ef1 55px,#85a8fc 78px,#9dbdff 99px,#b5cefa 120px,#ccd9ee 142px,#dddcdc 163px,#ecd2c4 185px,#f5c3ab 210px,#f7ad8f 240px,#f6a485 254px,#f6a384 263px)"></i>
<i style="background:linear-gradient(90deg,#4156c9,#445acc 10px,#4d67d7 23px,#698bef 52px,#82a6fb 75px,#9bbbff 96px,#b2ccfb 116px,#c9d7f0 138px,#dcddde 160px,#ecd3c5 183px,#f5c3ab 208px,#f7ad8f 238px,#f6a384 253px,#f6a182 263px)"></i>
<i style="background:linear-gradient(90deg,#4156c9,#445acc 10px,#4e68d8 23px,#6a8bef 52px,#83a6fb 75px,#9abbff 95px,#b1cbfb 115px,#c9d7f0 137px,#dcdddd 159px,#ecd3c5 181px,#f5c4ac 205px,#f7af91 234px,#f6a283 252px,#f59f81 263px)"></i>
<i style="background:linear-gradient(90deg,#4156c9,#445acc 10px,#4e68d8 23px,#6a8cf0 52px,#83a6fb 74px,#9bbcff 95px,#b2ccfb 115px,#cad8ef 137px,#dcdddd 158px,#ecd3c5 180px,#f5c3ac 204px,#f7ae90 233px,#f6a182 251px,#f59e7f 263px)"></i>
<i style="background:linear-gradient(90deg,#4257c9,#445acd 10px,#4e68d8 23px,#6b8cf0 52px,#83a6fb 74px,#9bbbff 94px,#b2ccfb 114px,#cad8ef 136px,#ddd 157px,#ecd3c6 178px,#f5c4ac 202px,#f7ae90 231px,#f59f80 251px,#f59c7d 263px)"></i>
<i style="background:linear-gradient(90deg,#4257ca,#445bcd 10px,#4e69d8 23px,#6a8cf0 51px,#83a6fb 73px,#9abbff 93px,#b2ccfb 113px,#c9d8ef 134px,#dcddde 155px,#ecd3c5 177px,#f5c3ab 201px,#f7ad8f 230px,#f59d7e 251px,#f49a7c 263px)"></i>
<i style="background:linear-gradient(90deg,#4257ca,#445bcd 10px,#4f69d8 23px,#6b8df1 52px,#85a8fc 74px,#9dbdff 94px,#b4cdfa 114px,#cbd8ee 135px,#dddcdc 155px,#ecd2c5 176px,#f5c3aa 200px,#f7ad8f 228px,#f59c7d 251px,#f4997a 263px)"></i>
<i style="background:linear-gradient(90deg,#4257ca,#455bcd 10px,#4f69d9 23px,#6b8df0 51px,#83a6fb 72px,#9bbbff 92px,#b2ccfb 111px,#c9d8ef 132px,#dcdddd 153px,#ecd3c5 174px,#f5c4ac 197px,#f7ae90 225px,#f49a7c 250px,#f39778 263px)"></i>
<i style="background:linear-gradient(90deg,#4258ca,#455bcd 10px,#4f6ad9 23px,#6b8df0 51px,#83a7fb 72px,#9bbbff 91px,#b2ccfb 110px,#c9d8ef 131px,#ddd 152px,#ebd3c6 172px,#f5c4ac 195px,#f7af91 222px,#f4997a 250px,#f39576 263px)"></i>
<i style="background:linear-gradient(90deg,#4258ca,#455cce 10px,#4f6ad9 23px,#6b8cf0 50px,#83a6fb 71px,#9cbcff 91px,#b3ccfb 110px,#cad8ef 131px,#dddcdc 151px,#ecd3c5 171px,#f5c3ab 194px,#f7ae90 221px,#f49779 249px,#f29375 261px,#f29375 263px)"></i>
<i style="background:linear-gradient(90deg,#4358cb,#455cce 10px,#506ada 23px,#6b8df0 50px,#84a7fc 71px,#9bbcff 90px,#b3ccfb 109px,#c9d8ef 129px,#dcdddd 149px,#ecd3c6 169px,#f5c3ac 192px,#f7ae90 219px,#f39577 249px,#f29173 261px,#f29173 263px)"></i>
<i style="background:linear-gradient(90deg,#4358cb,#455cce 10px,#506bda 23px,#6c8ef1 50px,#85a8fc 71px,#9cbdff 90px,#b4cdfa 109px,#cbd8ee 129px,#ddd 148px,#ecd3c5 168px,#f5c4ac 190px,#f7ae90 217px,#f39375 249px,#f18f71 261px,#f18f71 263px)"></i>
<i style="background:linear-gradient(90deg,#4359cb,#465cce 10px,#506bda 23px,#6b8df0 49px,#84a7fc 70px,#9cbcff 89px,#b4cdfa 108px,#cbd8ee 128px,#dddcdc 147px,#ecd2c4 167px,#f5c3ab 189px,#f7ad8f 216px,#f29274 248px,#f18d6f 261px,#f18d6f 263px)"></i>
<i style="background:linear-gradient(90deg,#4359cb,#465dcf 10px,#506cda 23px,#6c8ef1 49px,#85a8fc 70px,#9dbdff 89px,#b4cdfa 107px,#cbd8ee 127px,#dddcdc 146px,#ecd3c5 165px,#f5c3ab 187px,#f7ae90 213px,#f29072 248px,#f08b6d 261px,#f08b6d 263px)"></i>
<i style="background:linear-gradient(90deg,#4359cc,#465dcf 10px,#506bda 22px,#6b8df0 48px,#83a7fb 68px,#9abbff 86px,#b2ccfb 104px,#c9d8ef 124px,#dcdddd 143px,#ecd3c5 163px,#f5c4ac 184px,#f7ae91 210px,#f18f71 246px,#ef896c 258px,#ef896c 263px)"></i>
<i style="background:linear-gradient(90deg,#4359cc,#465dcf 10px,#506bda 22px,#6b8df0 47px,#83a6fb 67px,#9abbff 85px,#b2ccfb 103px,#c8d7f0 122px,#dcdddd 142px,#ecd3c6 161px,#f5c4ac 182px,#f7ae90 208px,#f19071 243px,#ef886b 256px,#ee876a 263px)"></i>
<i style="background:linear-gradient(90deg,#445acc,#465ecf 10px,#506cda 22px,#6b8df1 47px,#84a7fc 67px,#9bbcff 85px,#b3ccfb 103px,#cad8ef 122px,#dddcdc 141px,#ecd2c5 160px,#f5c3ab 181px,#f7ad8f 207px,#f18e70 242px,#ee8669 255px,#ee8568 263px)"></i>
<i style="background:linear-gradient(90deg,#445acc,#475ed0 10px,#516cdb 22px,#6c8ef1 47px,#85a8fc 67px,#9dbdff 85px,#b4cdfa 103px,#cbd9ee 122px,#dddcdc 140px,#ecd3c5 158px,#f5c3ab 179px,#f7ae90 204px,#f18f71 239px,#ee8468 253px,#ed8266 263px)"></i>
<i style="background:linear-gradient(90deg,#445acd,#475ed0 10px,#516cdb 22px,#6d8ff1 47px,#86a9fc 67px,#9ebeff 85px,#b4cdfa 102px,#ccd9ee 121px,#dddcdc 138px,#ecd2c4 157px,#f5c2aa 178px,#f7ad8f 203px,#f18e70 237px,#ed8266 253px,#ec8064 263px)"></i>
<i style="background:linear-gradient(90deg,#445bcd,#475fd0 10px,#516ddb 22px,#6c8ef1 46px,#85a9fc 66px,#9ebeff 84px,#b5cdfa 101px,#ccd9ed 120px,#dddcdc 137px,#ecd2c4 155px,#f5c3ab 175px,#f7ad90 200px,#f18f71 234px,#ec8064 252px,#eb7e62 263px)"></i>
<i style="background:linear-gradient(90deg,#455bcd,#475fd0 10px,#526ddc 22px,#6d8ff1 46px,#86aafc 66px,#9fbfff 84px,#b6cefa 101px,#ccd9ed 119px,#dedcdb 136px,#edd2c3 154px,#f5c2aa 174px,#f7ac8e 199px,#f18e70 232px,#eb7e63 251px,#ea7b60 263px)"></i>
<i style="background:linear-gradient(90deg,#455bcd,#485fd1 10px,#526edc 22px,#6c8ef1 45px,#85a8fc 64px,#9cbcff 81px,#b4cdfb 98px,#cad8ee 116px,#dcdddd 133px,#ecd3c5 151px,#f5c3ac 171px,#f7ae90 195px,#f29072 227px,#ea7c61 251px,#e9795e 263px)"></i>
<i style="background:linear-gradient(90deg,#455cce,#4860d1 10px,#526edc 22px,#6d8ff1 45px,#86a9fc 64px,#9dbdff 81px,#b5cefa 98px,#ccd9ed 116px,#dddcdc 132px,#ecd3c6 149px,#f5c3ac 169px,#f7ae90 193px,#f29072 225px,#ea7a5f 250px,#e8765c 263px)"></i>
<i style="background:linear-gradient(90deg,#455cce,#4860d1 10px,#536fdd 22px,#6c8ef1 44px,#85a9fc 63px,#9dbdff 80px,#b5cefa 97px,#cbd8ee 114px,#dddcdc 131px,#ecd2c5 148px,#f5c3ac 167px,#f7ae91 190px,#f29173 221px,#e9785e 249px,#e7745a 261px,#e7745a 263px)"></i>
<i style="background:linear-gradient(90deg,#455cce,#4861d2 10px,#536fdd 22px,#6d8ff2 44px,#86aafc 63px,#9fbeff 80px,#b5cefa 96px,#cbd9ee 113px,#dddcdc 129px,#ecd3c5 146px,#f5c3ac 165px,#f7ae90 188px,#f29072 219px,#e8765c 249px,#e67159 261px,#e67158 263px)"></i>
<i style="background:linear-gradient(90deg,#465dce,#4961d2 10px,#5470de 22px,#6e90f2 44px,#88abfc 63px,#a0bfff 80px,#b7cff9 96px,#cdd9ec 113px,#dddcdc 128px,#ecd2c4 145px,#f5c2aa 164px,#f7ad8f 187px,#f18f71 218px,#e7735a 249px,#e56f57 261px,#e56f57 263px)"></i>
<i style="background:linear-gradient(90deg,#465dcf,#4961d2 10px,#5470de 22px,#6d8ff2 43px,#86a9fc 61px,#9ebeff 78px,#b6cefa 94px,#ccd9ed 111px,#dddcdc 126px,#ecd2c4 143px,#f5c2aa 162px,#f7ad8f 185px,#f18e70 216px,#e67158 249px,#e36c55 261px,#e36c55 263px)"></i>
<i style="background:linear-gradient(90deg,#465dcf,#4962d3 10px,#5471de 22px,#6e90f2 43px,#87aafc 61px,#9ebeff 77px,#b6cefa 93px,#cdd9ed 110px,#dedcdc 125px,#ecd2c4 141px,#f5c3ac 159px,#f7ae91 181px,#f29172 211px,#e57058 246px,#e26a53 258px,#e26953 263px)"></i>
<i style="background:linear-gradient(90deg,#465ecf,#4961d2 9px,#536fdd 20px,#6c8ef1 41px,#85a8fc 59px,#9dbdff 75px,#b5cdfa 91px,#cbd8ee 107px,#dddcdc 123px,#ecd3c5 139px,#f5c3ac 157px,#f7ae90 179px,#f29173 208px,#e57058 243px,#e16852 255px,#e16751 263px)"></i>
<i style="background:linear-gradient(90deg,#475ed0,#4962d3 9px,#526edc 19px,#6c8ef1 40px,#85a8fc 58px,#9dbdff 74px,#b5cefa 90px,#cbd8ee 106px,#dcdddd 121px,#ecd3c5 137px,#f5c3ac 155px,#f7ae90 177px,#f29072 206px,#e57058 240px,#e06651 253px,#df644f 263px)"></i>
<i style="background:linear-gradient(90deg,#475ed0,#4a62d3 9px,#526edc 19px,#6c8ef1 40px,#86a9fc 58px,#9ebeff 74px,#b5cefa 89px,#cbd9ee 105px,#dddcdc 120px,#ecd2c4 136px,#f5c2aa 154px,#f7ac8e 176px,#f18f71 205px,#e46e56 239px,#df644f 253px,#de624d 263px)"></i>
<i style="background:linear-gradient(90deg,#475fd0,#4a63d3 9px,#536fdd 19px,#6c8ef1 39px,#85a9fc 57px,#9ebeff 73px,#b5cefa 88px,#ccd9ed 104px,#ddd 118px,#ecd2c5 134px,#f5c3ac 151px,#f7ae90 172px,#f29173 200px,#e67259 232px,#de624e 251px,#dd5f4c 263px)"></i>
<i style="background:linear-gradient(90deg,#485fd1,#4a63d4 9px,#536fdd 19px,#6d8ff1 39px,#85a8fc 56px,#9cbdff 71px,#b4cdfb 86px,#cbd8ee 102px,#dddcdc 117px,#ecd3c5 132px,#f5c3ac 149px,#f7ae90 170px,#f29172 198px,#e67159 230px,#dd5f4c 251px,#db5c4a 263px)"></i>
<i style="background:linear-gradient(90deg,#4860d1,#4b63d4 9px,#5470de 19px,#6d90f2 39px,#86a9fc 56px,#9ebeff 71px,#b5cefa 86px,#cbd9ee 101px,#dcdddd 115px,#ecd3c5 130px,#f5c4ac 147px,#f7af91 167px,#f29274 194px,#e7735a 225px,#dc5d4a 251px,#da5948 263px)"></i>
<i style="background:linear-gradient(90deg,#4860d1,#4b64d4 9px,#5470de 19px,#6d8ff1 38px,#86a9fc 55px,#9ebeff 70px,#b6cefa 85px,#ccd9ed 100px,#dddcdc 114px,#ecd2c4 129px,#f5c3ab 146px,#f7ad90 166px,#f29072 193px,#e67259 224px,#da5a48 251px,#d85646 263px)"></i>
<i style="background:linear-gradient(90deg,#4860d2,#4b64d5 9px,#5471de 19px,#6d90f2 38px,#87aafc 55px,#9fbfff 70px,#b6cefa 84px,#ccd9ed 99px,#dedcdb 113px,#ecd3c5 127px,#f5c4ac 143px,#f7ae91 163px,#f29274 189px,#e7735a 219px,#d95747 250px,#d75445 263px)"></i>
<i style="background:linear-gradient(90deg,#4961d2,#4c65d5 9px,#5572df 19px,#6e91f2 38px,#88abfd 55px,#a1c0ff 70px,#b8cff9 84px,#ced9ec 99px,#dddcdc 111px,#ecd3c5 125px,#f5c4ac 141px,#f7ae90 161px,#f29173 187px,#e6735a 217px,#d85546 249px,#d55143 261px,#d55143 263px)"></i>
<i style="background:linear-gradient(90deg,#4961d2,#4c65d6 9px,#5572df 19px,#6e90f2 37px,#86a9fc 53px,#9fbeff 68px,#b6cefa 82px,#cbd9ee 96px,#dcdddd 109px,#ebd3c6 123px,#f5c4ac 139px,#f7af91 158px,#f29274 184px,#e7745a 213px,#d75344 248px,#d44e41 260px,#d44e41 263px)"></i>
<i style="background:linear-gradient(90deg,#4962d3,#4c66d6 9px,#5673e0 19px,#6e91f2 37px,#87aafc 53px,#9fbeff 67px,#b6cefa 81px,#ccd9ed 95px,#dddcdc 108px,#ecd3c5 122px,#f5c3ab 138px,#f7ae90 157px,#f29173 182px,#e6735a 211px,#d65143 247px,#d24b40 259px,#d24b40 263px)"></i>
<i style="background:linear-gradient(90deg,#4a62d3,#4d66d6 9px,#5572df 18px,#6e90f2 36px,#87aafc 52px,#9fbeff 66px,#b6cefa 80px,#ccd9ed 94px,#dddcdc 107px,#ecd2c4 121px,#f5c2aa 137px,#f7ac8e 156px,#f19071 181px,#e67158 210px,#d54f42 246px,#d1493e 258px,#d1483e 263px)"></i>
<i style="background:linear-gradient(90deg,#4a63d3,#4d67d7 9px,#5672df 18px,#6f91f2 36px,#88abfd 52px,#a0bfff 66px,#b6cefa 79px,#cdd9ed 93px,#ddd 105px,#ecd2c4 119px,#f5c3ab 134px,#f7ad8f 153px,#f29173 177px,#e7735a 205px,#d55143 241px,#d0473d 254px,#cf453c 263px)"></i>
<i style="background:linear-gradient(90deg,#4a63d4,#4d67d7 9px,#5673e0 18px,#6f92f3 36px,#89acfd 52px,#a2c1ff 66px,#b8d0f9 79px,#cedaeb 93px,#dddcdc 104px,#ecd3c5 117px,#f5c3ab 132px,#f7ae91 150px,#f29375 173px,#e7745b 201px,#d75344 235px,#cf453c 252px,#cd423b 263px)"></i>
<i style="background:linear-gradient(90deg,#4b64d4,#4e68d8 9px,#5674e0 18px,#7093f3 36px,#8badfd 52px,#a3c2fe 66px,#bad1f8 79px,#d0daea 93px,#dedcdb 103px,#ecd2c4 116px,#f5c2aa 131px,#f7ad8f 149px,#f29072 173px,#e67259 201px,#d55043 235px,#cd423b 252px,#cc3f39 263px)"></i>
<i style="background:linear-gradient(90deg,#4b64d4,#4e68d8 9px,#5774e1 18px,#7194f4 36px,#8aadfd 51px,#a1c0ff 64px,#b8d0f9 77px,#cfdaeb 91px,#dddcdc 101px,#ecd2c4 114px,#f5c2aa 129px,#f7ad8f 147px,#f29172 170px,#e67359 197px,#d65143 231px,#cc4039 251px,#ca3c38 263px)"></i>
<i style="background:linear-gradient(90deg,#4b65d5,#4e69d8 9px,#5775e1 18px,#7295f4 36px,#8baefd 51px,#a3c2ff 64px,#bad1f8 77px,#d1dae9 91px,#dedcdb 100px,#edd2c3 113px,#f5c3ab 127px,#f7ac8f 145px,#f29072 168px,#e6735a 194px,#d65243 227px,#ca3d38 251px,#c93936 263px)"></i>
<i style="background:linear-gradient(90deg,#4c65d5,#4f69d9 9px,#5876e2 18px,#7396f5 36px,#8daffe 51px,#a4c3fe 64px,#bad1f8 76px,#d0daea 89px,#dedcdb 99px,#ecd2c4 111px,#f5c3ab 125px,#f7ad90 142px,#f29274 164px,#e7755b 189px,#d75545 221px,#c93936 251px,#c73535 263px)"></i>
<i style="background:linear-gradient(90deg,#4c66d6,#4f6ad9 9px,#5976e2 18px,#7497f5 36px,#8caffe 50px,#a4c3fe 63px,#bbd1f8 75px,#d0dae9 88px,#dddcdc 97px,#ecd2c5 109px,#f5c3ab 123px,#f7ad90 140px,#f29173 162px,#e7745b 187px,#d75445 218px,#c73635 251px,#c53233 263px)"></i>
<i style="background:linear-gradient(90deg,#4c66d6,#506bda 9px,#5977e3 18px,#7396f5 35px,#8caffe 49px,#a4c3fe 62px,#bbd1f8 74px,#d1dae9 87px,#dedcdb 96px,#edd2c3 108px,#f5c3ab 121px,#f7ad8f 138px,#f29172 160px,#e7735a 185px,#d75344 216px,#c53334 250px,#c32f32 261px,#c32f32 263px)"></i>
<i style="background:linear-gradient(90deg,#4d67d7,#506bda 9px,#5a78e3 18px,#7497f5 35px,#8db0fe 49px,#a4c3fe 61px,#bbd1f8 73px,#d1dae8 86px,#dddcdc 94px,#ecd2c4 106px,#f5c3ab 119px,#f7ae90 135px,#f29274 156px,#e8765c 180px,#d85646 210px,#c43133 248px,#c22c30 259px,#c12b30 263px)"></i>
<i style="background:linear-gradient(90deg,#4d67d7,#506bda 8px,#5875e1 16px,#7496f5 34px,#8daffe 48px,#a4c2fe 60px,#bbd1f8 72px,#d2dbe8 85px,#dedcdb 93px,#ecd3c5 104px,#f5c3ac 117px,#f7ae90 133px,#f29273 154px,#e7755b 178px,#d75545 208px,#c32e32 247px,#c0282f 259px,#c0272f 263px)"></i>
<i style="background:linear-gradient(90deg,#4d68d7,#506bda 8px,#5876e2 16px,#7597f6 34px,#8caffe 47px,#a4c2fe 59px,#b9d0f8 70px,#cfdaeb 82px,#dddcdc 91px,#ecd3c6 102px,#f5c4ac 115px,#f7af92 130px,#f39475 150px,#e8775d 173px,#d95847 202px,#c43133 241px,#be232e 258px,#be222e 263px)"></i>
<i style="background:linear-gradient(90deg,#4e68d8,#516cdb 8px,#5977e2 16px,#7497f5 33px,#8caefd 46px,#a3c2fe 58px,#b9d0f9 69px,#cfdaea 81px,#dddcdc 90px,#ecd3c5 101px,#f5c3ab 114px,#f7ae90 129px,#f29274 149px,#e8755c 172px,#d85646 201px,#c32e32 240px,#bd1f2d 256px,#bc1d2c 263px)"></i>
<i style="background:linear-gradient(90deg,#4e69d8,#516cdb 8px,#5977e3 16px,#7598f6 33px,#8db0fe 46px,#a5c3fe 58px,#bbd1f8 69px,#d1dae9 81px,#dedcdb 89px,#ecd2c4 100px,#f5c3ac 112px,#f7ae90 127px,#f29375 146px,#e8775d 168px,#d95847 196px,#c53233 233px,#be242e 246px,#bb1a2c 255px,#bb182b 263px)"></i>
<i style="background:linear-gradient(90deg,#4f69d9,#516ddb 8px,#5a78e3 16px,#7598f6 33px,#8eb1fe 46px,#a4c3fe 57px,#bbd1f8 68px,#cfdaea 79px,#dedcdb 88px,#edd2c3 99px,#f5c3ab 111px,#f7ad8f 126px,#f29274 145px,#e8765c 167px,#d95747 194px,#c53233 230px,#bf252e 242px,#bb182b 252px,#b9142a 261px,#b9142a 263px)"></i>
<i style="background:linear-gradient(90deg,#4f69d9,#526ddc 8px,#5a78e4 16px,#7699f6 33px,#8fb1fe 46px,#a6c3fe 57px,#bcd2f7 68px,#d2dbe8 80px,#dedcdb 87px,#edd2c3 98px,#f5c2aa 110px,#f7ac8e 125px,#f29173 144px,#e7745b 166px,#d85646 193px,#c43133 229px,#bf262e 239px,#ba162b 250px,#b81029 259px,#b80f29 263px)"></i>
<i style="background:linear-gradient(90deg,#4f6ad9,#526edc 8px,#5a79e4 16px,#779af7 33px,#90b2fe 46px,#a7c4fe 57px,#bdd2f6 68px,#d2dbe8 79px,#dddcdc 86px,#edd2c3 97px,#f5c2aa 109px,#f7ac8e 124px,#f29072 143px,#e7735a 165px,#d75445 193px,#c32e32 229px,#bf252e 237px,#b9122a 250px,#b70c28 259px,#b70c28 263px)"></i>
<i style="background:linear-gradient(90deg,#4f6ad9,#526edc 8px,#5b79e4 16px,#7598f6 32px,#8fb1fe 45px,#a5c3fe 56px,#bcd2f7 67px,#d1dae9 78px,#dddcdc 85px,#ebd3c6 95px,#f5c4ac 107px,#f7af91 121px,#f39476 139px,#e9795e 159px,#da5a49 185px,#c73735 219px,#bf262e 235px,#b81029 249px,#b60a28 258px,#b60928 263px)"></i>
<i style="background:linear-gradient(90deg,#4f6ad9,#526edc 8px,#5b79e4 16px,#7699f6 32px,#8fb1fe 45px,#a6c4fe 56px,#bdd2f7 67px,#d2dbe8 78px,#dedcdb 85px,#ecd3c5 95px,#f5c4ad 106px,#f7af92 120px,#f39475 138px,#e9795e 158px,#da5a49 184px,#c73635 218px,#bf262f 233px,#b80f29 248px,#b50827 257px,#b50727 263px)"></i>
<i style="background:linear-gradient(90deg,#506bda,#536edd 8px,#5b7ae4 16px,#7699f6 32px,#90b2fe 45px,#a7c4fe 56px,#bed2f6 67px,#d3dbe7 78px,#dedcda 85px,#ecd2c4 95px,#f5c3ac 106px,#f7ae90 120px,#f29374 138px,#e8785d 158px,#da5948 184px,#c63434 219px,#bf262e 232px,#b70d29 248px,#b50627 257px,#b40526 263px)"></i>
<i style="background:linear-gradient(90deg,#506bda,#536fdd 8px,#5b7ae5 16px,#769af7 32px,#8eb0fe 44px,#a5c3fe 55px,#bcd2f7 66px,#d1dae9 77px,#dddcdc 84px,#ecd3c5 94px,#f4c4ad 105px,#f7af91 119px,#f39576 136px,#e9795f 156px,#db5b49 181px,#c83735 215px,#bf262e 231px,#b70c28 248px,#b40426 257px,#b40426 263px)"></i>
<i style="background:linear-gradient(90deg,#506bda,#536fdd 8px,#5b7ae5 16px,#779af7 32px,#8eb1fe 44px,#a5c3fe 55px,#bad1f8 65px,#ced9eb 75px,#dedcdb 84px,#ecd3c5 94px,#f5c4ac 105px,#f7ae91 119px,#f39476 136px,#e97a5f 155px,#db5c4a 180px,#c83936 213px,#bf252e 231px,#b60b28 248px,#b40426 256px,#b40426 263px)"></i>
<i style="background:linear-gradient(90deg,#506bda,#536fdd 8px,#5b7ae5 16px,#779af7 32px,#8eb1fe 44px,#a5c3fe 55px,#bbd1f8 65px,#ced9eb 75px,#dedcdb 84px,#ecd2c4 94px,#f5c4ac 105px,#f7ae90 119px,#f39476 136px,#e97a5f 155px,#db5b49 180px,#c83836 213px,#bf262e 230px,#b60a28 248px,#b40426 255px,#b40426 263px)"></i>
</div>
<div class="hm" style="left:31px;top:989px;width:261px;height:245px">
<i style="background:linear-gradient(90deg,#3b4cc0,#3c4fc2 10px,#4860d1 28px,#6282ea 62px,#7a9ef8 92px,#93b5fe 121px,#abc7fd 150px,#c2d5f4 180px,#d7dce3 213px,#dfdcda 226px,#ead4c8 250px,#ebd3c6 261px)"></i>
<i style="background:linear-gradient(90deg,#3b4cc0,#3c4fc2 10px,#4860d1 28px,#6282ea 62px,#7a9ef8 92px,#93b5fe 121px,#abc7fd 150px,#c2d5f4 180px,#d7dce3 213px,#dfdcda 226px,#ead4c8 250px,#ebd3c6 261px)"></i>
<i style="background:linear-gradient(90deg,#3b4cc0,#3c4fc3 10px,#4860d1 28px,#6282ea 62px,#7a9ef8 92px,#93b5fe 121px,#abc7fd 150px,#c2d5f4 180px,#d8dce2 213px,#dfdcda 226px,#ead4c8 250px,#ebd3c6 261px)"></i>
<i style="background:linear-gradient(90deg,#3b4cc0,#3c4fc3 10px,#4860d1 28px,#6282ea 62px,#7a9ef8 92px,#93b5fe 121px,#abc8fd 150px,#c2d5f4 180px,#d8dce2 213px,#dfdbd9 226px,#ead4c8 250px,#ecd3c6 261px)"></i>
<i style="background:linear-gradient(90deg,#3b4cc0,#3c4fc3 10px,#4860d1 28px,#6282ea 62px,#7b9ef8 92px,#93b5fe 121px,#abc7fd 149px,#c2d5f4 179px,#d7dce3 211px,#dfdcda 225px,#ead4c8 249px,#ecd3c5 261px)"></i>
<i style="background:linear-gradient(90deg,#3b4cc0,#3c4fc3 10px,#475fd0 27px,#6181ea 61px,#799cf8 90px,#91b3fe 118px,#a9c6fd 147px,#c1d4f5 177px,#d6dce4 209px,#dedcda 224px,#ead4c8 249px,#ecd3c5 261px)"></i>
<i style="background:linear-gradient(90deg,#3b4cc0,#3d50c3 11px,#5978e3 51px,#7395f5 82px,#8aadfd 110px,#a2c1ff 138px,#bad0f8 167px,#d1dae9 200px,#dedcdb 223px,#ebd4c7 249px,#ecd2c4 261px)"></i>
<i style="background:linear-gradient(90deg,#3b4cc0,#3d50c3 11px,#5977e3 50px,#7194f4 80px,#8aadfd 109px,#a2c1ff 137px,#b9d0f8 166px,#d0daea 198px,#dedcdb 222px,#ebd3c6 249px,#ecd2c4 261px)"></i>
<i style="background:linear-gradient(90deg,#3b4cc0,#3d50c3 11px,#5977e3 50px,#7194f4 80px,#89acfd 108px,#a1c0ff 136px,#b9d0f9 165px,#d0daea 197px,#dedcdb 221px,#ecd3c6 249px,#edd1c3 261px)"></i>
<i style="background:linear-gradient(90deg,#3b4cc0,#3d50c4 11px,#5977e3 50px,#7294f4 80px,#8aadfd 108px,#a2c1ff 136px,#b9d0f8 165px,#d0daea 197px,#dedcdb 220px,#ecd3c5 248px,#edd1c2 261px)"></i>
<i style="background:linear-gradient(90deg,#3b4cc0,#3d50c4 11px,#5977e3 50px,#7295f4 80px,#8aadfd 108px,#a2c1ff 136px,#bad0f8 165px,#d1dae9 197px,#dedcdb 219px,#ecd3c5 247px,#eed1c1 261px)"></i>
<i style="background:linear-gradient(90deg,#3b4dc1,#3d50c4 11px,#5a78e3 50px,#7396f5 81px,#8baefd 109px,#a4c2fe 137px,#bbd1f7 166px,#d2dbe8 198px,#dedcdb 218px,#ecd2c4 247px,#eed0c0 261px)"></i>
<i style="background:linear-gradient(90deg,#3b4dc1,#3e51c4 11px,#5977e3 49px,#7294f4 79px,#8aadfd 107px,#a3c1ff 135px,#bad0f8 163px,#d1dae9 195px,#dedcdb 217px,#ecd2c4 246px,#eed0bf 258px,#eecfbf 261px)"></i>
<i style="background:linear-gradient(90deg,#3b4dc1,#3e51c4 11px,#5977e3 49px,#7295f4 79px,#8badfd 107px,#a2c1ff 134px,#b9d0f8 162px,#d1dae9 194px,#dedcdb 216px,#ecd2c4 245px,#efcfbe 257px,#efcfbe 261px)"></i>
<i style="background:linear-gradient(90deg,#3b4dc1,#3e51c4 11px,#5978e3 49px,#7295f4 79px,#8baefd 107px,#a3c2ff 134px,#bad1f8 162px,#d1dae9 194px,#dedcdb 215px,#edd1c3 245px,#efcebd 257px,#efcebd 261px)"></i>
<i style="background:linear-gradient(90deg,#3b4dc1,#3e51c4 11px,#5977e3 48px,#7295f4 78px,#8aadfd 105px,#a2c1ff 132px,#b9d0f9 160px,#d0daea 191px,#dedcdb 214px,#edd2c3 243px,#efcebd 255px,#f0cebc 261px)"></i>
<i style="background:linear-gradient(90deg,#3b4dc1,#3e51c5 11px,#5977e3 48px,#7295f4 78px,#8aadfd 105px,#a2c1ff 132px,#bad0f8 160px,#d0dae9 191px,#dedcdb 213px,#edd1c3 242px,#f0cebc 255px,#f0cdbb 261px)"></i>
<i style="background:linear-gradient(90deg,#3c4ec1,#3e51c5 11px,#5976e2 47px,#7294f4 77px,#8aadfd 104px,#a2c1ff 131px,#bad0f8 159px,#d0dae9 190px,#dedcdb 212px,#edd1c3 241px,#f0cdbb 254px,#f1cdba 261px)"></i>
<i style="background:linear-gradient(90deg,#3c4ec2,#3e52c5 11px,#5876e2 46px,#7093f3 75px,#89acfd 103px,#a2c1ff 130px,#b9d0f8 158px,#d0dae9 189px,#dedcdb 211px,#edd1c2 241px,#f1cdba 254px,#f1ccb9 261px)"></i>
<i style="background:linear-gradient(90deg,#3c4ec2,#3e52c5 11px,#5876e2 46px,#7193f4 75px,#89acfd 102px,#a0c0ff 128px,#b8d0f9 156px,#cfdaeb 186px,#dedcdb 210px,#edd1c2 239px,#f1ccba 252px,#f1cbb8 261px)"></i>
<i style="background:linear-gradient(90deg,#3c4ec2,#3e52c5 11px,#5876e2 46px,#7194f4 75px,#89acfd 102px,#a1c0ff 128px,#b8d0f9 155px,#cfdaeb 185px,#dedcdb 209px,#edd1c2 238px,#f1ccb8 252px,#f2cbb7 261px)"></i>
<i style="background:linear-gradient(90deg,#3c4ec2,#3f52c5 11px,#5876e2 45px,#7193f3 74px,#89acfd 101px,#a1c0ff 127px,#b8cff9 154px,#cfdaeb 184px,#dedcdb 208px,#edd1c2 237px,#f1cbb7 252px,#f2cab6 261px)"></i>
<i style="background:linear-gradient(90deg,#3c4ec2,#3f52c6 11px,#5876e2 45px,#7193f4 74px,#89acfd 101px,#a1c0ff 127px,#b9d0f9 154px,#cfdaea 184px,#dedcdb 207px,#edd1c2 236px,#f2cbb7 251px,#f2c9b5 261px)"></i>
<i style="background:linear-gradient(90deg,#3c4fc2,#3f52c6 11px,#5775e1 44px,#7093f3 73px,#89acfd 100px,#a1c0ff 126px,#b8d0f9 153px,#cfdaea 183px,#dedcdb 205px,#edd2c3 233px,#f2cab6 250px,#f3c9b4 261px)"></i>
<i style="background:linear-gradient(90deg,#3c4fc2,#3f53c6 11px,#5875e2 44px,#7193f4 73px,#89acfd 100px,#a1c0ff 126px,#b9d0f9 153px,#d0daea 183px,#dedcda 205px,#edd1c2 233px,#f2cab5 250px,#f3c8b3 261px)"></i>
<i style="background:linear-gradient(90deg,#3c4fc3,#3f53c6 11px,#5876e2 44px,#7194f4 73px,#8aadfd 100px,#a2c1ff 126px,#bad0f8 153px,#d1dae9 183px,#dedcdb 203px,#edd2c3 231px,#f2c9b4 250px,#f3c7b1 261px)"></i>
<i style="background:linear-gradient(90deg,#3d4fc3,#3f53c6 11px,#5876e2 44px,#7194f4 73px,#89acfd 99px,#a2c1ff 125px,#b9d0f8 152px,#d0daea 181px,#dedcdb 202px,#edd2c3 230px,#f3c8b3 250px,#f4c6b0 261px)"></i>
<i style="background:linear-gradient(90deg,#3d4fc3,#3f53c6 11px,#5876e2 44px,#7294f4 73px,#8aadfd 99px,#a2c1ff 125px,#b9d0f8 151px,#d1dae9 181px,#dedcdb 201px,#ecd2c4 228px,#f3c7b2 250px,#f4c6af 261px)"></i>
<i style="background:linear-gradient(90deg,#3d4fc3,#3f53c7 11px,#5876e2 43px,#7194f4 72px,#89acfd 98px,#a1c0ff 123px,#b8d0f9 149px,#cfdaeb 178px,#dedcdb 200px,#edd1c3 228px,#f3c7b1 250px,#f4c5ae 261px)"></i>
<i style="background:linear-gradient(90deg,#3d50c3,#4054c7 11px,#5775e1 42px,#7092f3 70px,#88abfd 96px,#a0bfff 121px,#b7cff9 147px,#ced9ec 175px,#dedcdb 199px,#edd2c3 226px,#f4c6b0 249px,#f4c4ad 261px)"></i>
<i style="background:linear-gradient(90deg,#3d50c3,#4054c7 11px,#5775e1 42px,#7093f3 70px,#88abfd 96px,#a0c0ff 121px,#b8cff9 147px,#ced9eb 175px,#dedcdb 198px,#edd2c3 225px,#f4c6af 249px,#f5c3ac 261px)"></i>
<i style="background:linear-gradient(90deg,#3d50c3,#4054c7 11px,#5875e2 42px,#7093f3 70px,#89acfd 96px,#a1c0ff 121px,#b8d0f9 147px,#d0daea 176px,#dedcdb 197px,#edd2c3 224px,#f4c5ae 249px,#f5c3ab 261px)"></i>
<i style="background:linear-gradient(90deg,#3d50c4,#4054c7 11px,#5876e2 42px,#7193f4 70px,#89acfd 96px,#a1c0ff 121px,#b9d0f9 147px,#d0dae9 176px,#dedcdb 196px,#edd1c3 223px,#f5c4ac 249px,#f5c2a9 261px)"></i>
<i style="background:linear-gradient(90deg,#3d50c4,#4054c7 11px,#5775e1 41px,#7093f3 69px,#89acfd 95px,#a1c0ff 120px,#b9d0f9 146px,#d0daea 174px,#dedcdb 195px,#edd2c3 221px,#f5c3ab 249px,#f5c1a8 261px)"></i>
<i style="background:linear-gradient(90deg,#3d50c4,#4055c8 11px,#5673e0 39px,#6e90f2 66px,#86a9fc 91px,#9ebeff 116px,#b5cefa 141px,#ccd9ed 168px,#dddcdc 193px,#ecd2c4 219px,#f5c3ab 247px,#f6c0a7 259px,#f6c0a7 261px)"></i>
<i style="background:linear-gradient(90deg,#3e51c4,#4055c8 11px,#5572df 38px,#6e91f2 66px,#86a9fc 91px,#9ebeff 116px,#b6cefa 141px,#ccd9ed 168px,#dddcdc 192px,#ecd2c4 218px,#f5c3ab 246px,#f6bfa6 258px,#f6bfa6 261px)"></i>
<i style="background:linear-gradient(90deg,#3e51c4,#4055c8 11px,#5572df 38px,#6e90f2 65px,#86a9fc 90px,#9ebeff 115px,#b6cefa 140px,#ccd9ed 167px,#dddcdc 191px,#ecd2c4 217px,#f5c2aa 245px,#f6bea5 257px,#f6bea4 261px)"></i>
<i style="background:linear-gradient(90deg,#3e51c4,#4155c8 11px,#5572df 37px,#6d8ff2 64px,#85a8fc 89px,#9dbdff 113px,#b4cdfa 138px,#ccd9ee 165px,#dddcdc 190px,#ecd2c4 216px,#f5c2aa 244px,#f6bea4 256px,#f6bda3 261px)"></i>
<i style="background:linear-gradient(90deg,#3e51c5,#4155c8 11px,#5572df 37px,#6d90f2 64px,#86a9fc 89px,#9dbdff 113px,#b5cefa 138px,#cbd9ee 164px,#dddcdc 189px,#edd2c3 215px,#f5c2a9 243px,#f6bda3 255px,#f6bca2 261px)"></i>
<i style="background:linear-gradient(90deg,#3e51c5,#4156c8 11px,#5572df 37px,#6e90f2 64px,#86a9fc 89px,#9fbfff 114px,#b7cff9 139px,#cdd9ec 165px,#dddcdc 188px,#edd2c3 214px,#f5c2a9 242px,#f6bca2 254px,#f7bba1 261px)"></i>
<i style="background:linear-gradient(90deg,#3e51c5,#4156c9 11px,#5470de 35px,#6c8ef1 62px,#85a8fc 87px,#9dbdff 111px,#b5cdfa 136px,#cbd9ee 162px,#dddcdc 187px,#ecd2c4 212px,#f5c2aa 240px,#f7bba1 253px,#f7ba9f 261px)"></i>
<i style="background:linear-gradient(90deg,#3e52c5,#4156c9 11px,#5470de 35px,#6d8ff1 62px,#85a8fc 87px,#9dbdff 111px,#b4cdfa 135px,#cbd9ee 161px,#dddcdc 186px,#ecd2c4 211px,#f5c2a9 239px,#f7bba0 252px,#f7b99e 261px)"></i>
<i style="background:linear-gradient(90deg,#3e52c5,#4156c9 11px,#5370dd 34px,#6c8ef1 61px,#85a8fc 86px,#9cbcff 109px,#b4cdfa 134px,#cbd8ee 160px,#dddcdc 184px,#ecd3c5 209px,#f5c2aa 237px,#f7ba9f 251px,#f7b89d 261px)"></i>
<i style="background:linear-gradient(90deg,#3f52c5,#4156c9 11px,#5470de 34px,#6c8ef1 61px,#85a8fc 86px,#9dbdff 110px,#b5cefa 134px,#ccd9ed 160px,#dedcdb 184px,#edd2c3 209px,#f5c2aa 236px,#f7b99e 251px,#f7b79b 261px)"></i>
<i style="background:linear-gradient(90deg,#3f52c6,#4257c9 11px,#5470de 34px,#6d8ff1 61px,#85a8fc 85px,#9cbcff 108px,#b4cdfb 132px,#cbd8ee 158px,#dddcdc 182px,#ecd2c4 207px,#f5c2aa 234px,#f7b89d 250px,#f7b69a 261px)"></i>
<i style="background:linear-gradient(90deg,#3f52c6,#4257c9 11px,#536fdd 33px,#6c8ef1 60px,#84a7fc 84px,#9cbcff 107px,#b3cdfb 131px,#cbd8ee 157px,#dddcdc 181px,#ecd2c4 206px,#f5c2aa 233px,#f7b79b 250px,#f7b599 261px)"></i>
<i style="background:linear-gradient(90deg,#3f53c6,#4257ca 11px,#5370dd 33px,#6c8ff1 60px,#85a8fc 84px,#9cbcff 107px,#b4cdfa 131px,#cbd8ee 156px,#dddcdc 180px,#ecd2c4 205px,#f5c2aa 232px,#f7b69a 250px,#f7b497 261px)"></i>
<i style="background:linear-gradient(90deg,#3f53c6,#4257ca 11px,#5470de 33px,#6d8ff1 60px,#85a8fc 84px,#9dbdff 107px,#b5cefa 131px,#ccd9ee 156px,#dddcdc 179px,#ecd2c4 204px,#f5c2a9 231px,#f7b699 249px,#f7b396 261px)"></i>
<i style="background:linear-gradient(90deg,#3f53c6,#4257ca 11px,#5470de 33px,#6c8ef1 59px,#85a8fc 83px,#9cbdff 106px,#b5cdfa 130px,#cbd9ee 155px,#dddcdc 178px,#ecd2c4 202px,#f5c3ab 228px,#f7b498 249px,#f7b295 261px)"></i>
<i style="background:linear-gradient(90deg,#3f53c6,#4258ca 11px,#526edc 31px,#6c8ef1 58px,#84a7fc 82px,#9cbcff 105px,#b4cdfa 129px,#cbd9ee 154px,#dddcdc 177px,#ecd2c4 201px,#f5c3aa 227px,#f7b397 249px,#f7b193 261px)"></i>
<i style="background:linear-gradient(90deg,#3f53c7,#4258ca 11px,#536fdd 31px,#6c8ef1 58px,#84a8fc 82px,#9dbdff 105px,#b4cdfa 128px,#cbd9ee 153px,#dddcdc 176px,#ecd2c4 200px,#f5c2aa 226px,#f7b295 249px,#f7af92 261px)"></i>
<i style="background:linear-gradient(90deg,#4054c7,#4358cb 11px,#536fdd 31px,#6c8ef1 58px,#85a8fc 82px,#9dbdff 105px,#b5cefa 128px,#cbd8ee 152px,#dddcdc 175px,#ecd2c4 199px,#f5c2aa 225px,#f7b294 248px,#f7ae91 261px)"></i>
<i style="background:linear-gradient(90deg,#4054c7,#4358cb 11px,#536fdd 31px,#6c8ef1 57px,#84a8fc 81px,#9dbdff 104px,#b5cdfa 127px,#cbd8ee 151px,#dddcdc 174px,#ecd2c4 198px,#f5c2a9 224px,#f7b093 248px,#f7ad8f 261px)"></i>
<i style="background:linear-gradient(90deg,#4054c7,#4358cb 11px,#526edc 30px,#6c8ef1 57px,#84a7fc 80px,#9bbcff 102px,#b3cdfb 125px,#cad8ef 149px,#dcdddd 172px,#ecd2c4 196px,#f5c2aa 222px,#f7af92 248px,#f7ac8e 261px)"></i>
<i style="background:linear-gradient(90deg,#4054c7,#4358cb 10px,#4c66d6 23px,#6585ec 49px,#7da0f9 73px,#95b6ff 95px,#acc8fd 117px,#c3d5f4 140px,#d8dce2 165px,#dfdcda 174px,#edd1c2 197px,#f5c1a9 222px,#f7ae90 248px,#f7aa8c 261px)"></i>
<i style="background:linear-gradient(90deg,#4054c7,#4358cb 10px,#4d66d6 23px,#6586ec 49px,#7ea1f9 73px,#95b7ff 95px,#adc8fd 117px,#c4d5f3 140px,#d9dce1 165px,#e0dbd9 174px,#eed0c0 198px,#f6bfa5 224px,#f7ad8f 248px,#f7a98b 261px)"></i>
<i style="background:linear-gradient(90deg,#4055c8,#4358cb 10px,#4d67d7 23px,#6586ec 49px,#7ea1fa 73px,#96b7ff 95px,#adc9fd 117px,#c4d6f3 140px,#d9dce0 165px,#e0dbd8 174px,#efcfbf 198px,#f6bea5 223px,#f7ab8d 248px,#f7a889 261px)"></i>
<i style="background:linear-gradient(90deg,#4055c8,#4359cb 10px,#4d67d7 23px,#6686ed 49px,#7fa2fa 73px,#96b8ff 95px,#aec9fc 117px,#c5d6f2 140px,#dadcdf 165px,#e2dad6 175px,#efcebd 198px,#f6bda3 223px,#f7aa8c 248px,#f7a688 261px)"></i>
<i style="background:linear-gradient(90deg,#4155c8,#4359cb 10px,#4d67d7 23px,#6687ed 49px,#7fa2fa 73px,#97b8ff 95px,#afcafc 117px,#c6d6f1 140px,#dbdcdf 165px,#e8d6cc 183px,#f3c8b2 207px,#f7b497 234px,#f7a889 250px,#f6a586 261px)"></i>
<i style="background:linear-gradient(90deg,#4155c8,#4359cc 10px,#4d67d7 23px,#6687ed 49px,#80a3fa 73px,#98b9ff 95px,#b0cafc 117px,#c6d6f2 139px,#dbdcde 164px,#e8d6cd 181px,#f3c8b3 205px,#f7b497 232px,#f7a788 249px,#f6a485 261px)"></i>
<i style="background:linear-gradient(90deg,#4156c8,#4359cc 10px,#4e68d7 23px,#6788ed 49px,#80a3fa 73px,#98b9ff 95px,#afcafc 116px,#c7d7f1 139px,#dbdcde 163px,#e9d5cb 182px,#f3c7b1 206px,#f7b295 233px,#f6a587 249px,#f6a283 261px)"></i>
<i style="background:linear-gradient(90deg,#4156c9,#445acc 10px,#4e68d8 23px,#6788ee 49px,#7fa3fa 72px,#98b9ff 94px,#afcafc 115px,#c6d7f1 138px,#dbdcde 162px,#e8d6cb 180px,#f3c7b1 204px,#f7b396 230px,#f6a485 249px,#f6a182 261px)"></i>
<i style="background:linear-gradient(90deg,#4156c9,#445acc 10px,#4e68d8 23px,#6789ee 49px,#80a3fa 72px,#97b9ff 93px,#afcafc 114px,#c5d6f2 136px,#dadcdf 160px,#e2dad5 170px,#efcebd 192px,#f6bda2 217px,#f6a486 246px,#f59f80 258px,#f59f80 261px)"></i>
<i style="background:linear-gradient(90deg,#4156c9,#445acc 10px,#4e69d8 23px,#6889ee 49px,#80a4fb 72px,#98b9ff 93px,#b0cafc 114px,#c6d6f1 136px,#dbdcde 160px,#e9d5ca 179px,#f3c7b1 202px,#f7b295 228px,#f6a183 248px,#f59e7f 261px)"></i>
<i style="background:linear-gradient(90deg,#4156c9,#445acd 10px,#4e69d8 23px,#6889ee 49px,#81a4fb 72px,#99baff 93px,#b0cbfc 114px,#c7d7f1 136px,#dcddde 160px,#ecd2c4 183px,#f5c2aa 207px,#f7ac8e 234px,#f59f80 250px,#f59c7d 261px)"></i>
<i style="background:linear-gradient(90deg,#4257c9,#445bcd 10px,#4f69d9 23px,#688aef 49px,#80a4fa 71px,#98b9ff 92px,#b0cbfc 113px,#c7d7f1 135px,#dbdcde 158px,#ead4c9 178px,#f4c6af 201px,#f7b193 227px,#f59e80 248px,#f49b7c 261px)"></i>
<i style="background:linear-gradient(90deg,#4257ca,#445bcd 10px,#4f69d9 23px,#6889ee 48px,#80a3fa 70px,#98b9ff 91px,#b0cafc 112px,#c7d7f1 134px,#dbdcde 157px,#ead4c8 177px,#f4c5ae 200px,#f7b093 226px,#f59d7e 248px,#f4997a 261px)"></i>
<i style="background:linear-gradient(90deg,#4257ca,#455bcd 10px,#4f6ad9 23px,#6889ee 48px,#80a4fa 70px,#99baff 91px,#b0cbfc 112px,#c8d7f0 134px,#dcdddd 157px,#ecd3c5 179px,#f5c3ab 202px,#f7ad8f 228px,#f59b7c 248px,#f49779 261px)"></i>
<i style="background:linear-gradient(90deg,#4257ca,#455bcd 10px,#4f6ad9 23px,#688aef 48px,#81a4fb 70px,#99baff 91px,#b0cbfc 111px,#c7d7f1 132px,#dbdcde 155px,#ebd4c7 176px,#f5c4ac 199px,#f7ae91 225px,#f49a7b 248px,#f39677 261px)"></i>
<i style="background:linear-gradient(90deg,#4258ca,#455cce 10px,#506ada 23px,#698aef 48px,#81a5fb 70px,#99baff 90px,#b0cbfc 110px,#c6d7f1 131px,#dbdcde 154px,#ebd3c6 175px,#f5c4ac 198px,#f7ae90 224px,#f49879 248px,#f39475 261px)"></i>
<i style="background:linear-gradient(90deg,#4258ca,#455cce 10px,#506bda 23px,#698bef 48px,#82a5fb 70px,#9abaff 90px,#b1cbfb 110px,#c7d7f1 131px,#dbdcde 153px,#ebd4c7 173px,#f4c5ae 195px,#f7b092 220px,#f49778 247px,#f29274 258px,#f29274 261px)"></i>
<i style="background:linear-gradient(90deg,#4358cb,#455cce 10px,#506bda 23px,#6a8bef 48px,#82a5fb 69px,#99baff 89px,#b1cbfc 109px,#c8d7f0 131px,#dcdddd 153px,#ecd2c5 174px,#f5c3ab 196px,#f7ad90 221px,#f39577 247px,#f29072 258px,#f29072 261px)"></i>
<i style="background:linear-gradient(90deg,#4358cb,#465cce 10px,#506bda 23px,#6a8cf0 48px,#82a6fb 69px,#9abbff 89px,#b2ccfb 109px,#c8d7f0 130px,#dcddde 151px,#ecd3c5 172px,#f5c3ac 194px,#f7ae90 219px,#f29375 247px,#f18e70 258px,#f18e70 261px)"></i>
<i style="background:linear-gradient(90deg,#4359cb,#465dce 10px,#506ada 22px,#6a8bef 47px,#83a6fb 69px,#9bbbff 89px,#b3ccfb 109px,#c9d8ef 130px,#ddd 151px,#ecd2c4 172px,#f5c2aa 194px,#f7ac8e 219px,#f29173 247px,#f18c6f 259px,#f18c6f 261px)"></i>
<i style="background:linear-gradient(90deg,#4359cb,#465dcf 10px,#506bda 22px,#698bef 46px,#81a5fb 67px,#99baff 87px,#b0cbfc 106px,#c7d7f0 127px,#dcdddd 149px,#ecd2c4 170px,#f5c2aa 192px,#f7ac8e 217px,#f18f71 247px,#f08a6d 259px,#f08a6d 261px)"></i>
<i style="background:linear-gradient(90deg,#4359cc,#465dcf 10px,#506bda 22px,#6a8bef 46px,#82a5fb 67px,#9abbff 87px,#b1cbfb 106px,#c8d7f0 127px,#dcdddd 148px,#ecd2c4 169px,#f5c2aa 191px,#f7ac8e 216px,#f18d6f 247px,#ef886b 258px,#ef886b 261px)"></i>
<i style="background:linear-gradient(90deg,#4359cc,#465ecf 10px,#506cda 22px,#6a8cf0 46px,#83a6fb 67px,#9abbff 86px,#b1cbfb 105px,#c9d7f0 126px,#dcdddd 147px,#ecd3c5 167px,#f5c3ab 188px,#f7ae90 212px,#f29072 242px,#ef876a 254px,#ee8669 261px)"></i>
<i style="background:linear-gradient(90deg,#445acc,#475ecf 10px,#516cdb 22px,#6b8cf0 46px,#83a7fb 67px,#9bbbff 86px,#b2ccfb 105px,#cad8ef 126px,#ddd 146px,#ecd2c4 166px,#f5c2a9 188px,#f7ab8d 213px,#f18d6f 243px,#ee8568 254px,#ee8467 261px)"></i>
<i style="background:linear-gradient(90deg,#445acc,#475ed0 10px,#516cdb 22px,#6a8cf0 45px,#83a6fb 66px,#9bbbff 85px,#b2ccfb 104px,#c9d8ef 124px,#dcdddd 144px,#ecd3c5 164px,#f5c3ab 185px,#f7ad8f 209px,#f29072 238px,#ee8468 251px,#ed8266 261px)"></i>
<i style="background:linear-gradient(90deg,#445acd,#475ed0 10px,#516ddb 22px,#6b8cf0 45px,#83a6fb 65px,#9bbbff 84px,#b2ccfb 103px,#c9d8ef 123px,#dcdddd 143px,#ecd2c4 163px,#f5c2aa 184px,#f7ac8e 208px,#f18f71 237px,#ed8366 250px,#ec8064 261px)"></i>
<i style="background:linear-gradient(90deg,#445bcd,#475fd0 10px,#526ddc 22px,#6a8cf0 44px,#82a5fb 64px,#9abbff 83px,#b2ccfb 102px,#c9d8ef 122px,#ddd 142px,#ecd3c5 161px,#f5c3ab 182px,#f7ac8e 206px,#f18f71 235px,#ec8164 250px,#eb7d62 261px)"></i>
<i style="background:linear-gradient(90deg,#445bcd,#485fd1 10px,#526edc 22px,#6b8cf0 44px,#83a6fb 64px,#9bbcff 83px,#b3cdfb 102px,#cad8ee 122px,#dddcdc 141px,#ecd2c4 160px,#f5c3ab 180px,#f7ad90 203px,#f19072 232px,#ec7f63 249px,#ea7b60 261px)"></i>
<i style="background:linear-gradient(90deg,#455bcd,#4860d1 10px,#526edc 22px,#6b8df0 44px,#83a6fb 63px,#9bbcff 82px,#b2ccfb 100px,#c9d8ef 120px,#dcdddd 139px,#ecd3c5 158px,#f5c2aa 179px,#f7ad8f 202px,#f18f71 231px,#eb7d61 249px,#e9795e 261px)"></i>
<i style="background:linear-gradient(90deg,#455cce,#4860d1 10px,#536fdd 22px,#6c8ef1 44px,#85a8fc 64px,#9cbcff 82px,#b4cdfa 101px,#cbd8ee 120px,#ddd 138px,#ecd2c4 157px,#f5c3aa 177px,#f7ad8f 200px,#f18e70 229px,#ea7b60 248px,#e8765c 259px,#e8765c 261px)"></i>
<i style="background:linear-gradient(90deg,#455cce,#4860d1 10px,#536fdd 22px,#6b8df0 43px,#83a6fb 62px,#9bbbff 80px,#b2ccfb 98px,#c9d7f0 117px,#dcdddd 136px,#ecd3c5 155px,#f5c3ab 175px,#f7ad8f 198px,#f18e70 227px,#e9785e 248px,#e7745a 259px,#e7745a 261px)"></i>
<i style="background:linear-gradient(90deg,#455cce,#4961d2 10px,#5470dd 22px,#6c8ef1 43px,#84a7fc 62px,#9cbcff 80px,#b3cdfb 98px,#cad8ef 117px,#dcdddd 135px,#ecd2c4 154px,#f5c2aa 174px,#f7ac8e 197px,#f18e70 225px,#e8765c 248px,#e67259 259px,#e67159 261px)"></i>
<i style="background:linear-gradient(90deg,#465dce,#4860d1 9px,#516cdb 19px,#6a8cf0 41px,#82a6fb 60px,#9abbff 78px,#b1cbfc 95px,#c8d7f0 114px,#dcddde 133px,#ecd3c5 152px,#f5c2aa 172px,#f7ad8f 194px,#f18f71 222px,#e7745a 248px,#e56f57 259px,#e56f57 261px)"></i>
<i style="background:linear-gradient(90deg,#465dcf,#4861d2 9px,#516cdb 19px,#698bef 40px,#82a5fb 59px,#9abbff 77px,#b1cbfc 94px,#c8d7f0 113px,#dcdddd 132px,#ecd2c4 151px,#f5c3ab 170px,#f7ad8f 192px,#f18f71 220px,#e67259 247px,#e46d55 258px,#e36c55 261px)"></i>
<i style="background:linear-gradient(90deg,#465dcf,#4961d2 9px,#516ddb 19px,#6a8cf0 40px,#83a6fb 59px,#9bbcff 77px,#b2ccfb 94px,#c8d7f0 112px,#dcdddd 131px,#ecd3c5 149px,#f5c3ab 168px,#f7ad8f 190px,#f18f71 218px,#e56f57 247px,#e26a53 258px,#e26a53 261px)"></i>
<i style="background:linear-gradient(90deg,#465ecf,#4961d2 9px,#526ddc 19px,#6b8df0 40px,#84a7fc 59px,#9bbbff 76px,#b2ccfb 93px,#c9d7f0 111px,#dcddde 129px,#ecd2c4 148px,#f5c2aa 167px,#f7ac8e 189px,#f18f71 216px,#e46e56 246px,#e16852 256px,#e16751 261px)"></i>
<i style="background:linear-gradient(90deg,#475ed0,#4962d3 9px,#526edc 19px,#6b8df1 40px,#83a6fb 58px,#9bbbff 75px,#b2ccfb 92px,#c9d8ef 110px,#dcdddd 128px,#ecd2c5 146px,#f5c3ab 165px,#f7ac8e 187px,#f18f70 214px,#e36b54 246px,#e06550 256px,#e0654f 261px)"></i>
<i style="background:linear-gradient(90deg,#475ed0,#4a62d3 9px,#526edc 19px,#6b8df0 39px,#84a7fc 58px,#9cbcff 75px,#b3cdfb 92px,#cad8ef 110px,#ddd 127px,#ecd3c5 144px,#f5c3ab 163px,#f7ad90 184px,#f18f71 211px,#e26a53 244px,#df634e 255px,#de624e 261px)"></i>
<i style="background:linear-gradient(90deg,#475fd0,#4a63d3 9px,#536fdd 19px,#6b8df1 39px,#84a7fc 57px,#9cbcff 74px,#b3cdfb 91px,#cbd8ee 109px,#dddcdc 126px,#ecd2c4 143px,#f5c3ab 161px,#f7ae90 182px,#f18f71 209px,#e26a53 242px,#de614d 253px,#dd5f4c 261px)"></i>
<i style="background:linear-gradient(90deg,#475fd0,#4a63d4 9px,#536fdd 19px,#6c8ef1 39px,#85a8fc 57px,#9dbdff 74px,#b5cefa 91px,#cbd8ee 108px,#dddcdc 125px,#ecd2c4 142px,#f5c2aa 160px,#f7ad8f 181px,#f18f71 207px,#e26953 240px,#dd5f4b 252px,#dc5d4a 261px)"></i>
<i style="background:linear-gradient(90deg,#485fd1,#4a63d4 9px,#5470de 19px,#6d8ff1 39px,#86a9fc 57px,#9ebeff 74px,#b5cdfa 90px,#cbd8ee 107px,#ddd 123px,#ecd2c4 140px,#f5c3ab 158px,#f7ad8f 179px,#f18f71 205px,#e26a53 237px,#dc5d4a 251px,#da5a48 261px)"></i>
<i style="background:linear-gradient(90deg,#4860d1,#4b64d4 9px,#5470de 19px,#6c8ef1 38px,#85a8fc 56px,#9cbdff 72px,#b5cdfa 89px,#cbd8ee 106px,#dddcdc 122px,#ecd2c4 139px,#f5c2aa 157px,#f7ac8e 178px,#f18e70 204px,#e16751 237px,#da5a48 251px,#d95747 261px)"></i>
<i style="background:linear-gradient(90deg,#4860d1,#4b64d5 9px,#5471de 19px,#6d8ff1 38px,#85a8fc 55px,#9cbcff 71px,#b3cdfb 87px,#cad8ef 104px,#dcdddd 120px,#ecd2c4 137px,#f5c2aa 155px,#f7ad8f 175px,#f18f71 201px,#e36c55 231px,#d95847 249px,#d75445 261px)"></i>
<i style="background:linear-gradient(90deg,#4961d2,#4b65d5 9px,#5572df 19px,#6c8ef1 37px,#84a7fc 54px,#9cbcff 70px,#b3cdfb 86px,#c9d8ef 102px,#ddd 119px,#ecd2c4 136px,#f5c2a9 154px,#f7ab8d 175px,#f18c6e 201px,#e16852 232px,#d85646 249px,#d65143 261px)"></i>
<i style="background:linear-gradient(90deg,#4961d2,#4c65d5 9px,#5572df 19px,#6d8ff1 37px,#85a8fc 54px,#9dbdff 70px,#b5cdfa 86px,#cad8ee 102px,#dddcdc 118px,#ecd2c4 134px,#f5c3ab 151px,#f7ad90 171px,#f19072 196px,#e36c55 226px,#d75444 248px,#d44f42 259px,#d44f41 261px)"></i>
<i style="background:linear-gradient(90deg,#4961d2,#4c66d6 9px,#5673e0 19px,#6e90f2 37px,#86a9fc 54px,#9ebeff 70px,#b6cefa 86px,#ccd9ed 102px,#dddcdc 117px,#ecd2c4 133px,#f5c2aa 150px,#f7ac8e 170px,#f18e70 195px,#e36b54 225px,#d55143 248px,#d34c40 259px,#d34c40 261px)"></i>
<i style="background:linear-gradient(90deg,#4962d3,#4c66d6 9px,#5572df 18px,#6d8ff2 36px,#86a9fc 53px,#9ebeff 69px,#b5cdfa 84px,#cbd8ee 100px,#dcdddd 115px,#ecd2c5 131px,#f5c3ab 148px,#f7ac8f 168px,#f18e70 193px,#e36b54 222px,#d44e41 248px,#d1493e 258px,#d1493e 261px)"></i>
<i style="background:linear-gradient(90deg,#4a62d3,#4d67d7 9px,#5572df 18px,#6e90f2 36px,#87aafc 53px,#9fbfff 69px,#b6cefa 84px,#ccd9ed 100px,#dddcdc 114px,#ecd2c4 130px,#f5c2aa 147px,#f7ab8d 167px,#f18d6f 192px,#e26952 222px,#d24b3f 248px,#cf463d 258px,#cf463d 261px)"></i>
<i style="background:linear-gradient(90deg,#4a63d3,#4d67d7 9px,#5673e0 18px,#6d8ff2 35px,#86a9fc 52px,#9fbfff 68px,#b6cefa 83px,#ccd9ed 99px,#dddcdc 113px,#edd2c3 129px,#f5c1a9 146px,#f7aa8c 166px,#f18d6f 190px,#e26a53 219px,#d1493e 247px,#ce433b 257px,#ce433b 261px)"></i>
<i style="background:linear-gradient(90deg,#4a63d4,#4d67d7 9px,#5673e0 18px,#6e90f2 35px,#86a9fc 51px,#9fbeff 67px,#b6cefa 82px,#cdd9ed 98px,#dddcdc 112px,#ecd2c4 127px,#f5c2a9 144px,#f7ac8e 163px,#f18e70 187px,#e36b54 215px,#d0473d 246px,#cc403a 256px,#cc4039 261px)"></i>
<i style="background:linear-gradient(90deg,#4b64d4,#4e68d8 9px,#5774e1 18px,#6e91f2 35px,#87aafc 51px,#9fbeff 66px,#b6cefa 81px,#cbd9ee 96px,#ddd 110px,#ecd3c5 125px,#f5c3ac 141px,#f7ad90 160px,#f18f71 184px,#e36c55 212px,#cf453c 245px,#cb3e38 255px,#ca3d38 261px)"></i>
<i style="background:linear-gradient(90deg,#4b64d5,#4e68d8 9px,#5775e1 18px,#6f92f3 35px,#88abfd 51px,#a0bfff 66px,#b6cefa 80px,#ccd9ee 95px,#dddcdc 109px,#ecd2c4 124px,#f5c3ab 140px,#f7ac8e 159px,#f18e70 183px,#e36b54 211px,#ce433b 244px,#c93a37 255px,#c93936 261px)"></i>
<i style="background:linear-gradient(90deg,#4b65d5,#4e69d8 9px,#5875e1 18px,#7092f3 35px,#89acfd 51px,#a1c0ff 66px,#b7cff9 80px,#cdd9ec 95px,#dddcdc 108px,#edd2c3 123px,#f5c2aa 139px,#f7ab8d 158px,#f18e70 181px,#e26a53 209px,#cd423b 242px,#c83836 253px,#c73635 261px)"></i>
<i style="background:linear-gradient(90deg,#4c65d5,#4f69d9 9px,#5876e2 18px,#6f92f3 34px,#88abfd 50px,#9fbfff 64px,#b6cefa 78px,#ccd9ed 93px,#dedcdb 107px,#edd1c3 122px,#f5c1a9 138px,#f7aa8c 157px,#f08c6e 180px,#e26952 208px,#cc4039 241px,#c63534 252px,#c53233 261px)"></i>
<i style="background:linear-gradient(90deg,#4c66d6,#4f6ad9 9px,#5976e2 18px,#7092f3 34px,#89acfd 50px,#a1c0ff 64px,#b7cff9 78px,#ced9ec 93px,#dedcdb 106px,#edd2c3 120px,#f5c1a9 136px,#f7ab8d 154px,#f18d6f 177px,#e36b54 204px,#cd423a 237px,#c53233 250px,#c32e32 261px)"></i>
<i style="background:linear-gradient(90deg,#4c66d6,#506bda 9px,#5977e3 18px,#7193f4 34px,#89acfd 49px,#a0c0ff 63px,#b7cff9 77px,#ced9ec 92px,#dddcdc 104px,#ecd2c4 118px,#f5c3ab 133px,#f7ad8f 151px,#f18f70 174px,#e36b54 201px,#cf453c 232px,#c43032 249px,#c12b30 259px,#c12b30 261px)"></i>
<i style="background:linear-gradient(90deg,#4d67d7,#506bda 9px,#5a78e3 18px,#7294f4 34px,#8aadfd 49px,#a2c1ff 63px,#b9d0f9 77px,#cfdaea 92px,#dedcdb 103px,#ecd2c4 117px,#f5c2aa 132px,#f7ac8e 150px,#f18d6f 173px,#e26a53 200px,#ce433b 231px,#c22d31 248px,#c0272f 259px,#bf272f 261px)"></i>
<i style="background:linear-gradient(90deg,#4d67d7,#506cda 9px,#5a78e4 18px,#7295f4 34px,#8baefd 49px,#a3c2fe 63px,#bad1f8 77px,#d0daea 91px,#dedcdb 102px,#edd2c3 116px,#f5c2a9 131px,#f7ab8d 149px,#f18d6f 171px,#e36b54 197px,#cf453c 227px,#c12a30 248px,#be222d 257px,#be212d 261px)"></i>
<i style="background:linear-gradient(90deg,#4d68d7,#506bda 8px,#5876e2 16px,#7294f4 33px,#8aadfd 48px,#a3c1ff 62px,#bad1f8 76px,#d0daea 90px,#dedcdb 101px,#ecd2c4 114px,#f5c2aa 129px,#f7ad8f 146px,#f18f71 168px,#e46d55 193px,#d0483e 222px,#be242e 249px,#bc1d2c 256px,#bc1c2c 261px)"></i>
<i style="background:linear-gradient(90deg,#4e68d8,#506cda 8px,#5876e2 16px,#7295f4 33px,#8aadfd 47px,#a2c1ff 61px,#b8d0f9 74px,#cfdaea 89px,#dedcdb 100px,#ecd2c4 113px,#f5c2a9 128px,#f7ac8e 145px,#f18e70 167px,#e36c54 192px,#cf453c 222px,#bf252e 245px,#bc1b2c 252px,#ba172b 261px)"></i>
<i style="background:linear-gradient(90deg,#4e68d8,#516cdb 8px,#5977e2 16px,#7396f5 33px,#8badfd 47px,#a3c2fe 61px,#b9d0f8 74px,#d1dae9 89px,#dedcdb 99px,#edd1c2 113px,#f5c0a7 128px,#f7aa8c 145px,#f08b6e 167px,#e26953 192px,#ce423b 222px,#bf272f 242px,#bb192b 250px,#b9122a 258px,#b9122a 261px)"></i>
<i style="background:linear-gradient(90deg,#4e69d8,#516cdb 8px,#5977e3 16px,#7396f5 33px,#8baefd 47px,#a2c1ff 60px,#b9d0f9 73px,#cfdaeb 87px,#dedcdb 98px,#ecd2c4 111px,#f5c3ab 125px,#f7ac8f 142px,#f18e70 164px,#e36b54 189px,#cf453c 218px,#bf272f 240px,#ba172b 248px,#b81029 255px,#b70e29 261px)"></i>
<i style="background:linear-gradient(90deg,#4e69d8,#516ddb 8px,#5977e3 16px,#7497f5 33px,#8caffe 47px,#a3c2fe 60px,#bad0f8 73px,#d0daea 87px,#dddcdc 97px,#ecd2c4 110px,#f5c3ab 124px,#f7ae90 140px,#f29072 161px,#e56f57 185px,#d1483e 214px,#c0282f 238px,#b9142a 248px,#b70c28 255px,#b60b28 261px)"></i>
<i style="background:linear-gradient(90deg,#4f69d9,#516ddb 8px,#5a78e3 16px,#7395f5 32px,#8baefd 46px,#a2c1ff 59px,#b9d0f9 72px,#cfdaeb 86px,#dedcdb 97px,#edd2c3 110px,#f5c2aa 124px,#f7ab8d 141px,#f18d6f 162px,#e36c55 186px,#d0473d 214px,#c0272f 237px,#b9122a 247px,#b60a28 254px,#b50827 261px)"></i>
<i style="background:linear-gradient(90deg,#4f69d9,#526ddc 8px,#5a78e3 16px,#7396f5 32px,#8baefd 46px,#a2c1ff 59px,#b9d0f8 72px,#d0daea 86px,#dddcdc 96px,#ecd2c4 109px,#f5c2aa 123px,#f7ad8f 139px,#f18f71 160px,#e46d56 184px,#d1483e 212px,#bf272f 236px,#b81029 247px,#b50827 254px,#b40527 261px)"></i>
<i style="background:linear-gradient(90deg,#4f6ad9,#526ddc 8px,#5a78e3 16px,#7396f5 32px,#8baefd 46px,#a3c2ff 59px,#bad0f8 72px,#d0daea 86px,#dedcdb 96px,#edd2c3 109px,#f5c2aa 123px,#f7ac8e 139px,#f18e70 160px,#e36c55 184px,#d0473d 212px,#c0272f 235px,#b81029 246px,#b50727 253px,#b40426 261px)"></i>
<i style="background:linear-gradient(90deg,#4f6ad9,#526edc 8px,#5a78e4 16px,#7396f5 32px,#8caefe 46px,#a3c2fe 59px,#bad1f8 72px,#d0dae9 86px,#dedcdb 96px,#edd1c3 109px,#f5c1a9 123px,#f7ac8e 139px,#f18e70 160px,#e36c54 184px,#d0463d 212px,#bf262e 235px,#b70f29 246px,#b40627 253px,#b40426 261px)"></i>
<i style="background:linear-gradient(90deg,#4f6ad9,#526edc 8px,#5a78e4 16px,#7496f5 32px,#8caffe 46px,#a3c2fe 59px,#bad1f8 72px,#d1dae9 86px,#dedcda 96px,#edd1c2 109px,#f5c1a9 123px,#f7aa8c 140px,#f08c6e 161px,#e26a53 185px,#ce433b 214px,#c0282f 234px,#b70e29 246px,#b40527 253px,#b40426 261px)"></i>
<i style="height:1px;background:linear-gradient(90deg,#4f6ad9,#526edc 8px,#5a78e4 16px,#7496f5 32px,#8caffe 46px,#a3c2fe 59px,#bad1f8 72px,#d1dae9 86px,#dddcdc 95px,#ecd2c4 108px,#f5c2aa 122px,#f7ad8f 138px,#f18e70 159px,#e46d55 183px,#d0473d 211px,#c0272f 234px,#b70e29 246px,#b40526 253px,#b40426 261px)"></i>
</div>
<div class="hm" style="left:387px;top:989px;width:260px;height:244px">
<i style="background:linear-gradient(90deg,#3b4cc0,#3c4ec2 9px,#445bcd 22px,#5d7be6 52px,#7598f6 80px,#8db0fe 107px,#a5c3fe 134px,#bcd2f7 162px,#d3dbe7 193px,#dedcdb 211px,#edd1c2 240px,#f1cdba 253px,#f1ccb9 260px)"></i>
<i style="background:linear-gradient(90deg,#3b4cc0,#3c4ec2 9px,#445bcd 22px,#5d7ce6 52px,#7598f6 80px,#8db0fe 107px,#a5c3fe 134px,#bcd2f7 162px,#d3dbe7 193px,#dedcdb 211px,#edd1c2 240px,#f1ccba 253px,#f1ccb9 260px)"></i>
<i style="background:linear-gradient(90deg,#3b4cc0,#3c4ec2 9px,#445bcd 22px,#5d7ce6 52px,#7598f6 80px,#8db0fe 107px,#a5c3fe 134px,#bcd2f7 162px,#d3dbe7 193px,#dedcda 211px,#edd1c2 240px,#f1ccba 253px,#f1ccb9 260px)"></i>
<i style="background:linear-gradient(90deg,#3b4cc0,#3c4ec2 9px,#455bcd 22px,#5d7ce6 52px,#7598f6 80px,#8db0fe 107px,#a5c3fe 134px,#bdd2f7 162px,#d3dbe7 193px,#dedcda 211px,#edd1c1 240px,#f1ccb9 253px,#f1ccb8 260px)"></i>
<i style="background:linear-gradient(90deg,#3b4cc0,#3d4fc3 10px,#4961d2 27px,#6181e9 57px,#799cf8 84px,#90b2fe 110px,#a8c5fe 137px,#bfd3f5 165px,#d5dbe5 195px,#dfdcda 211px,#eed0c1 240px,#f1ccb9 253px,#f1cbb8 260px)"></i>
<i style="background:linear-gradient(90deg,#3b4cc0,#3d4fc3 10px,#4961d2 27px,#6181e9 57px,#799cf8 84px,#90b3fe 110px,#a8c5fe 137px,#bfd3f5 165px,#d5dbe5 195px,#dedcda 210px,#edd1c1 239px,#f1ccb9 252px,#f1cbb8 260px)"></i>
<i style="background:linear-gradient(90deg,#3b4cc0,#3d4fc3 10px,#4961d2 27px,#6181ea 57px,#799cf8 84px,#91b3fe 110px,#a9c6fd 137px,#c0d4f5 165px,#d5dbe5 195px,#dfdcda 210px,#eed0c1 239px,#f1ccb8 252px,#f2cbb7 260px)"></i>
<i style="background:linear-gradient(90deg,#3b4cc0,#3d4fc3 10px,#4961d2 27px,#6182ea 57px,#799cf8 84px,#91b3fe 110px,#a9c6fd 137px,#c0d4f5 165px,#d6dce5 195px,#dedcda 209px,#edd1c1 238px,#f1cbb8 251px,#f2cab6 260px)"></i>
<i style="background:linear-gradient(90deg,#3b4cc0,#3d50c4 11px,#5977e3 47px,#7194f4 75px,#8aadfd 102px,#a1c0ff 128px,#b9d0f9 155px,#cfdaea 185px,#dedcdb 208px,#edd1c2 236px,#f1cbb8 250px,#f2cab6 260px)"></i>
<i style="background:linear-gradient(90deg,#3b4cc0,#3d50c4 11px,#5876e2 46px,#7193f4 74px,#89acfd 101px,#a1c0ff 127px,#b8d0f9 154px,#cedaeb 183px,#dedcdb 207px,#edd1c2 236px,#f2cbb7 250px,#f2c9b5 260px)"></i>
<i style="background:linear-gradient(90deg,#3b4cc0,#3e51c4 11px,#5977e2 46px,#7194f4 74px,#8aadfd 101px,#a1c0ff 127px,#b9d0f9 154px,#d0daea 184px,#dedcdb 206px,#edd1c3 234px,#f2cab6 250px,#f2c9b4 260px)"></i>
<i style="background:linear-gradient(90deg,#3b4dc1,#3e51c4 11px,#5876e2 45px,#7193f3 73px,#89acfd 100px,#a1c0ff 126px,#b8d0f9 153px,#cfdaea 183px,#dedcdb 205px,#edd1c3 233px,#f2cab6 249px,#f3c8b3 260px)"></i>
<i style="background:linear-gradient(90deg,#3b4dc1,#3e51c4 11px,#5775e1 44px,#7092f3 72px,#89acfd 99px,#a0c0ff 125px,#b8d0f9 152px,#cfdaeb 181px,#dedcdb 204px,#edd1c3 232px,#f2c9b5 249px,#f3c8b2 260px)"></i>
<i style="background:linear-gradient(90deg,#3b4dc1,#3e51c5 11px,#5875e2 44px,#7093f3 72px,#89acfd 99px,#a1c0ff 125px,#b9d0f9 152px,#cfdaeb 181px,#dedcdb 204px,#edd1c3 231px,#f2c9b4 249px,#f3c7b1 260px)"></i>
<i style="background:linear-gradient(90deg,#3b4dc1,#3e51c5 11px,#5876e2 44px,#7193f3 72px,#8aacfd 99px,#a2c1ff 125px,#b9d0f8 152px,#d0daea 181px,#dedcdb 203px,#edd1c2 231px,#f3c8b3 249px,#f4c6b0 260px)"></i>
<i style="background:linear-gradient(90deg,#3b4dc1,#3e52c5 11px,#5775e1 43px,#7092f3 71px,#89acfd 98px,#a1c0ff 124px,#b9d0f9 151px,#d0daea 180px,#dedcdb 202px,#edd1c2 230px,#f3c7b2 249px,#f4c6af 260px)"></i>
<i style="background:linear-gradient(90deg,#3b4dc1,#3e52c5 11px,#5775e1 43px,#7093f3 71px,#88abfd 97px,#a1c0ff 123px,#b9d0f9 150px,#cfdaea 179px,#dedcdb 201px,#edd1c3 228px,#f3c7b1 249px,#f4c5ae 260px)"></i>
<i style="background:linear-gradient(90deg,#3c4ec1,#3e52c5 11px,#5875e2 43px,#7193f3 71px,#89acfd 97px,#a0c0ff 122px,#b7cff9 148px,#ced9ec 176px,#dedcdb 200px,#edd1c3 227px,#f4c6b0 249px,#f4c4ad 260px)"></i>
<i style="background:linear-gradient(90deg,#3c4ec2,#3f52c5 11px,#5774e1 42px,#6f91f3 69px,#87aafc 95px,#a0bfff 121px,#b7cff9 147px,#ced9ec 175px,#dedcdb 199px,#edd1c3 226px,#f4c6af 249px,#f5c4ac 260px)"></i>
<i style="background:linear-gradient(90deg,#3c4ec2,#3f52c6 11px,#5775e1 42px,#6f92f3 69px,#88abfd 95px,#9fbfff 120px,#b7cff9 146px,#cdd9ec 174px,#dedcdb 198px,#edd1c3 225px,#f4c5ae 248px,#f5c3ab 260px)"></i>
<i style="background:linear-gradient(90deg,#3c4ec2,#3f52c6 11px,#5775e1 42px,#7092f3 69px,#88abfd 95px,#a0bfff 120px,#b7cff9 146px,#ced9ec 174px,#dedcdb 197px,#edd1c3 224px,#f4c5ad 248px,#f5c2aa 260px)"></i>
<i style="background:linear-gradient(90deg,#3c4ec2,#3f53c6 11px,#5875e2 42px,#7092f3 69px,#89acfd 95px,#a0c0ff 120px,#b8cff9 146px,#cfdaeb 174px,#dedcdb 196px,#edd1c3 223px,#f5c4ac 248px,#f5c2a9 260px)"></i>
<i style="background:linear-gradient(90deg,#3c4ec2,#3f53c6 11px,#5774e1 41px,#6f92f3 68px,#88abfd 94px,#a0bfff 119px,#b8cff9 145px,#cedaeb 173px,#dedcdb 196px,#edd1c3 222px,#f5c3ab 248px,#f5c1a8 260px)"></i>
<i style="background:linear-gradient(90deg,#3c4fc2,#3f53c6 11px,#5775e1 41px,#6f91f3 67px,#87aafc 92px,#9fbeff 117px,#b6cffa 143px,#cdd9ed 170px,#dddcdc 194px,#ecd2c4 220px,#f5c3ab 247px,#f5c0a7 260px)"></i>
<i style="background:linear-gradient(90deg,#3c4fc3,#3f53c6 11px,#5775e1 41px,#7093f3 68px,#89acfd 94px,#a1c0ff 119px,#b9d0f9 145px,#d0daea 173px,#dedcdb 194px,#edd1c3 220px,#f5c2aa 247px,#f6bfa6 260px)"></i>
<i style="background:linear-gradient(90deg,#3c4fc3,#3f53c6 11px,#5774e1 40px,#6f92f3 67px,#87aafc 92px,#a0bfff 117px,#b8cff9 143px,#cfdaeb 171px,#dedcdb 193px,#edd1c2 220px,#f5c1a9 247px,#f6bfa5 260px)"></i>
<i style="background:linear-gradient(90deg,#3d4fc3,#4054c7 11px,#5673e0 39px,#6e90f2 65px,#86a9fc 90px,#9ebeff 115px,#b6cefa 140px,#ccd9ed 167px,#dddcdc 191px,#ecd2c4 217px,#f5c2a9 245px,#f6bea4 257px,#f6bea4 260px)"></i>
<i style="background:linear-gradient(90deg,#3d4fc3,#4054c7 11px,#5674e0 39px,#6e91f2 65px,#86a9fc 90px,#9fbeff 115px,#b6cefa 140px,#cdd9ed 167px,#dedcdb 191px,#edd1c3 217px,#f5c1a8 245px,#f6bda3 257px,#f6bda3 260px)"></i>
<i style="background:linear-gradient(90deg,#3d50c3,#3f53c6 10px,#4b63d4 25px,#6283ea 52px,#7a9df8 77px,#93b4fe 102px,#abc7fd 127px,#c2d5f4 153px,#d8dce2 181px,#dfdbd9 192px,#eed0c1 218px,#f6c0a7 246px,#f6bca2 258px,#f6bca2 260px)"></i>
<i style="background:linear-gradient(90deg,#3d50c3,#3f53c6 10px,#4b64d4 25px,#6383eb 52px,#7a9ef8 77px,#93b5fe 102px,#aac7fd 126px,#c2d5f4 152px,#d7dce3 180px,#dfdcda 191px,#eed0c1 217px,#f6bfa6 245px,#f7bca1 257px,#f7bba1 260px)"></i>
<i style="background:linear-gradient(90deg,#3d50c3,#4054c7 10px,#4b64d4 25px,#6383eb 52px,#7b9ef8 77px,#94b5fe 102px,#abc7fd 126px,#c2d4f4 151px,#d7dce3 178px,#dfdcda 190px,#eed0c1 216px,#f6bfa6 244px,#f7bba0 255px,#f7bba0 260px)"></i>
<i style="background:linear-gradient(90deg,#3d50c4,#4054c7 10px,#4b64d5 25px,#6384eb 52px,#7b9ef9 77px,#94b6ff 102px,#abc8fd 126px,#c2d5f4 151px,#d7dce3 178px,#dfdcda 189px,#eed0c1 215px,#f6bfa6 243px,#f7ba9f 254px,#f7ba9f 260px)"></i>
<i style="background:linear-gradient(90deg,#3d50c4,#4054c7 10px,#4b64d5 25px,#6283ea 51px,#7b9ef8 76px,#94b5fe 101px,#abc7fd 125px,#c2d5f4 150px,#d7dce3 177px,#dfdcda 188px,#edd1c2 213px,#f6c0a6 241px,#f7ba9e 253px,#f7b99d 260px)"></i>
<i style="background:linear-gradient(90deg,#3d50c4,#4054c7 10px,#4b65d5 25px,#6383eb 51px,#7b9ef8 76px,#94b6ff 101px,#acc8fd 125px,#c2d5f4 150px,#d8dce2 177px,#dfdcda 187px,#edd1c2 212px,#f6bfa6 240px,#f7b99e 252px,#f7b89c 260px)"></i>
<i style="background:linear-gradient(90deg,#3e51c4,#4054c7 10px,#4c65d5 25px,#6384eb 51px,#7b9ff9 76px,#94b5fe 100px,#abc7fd 124px,#c2d5f4 149px,#d8dce2 176px,#dfdbd9 187px,#eed0c1 212px,#f6bfa5 240px,#f7b89d 252px,#f7b79b 260px)"></i>
<i style="background:linear-gradient(90deg,#3e51c4,#4055c8 10px,#4c65d5 25px,#6384eb 51px,#7c9ff9 76px,#94b6ff 100px,#acc8fd 124px,#c3d5f4 149px,#d8dce2 176px,#dfdbd9 186px,#eed0c1 211px,#f6bfa5 239px,#f7b89c 251px,#f7b69a 260px)"></i>
<i style="background:linear-gradient(90deg,#3e51c4,#4055c8 10px,#4c65d6 25px,#6484eb 51px,#7c9ff9 76px,#95b6ff 100px,#acc8fd 124px,#c3d5f3 149px,#d9dce1 176px,#e0dbd8 186px,#eed0c0 211px,#f6bea4 239px,#f7b79b 251px,#f7b599 260px)"></i>
<i style="background:linear-gradient(90deg,#3e51c5,#4055c8 10px,#4c66d6 25px,#6485eb 51px,#7da0f9 76px,#95b7ff 100px,#adc9fd 124px,#c4d6f3 149px,#d9dce0 176px,#e0dbd9 185px,#eed0c0 210px,#f6bea5 237px,#f7b69a 250px,#f7b498 260px)"></i>
<i style="background:linear-gradient(90deg,#3e51c5,#4155c8 10px,#4b65d5 24px,#6384eb 50px,#7c9ff9 75px,#94b6ff 99px,#adc8fd 123px,#c4d5f3 148px,#d9dce1 175px,#e0dbd9 184px,#eed0c0 209px,#f6bea5 236px,#f7b599 250px,#f7b397 260px)"></i>
<i style="background:linear-gradient(90deg,#3e52c5,#4155c8 10px,#4c65d5 24px,#6484eb 50px,#7b9ff9 74px,#94b6ff 98px,#abc7fd 121px,#c2d5f4 145px,#d7dce3 171px,#dfdcda 182px,#eed0c1 207px,#f6bfa6 234px,#f7b598 249px,#f7b295 260px)"></i>
<i style="background:linear-gradient(90deg,#3e52c5,#4156c8 10px,#4c65d5 24px,#6484eb 50px,#7c9ff9 74px,#94b6ff 98px,#acc8fd 121px,#c2d5f4 145px,#d7dce2 171px,#dfdcda 181px,#edd1c2 205px,#f5c0a7 231px,#f7b498 248px,#f7b194 260px)"></i>
<i style="background:linear-gradient(90deg,#3e52c5,#4156c9 10px,#4c65d6 24px,#6485ec 50px,#7c9ff9 74px,#94b6ff 97px,#abc8fd 120px,#c2d5f4 144px,#d7dce3 170px,#dfdcda 180px,#edd1c2 204px,#f5c0a7 230px,#f7b396 248px,#f7b093 260px)"></i>
<i style="background:linear-gradient(90deg,#3f52c5,#4156c9 10px,#4c66d6 24px,#6384eb 49px,#7c9ff9 73px,#94b6ff 97px,#acc8fd 120px,#c3d5f4 144px,#d8dce2 170px,#dfdbd9 180px,#eed0c1 204px,#f6bfa5 231px,#f7b295 248px,#f7af92 260px)"></i>
<i style="background:linear-gradient(90deg,#3f52c6,#4156c9 10px,#4c66d6 24px,#6484eb 49px,#7c9ff9 73px,#94b6ff 96px,#acc8fd 119px,#c2d5f4 143px,#d8dce2 169px,#dfdbd9 179px,#eed0c1 203px,#f6bfa5 230px,#f7b194 248px,#f7ae91 260px)"></i>
<i style="background:linear-gradient(90deg,#3f53c6,#4156c9 10px,#4c66d6 24px,#6485ec 49px,#7ca0f9 73px,#94b6ff 96px,#acc8fd 119px,#c3d5f3 143px,#d8dce1 169px,#dfdbd9 178px,#eed0c1 202px,#f6bfa6 228px,#f7b093 248px,#f7ad8f 260px)"></i>
<i style="background:linear-gradient(90deg,#3f53c6,#4257c9 10px,#4d66d6 24px,#6485ec 49px,#7da0f9 73px,#95b7ff 96px,#adc9fd 119px,#c4d5f3 143px,#d9dce1 169px,#e0dbd8 178px,#eed0c0 202px,#f6bea5 228px,#f7af92 248px,#f7ac8e 260px)"></i>
<i style="background:linear-gradient(90deg,#3f53c6,#4257ca 10px,#4d67d7 24px,#6585ec 49px,#7da0f9 73px,#96b7ff 96px,#adc9fd 119px,#c4d6f3 143px,#dadce0 169px,#e0dbd8 178px,#efcfbf 202px,#f6bea4 228px,#f7ae90 248px,#f7ab8d 260px)"></i>
<i style="background:linear-gradient(90deg,#3f53c6,#4257ca 10px,#4d67d7 24px,#6586ec 49px,#7ea1f9 73px,#96b7ff 96px,#aec9fc 119px,#c5d6f2 143px,#dadcdf 169px,#e3dad5 180px,#f0cdbc 204px,#f7bba0 230px,#f7ad8f 248px,#f7aa8c 260px)"></i>
<i style="background:linear-gradient(90deg,#3f53c6,#4257ca 10px,#4d67d7 24px,#6586ec 49px,#7ea1fa 73px,#95b7ff 95px,#aec9fd 118px,#c4d5f3 141px,#d9dce0 167px,#e0dbd8 176px,#efcfbf 200px,#f6bea4 225px,#f7ac8f 247px,#f7a98a 258px,#f7a98a 260px)"></i>
<i style="background:linear-gradient(90deg,#4054c7,#4257ca 10px,#4d68d7 24px,#6687ed 49px,#7ea2fa 73px,#96b7ff 95px,#aec9fc 118px,#c5d6f2 141px,#dadce0 167px,#e1dbd7 176px,#efcfbe 200px,#f6bda3 225px,#f7ab8d 247px,#f7a889 258px,#f7a889 260px)"></i>
<i style="background:linear-gradient(90deg,#4054c7,#4258ca 10px,#4e68d8 24px,#6687ed 49px,#7fa2fa 73px,#97b8ff 95px,#aec9fc 117px,#c5d6f2 141px,#dbdcdf 167px,#e5d8d1 181px,#f1cbb7 205px,#f7b79c 231px,#f7aa8b 248px,#f7a688 260px)"></i>
<i style="background:linear-gradient(90deg,#4054c7,#4258ca 10px,#4e68d8 24px,#6687ed 49px,#7fa3fa 73px,#97b8ff 95px,#aecafc 117px,#c5d6f2 140px,#dbdcdf 166px,#e5d8d1 180px,#f2cbb7 204px,#f7b79b 230px,#f7a88a 248px,#f6a587 260px)"></i>
<i style="background:linear-gradient(90deg,#4054c7,#4358cb 10px,#4d67d7 23px,#6485ec 47px,#7ea1f9 71px,#95b7ff 93px,#adc9fd 115px,#c4d5f3 138px,#d9dce1 163px,#e0dbd8 172px,#eed0c0 195px,#f6bea5 220px,#f7a889 247px,#f6a485 258px,#f6a485 260px)"></i>
<i style="background:linear-gradient(90deg,#4054c7,#4358cb 10px,#4d67d7 23px,#6586ec 47px,#7ea1fa 71px,#96b7ff 93px,#aec9fd 115px,#c4d6f2 138px,#dadce0 163px,#e1dbd7 172px,#efcfbf 195px,#f6bda3 220px,#f7a788 247px,#f6a384 258px,#f6a384 260px)"></i>
<i style="background:linear-gradient(90deg,#4055c8,#4359cb 10px,#4d68d7 23px,#6586ec 47px,#7da1f9 70px,#95b7ff 92px,#adc9fd 114px,#c4d6f3 137px,#dadce0 162px,#e0dbd7 171px,#efcfbf 194px,#f6bea4 218px,#f7a788 245px,#f6a283 256px,#f6a183 260px)"></i>
<i style="background:linear-gradient(90deg,#4055c8,#4359cb 10px,#4e68d8 23px,#6586ec 47px,#7ea1fa 70px,#96b7ff 92px,#aec9fc 114px,#c5d6f2 137px,#dadcdf 162px,#e2dad5 172px,#f0cebc 195px,#f7bca1 220px,#f6a486 247px,#f5a081 258px,#f5a081 260px)"></i>
<i style="background:linear-gradient(90deg,#4155c8,#4359cb 10px,#4e68d8 23px,#6687ed 47px,#7ea2fa 70px,#97b8ff 92px,#aecafc 114px,#c5d6f2 137px,#dbdcdf 162px,#e6d7cf 177px,#f2cab6 200px,#f7b69a 225px,#f6a384 247px,#f59f80 258px,#f59f80 260px)"></i>
<i style="background:linear-gradient(90deg,#4155c8,#4359cc 10px,#4e68d8 23px,#6687ed 47px,#7fa2fa 70px,#97b8ff 92px,#afcafc 114px,#c6d6f1 137px,#dbdcdf 161px,#e5d8d1 174px,#f1cbb8 197px,#f7b89c 222px,#f6a283 247px,#f59d7f 258px,#f59d7f 260px)"></i>
<i style="background:linear-gradient(90deg,#4155c8,#445acc 10px,#4e69d8 23px,#6687ed 47px,#7fa2fa 70px,#97b8ff 91px,#afcafc 113px,#c6d6f1 136px,#dbdcdf 160px,#e4d9d2 172px,#f1ccb9 195px,#f7b99e 219px,#f6a182 246px,#f59c7d 257px,#f59c7d 260px)"></i>
<i style="background:linear-gradient(90deg,#4156c9,#445acc 10px,#4e69d8 23px,#6788ed 47px,#7ea2fa 69px,#96b7ff 90px,#adc9fd 111px,#c4d5f3 133px,#d9dce1 157px,#dfdbd9 165px,#eed0c1 187px,#f6bfa6 211px,#f7a88a 237px,#f59d7e 250px,#f49b7c 260px)"></i>
<i style="background:linear-gradient(90deg,#4156c9,#445acc 10px,#4f69d9 23px,#6788ee 47px,#7fa2fa 69px,#97b8ff 90px,#aec9fc 111px,#c4d6f2 133px,#dadcdf 158px,#e3d9d4 169px,#f1cdba 192px,#f7ba9f 216px,#f6a182 243px,#f49a7b 254px,#f4997b 260px)"></i>
<i style="background:linear-gradient(90deg,#4156c9,#445acd 10px,#4f6ad9 23px,#6789ee 47px,#7fa3fa 69px,#97b8ff 90px,#aecafc 111px,#c5d6f2 133px,#dadcdf 157px,#e2dad5 167px,#f0cebc 189px,#f7bca1 213px,#f6a385 239px,#f49a7b 251px,#f49879 260px)"></i>
<i style="background:linear-gradient(90deg,#4156c9,#445acd 10px,#4f6ad9 23px,#6889ee 47px,#80a3fa 69px,#98b9ff 90px,#afcafc 111px,#c6d6f2 133px,#dbdcdf 157px,#e7d7ce 172px,#f2cab5 194px,#f7b69a 218px,#f59c7d 246px,#f39778 257px,#f39678 260px)"></i>
<i style="background:linear-gradient(90deg,#4257c9,#445bcd 10px,#4f6ad9 23px,#6788ee 46px,#7fa3fa 68px,#97b8ff 89px,#afcafc 110px,#c6d6f2 132px,#dbdcdf 156px,#e5d8d1 169px,#f1cbb7 191px,#f7b89c 215px,#f59e7f 242px,#f39678 253px,#f39576 260px)"></i>
<i style="background:linear-gradient(90deg,#4257ca,#455bcd 10px,#506ada 23px,#6788ee 46px,#80a3fa 68px,#98b9ff 89px,#afcafc 110px,#c6d6f1 132px,#dbdcdf 155px,#e5d8d1 168px,#f1cbb7 190px,#f7b89c 214px,#f59d7f 241px,#f39577 252px,#f39375 260px)"></i>
<i style="background:linear-gradient(90deg,#4257ca,#455bcd 10px,#506bda 23px,#6889ee 46px,#80a3fa 68px,#98b9ff 89px,#b0cbfc 110px,#c7d7f1 132px,#dbdcde 155px,#ebd3c6 176px,#f5c3ac 199px,#f7ad8f 224px,#f39778 247px,#f29274 258px,#f29274 260px)"></i>
<i style="background:linear-gradient(90deg,#4257ca,#455bcd 10px,#506bda 23px,#6889ee 46px,#81a4fb 68px,#99baff 89px,#b1cbfc 110px,#c8d7f0 132px,#dcdddd 155px,#ecd2c4 177px,#f5c2aa 199px,#f7ac8e 224px,#f39576 247px,#f29072 258px,#f29072 260px)"></i>
<i style="background:linear-gradient(90deg,#4258ca,#455cce 10px,#506bda 23px,#688aee 46px,#80a3fa 67px,#98b9ff 88px,#b0cbfc 109px,#c7d7f0 131px,#dcdddd 154px,#ecd2c4 176px,#f5c2aa 198px,#f7ac8e 223px,#f39476 246px,#f18f71 257px,#f18f71 260px)"></i>
<i style="background:linear-gradient(90deg,#4258ca,#455cce 10px,#506cda 23px,#698aef 46px,#80a4fb 67px,#99baff 88px,#b0cbfc 108px,#c6d6f1 129px,#dbdcde 152px,#e8d6cb 169px,#f3c7b1 191px,#f7b295 215px,#f49879 241px,#f18f71 252px,#f18d6f 260px)"></i>
<i style="background:linear-gradient(90deg,#4358cb,#455cce 10px,#516cdb 23px,#698bef 46px,#81a4fb 67px,#98b9ff 87px,#b1cbfc 108px,#c8d7f0 130px,#dcddde 152px,#ecd3c5 173px,#f5c3ab 195px,#f7ad8f 219px,#f29173 246px,#f08c6e 257px,#f08c6e 260px)"></i>
<i style="background:linear-gradient(90deg,#4358cb,#465cce 10px,#516cdb 23px,#698bef 46px,#82a5fb 67px,#99baff 87px,#b0cbfc 107px,#c8d7f0 129px,#dcddde 151px,#ecd3c5 172px,#f5c3ab 194px,#f7ad8f 218px,#f19071 246px,#f08a6d 257px,#f08a6c 260px)"></i>
<i style="background:linear-gradient(90deg,#4359cb,#465dcf 10px,#516ddb 23px,#6a8cf0 46px,#82a5fb 67px,#9abbff 87px,#b1cbfb 107px,#c9d7f0 129px,#dcddde 150px,#ecd3c5 171px,#f5c2aa 193px,#f7ac8e 217px,#f18e70 246px,#ef886b 257px,#ef886b 260px)"></i>
<i style="background:linear-gradient(90deg,#4359cb,#465dcf 10px,#516ddb 23px,#698bef 45px,#81a5fb 66px,#99baff 86px,#b1cbfc 106px,#c7d7f0 127px,#dcddde 149px,#ecd3c5 170px,#f5c2aa 192px,#f7ac8e 216px,#f18f71 243px,#ef876a 254px,#ee8669 260px)"></i>
<i style="background:linear-gradient(90deg,#4359cb,#465dcf 10px,#526ddc 23px,#6a8bef 45px,#82a5fb 66px,#9abbff 86px,#b2ccfb 106px,#c8d7f0 127px,#dcddde 148px,#ecd3c5 169px,#f5c2aa 191px,#f7ab8d 215px,#f18e70 242px,#ee8669 253px,#ee8468 260px)"></i>
<i style="background:linear-gradient(90deg,#4359cc,#465ecf 10px,#526edc 23px,#6a8cf0 45px,#83a6fb 66px,#9bbbff 86px,#b3ccfb 106px,#c9d8ef 127px,#ddd 148px,#edd2c3 169px,#f5c2a9 190px,#f7ab8d 214px,#f18e70 241px,#ee8468 252px,#ed8366 260px)"></i>
<i style="background:linear-gradient(90deg,#445acc,#475ed0 10px,#526edc 23px,#6b8cf0 45px,#82a6fb 65px,#9bbbff 85px,#b2ccfb 105px,#c9d8ef 126px,#dddcdc 147px,#edd2c3 168px,#f5c1a9 189px,#f7aa8c 213px,#f18e70 239px,#ed8467 250px,#ec8165 260px)"></i>
<i style="background:linear-gradient(90deg,#445acc,#475ed0 10px,#536fdd 23px,#6b8df0 45px,#84a7fc 66px,#9bbcff 85px,#b3cdfb 105px,#cad8ef 126px,#dddcdc 146px,#ecd2c4 166px,#f5c2aa 187px,#f7ac8e 210px,#f19071 236px,#ed8266 249px,#ec7f63 260px)"></i>
<i style="background:linear-gradient(90deg,#445acc,#475fd0 10px,#526edc 22px,#6a8cf0 44px,#82a6fb 64px,#9abbff 83px,#b1cbfc 102px,#c8d7f0 123px,#dcdddd 144px,#ecd2c4 165px,#f5c2a9 186px,#f7ab8e 209px,#f18f71 235px,#ec8064 249px,#eb7d61 260px)"></i>
<i style="background:linear-gradient(90deg,#445acd,#475fd0 10px,#526edc 22px,#6b8df0 44px,#83a6fb 64px,#9bbbff 83px,#b2ccfb 102px,#c9d8ef 123px,#dcdddd 143px,#ecd2c5 163px,#f5c2aa 184px,#f7ac8e 207px,#f18f71 233px,#ec7f63 248px,#ea7b60 258px,#ea7b60 260px)"></i>
<i style="background:linear-gradient(90deg,#445bcd,#485fd1 10px,#536edd 22px,#6a8cf0 43px,#83a6fb 63px,#9abbff 82px,#b2ccfb 101px,#c9d8ef 122px,#dcdddd 142px,#ecd2c4 162px,#f5c2aa 183px,#f7ab8d 206px,#f18f70 232px,#eb7d61 248px,#e9785e 258px,#e9785e 260px)"></i>
<i style="background:linear-gradient(90deg,#455bcd,#475fd0 9px,#516cdb 20px,#688aef 41px,#81a4fb 61px,#99baff 80px,#b0cbfc 99px,#c7d7f1 119px,#dcddde 140px,#ebd3c6 159px,#f5c3ac 180px,#f7ad8f 203px,#f29072 229px,#ea7b60 247px,#e8765c 257px,#e8765c 260px)"></i>
<i style="background:linear-gradient(90deg,#455bcd,#475fd0 9px,#516cdb 20px,#698bef 41px,#82a5fb 61px,#9abaff 80px,#b1cbfb 99px,#c8d7f0 119px,#dcddde 139px,#ecd3c5 159px,#f5c2aa 180px,#f7ab8d 203px,#f18e70 229px,#e9795f 247px,#e7745b 257px,#e7745b 260px)"></i>
<i style="background:linear-gradient(90deg,#455cce,#485fd1 9px,#516ddb 20px,#6a8bef 41px,#81a4fb 60px,#99baff 79px,#b1cbfb 98px,#c8d7f0 118px,#dcddde 138px,#ecd2c4 158px,#f5c3aa 178px,#f7ad8f 200px,#f19071 226px,#e8775d 247px,#e67259 257px,#e67259 260px)"></i>
<i style="background:linear-gradient(90deg,#455cce,#4860d1 9px,#526ddc 20px,#698bef 40px,#82a5fb 60px,#9abbff 79px,#b2ccfb 98px,#c9d8ef 118px,#dcdddd 137px,#ecd2c4 157px,#f5c2aa 177px,#f7ac8e 199px,#f18f71 225px,#e7755b 247px,#e57057 257px,#e57057 260px)"></i>
<i style="background:linear-gradient(90deg,#465cce,#4860d1 9px,#526edc 20px,#6a8bef 40px,#81a5fb 59px,#99baff 77px,#b0cafc 95px,#c6d6f1 114px,#dbdcde 135px,#ebd4c7 153px,#f4c4ad 173px,#f7af91 195px,#f29374 220px,#e7745a 246px,#e46e56 256px,#e46d56 260px)"></i>
<i style="background:linear-gradient(90deg,#465dcf,#4860d2 9px,#516ddb 19px,#698aef 39px,#81a4fb 58px,#98b9ff 76px,#b0cafc 94px,#c6d6f1 113px,#dbdcde 134px,#ebd4c7 152px,#f5c4ad 172px,#f7ae91 194px,#f29172 220px,#e67159 246px,#e36b54 256px,#e36b54 260px)"></i>
<i style="background:linear-gradient(90deg,#465dcf,#4961d2 9px,#526ddb 19px,#698bef 39px,#82a5fb 58px,#99baff 76px,#b1cbfc 94px,#c7d7f1 113px,#dcddde 133px,#ecd3c5 152px,#f5c3ab 172px,#f7ad8f 194px,#f19072 219px,#e56f57 246px,#e26953 256px,#e26952 260px)"></i>
<i style="background:linear-gradient(90deg,#465dcf,#4961d2 9px,#526edc 19px,#6a8cf0 39px,#83a6fb 58px,#9abbff 76px,#b2ccfb 94px,#c9d7f0 113px,#dcddde 132px,#ecd3c5 151px,#f5c2aa 171px,#f7ac8e 193px,#f18f71 218px,#e46d55 246px,#e16751 256px,#e06651 260px)"></i>
<i style="background:linear-gradient(90deg,#465ecf,#4962d3 9px,#526edc 19px,#698bef 38px,#82a5fb 57px,#9abbff 75px,#b2ccfb 93px,#c9d7f0 112px,#dcdddd 131px,#ecd2c4 150px,#f5c2a9 170px,#f7ab8d 192px,#f18e70 217px,#e26a53 246px,#df644f 256px,#df644f 260px)"></i>
<i style="background:linear-gradient(90deg,#475ed0,#4962d3 9px,#536fdd 19px,#6a8cf0 38px,#81a5fb 56px,#9abbff 74px,#b2ccfb 92px,#c9d7f0 111px,#dcdddd 130px,#ecd2c4 149px,#f5c1a9 169px,#f7aa8c 191px,#f18d6f 216px,#e26952 245px,#de624e 255px,#de614d 260px)"></i>
<i style="background:linear-gradient(90deg,#475ed0,#4a62d3 9px,#536fdd 19px,#6b8cf0 38px,#82a6fb 56px,#9bbbff 74px,#b3ccfb 92px,#cad8ef 111px,#dcdddd 129px,#ecd3c5 147px,#f5c3ab 166px,#f7ad8f 187px,#f19072 212px,#e36c55 240px,#de624d 251px,#dd5f4c 260px)"></i>
<i style="background:linear-gradient(90deg,#475fd0,#4a63d3 9px,#5370dd 19px,#6b8df0 38px,#83a6fb 56px,#9bbbff 73px,#b1cbfb 90px,#c9d8f0 109px,#ddd 128px,#ecd2c4 146px,#f5c2aa 165px,#f7ac8f 186px,#f18f71 211px,#e36b54 239px,#dd604c 250px,#db5c4a 260px)"></i>
<i style="background:linear-gradient(90deg,#485fd1,#4a63d4 9px,#5470de 19px,#6a8cf0 37px,#83a6fb 55px,#9abbff 72px,#b1cbfb 89px,#c9d8ef 108px,#dcddde 126px,#ecd3c5 144px,#f5c3ab 163px,#f7ad8f 184px,#f18f71 209px,#e36c54 237px,#dc5e4b 249px,#da5a48 260px)"></i>
<i style="background:linear-gradient(90deg,#4860d1,#4b64d4 9px,#5471de 19px,#6b8df0 37px,#83a7fb 55px,#9bbcff 72px,#b2ccfb 89px,#cad8ef 108px,#dddcdc 126px,#edd2c3 144px,#f5c1a9 163px,#f7ab8d 184px,#f18e70 208px,#e26953 237px,#db5b49 249px,#d95747 260px)"></i>
<i style="background:linear-gradient(90deg,#4860d1,#4b64d5 9px,#5571de 19px,#6c8ef1 37px,#83a6fb 54px,#9bbbff 71px,#b2ccfb 88px,#c9d8ef 106px,#dcdddd 124px,#ecd2c4 142px,#f5c2aa 161px,#f7ac8e 182px,#f18f70 206px,#e26953 235px,#da5948 249px,#d75545 260px)"></i>
<i style="background:linear-gradient(90deg,#4860d2,#4b64d5 9px,#5572df 19px,#6c8ef1 37px,#84a7fc 54px,#9cbcff 71px,#b3cdfb 88px,#cad8ef 106px,#dcdddd 123px,#ecd2c4 141px,#f5c2a9 160px,#f7ab8d 181px,#f18e70 205px,#e16751 235px,#d95747 248px,#d65244 258px,#d65244 260px)"></i>
<i style="background:linear-gradient(90deg,#4961d2,#4c65d5 9px,#5572df 19px,#6d8ff2 37px,#85a8fc 54px,#9dbdff 71px,#b5cdfa 88px,#cbd9ee 106px,#ddd 122px,#edd2c3 140px,#f5c2aa 158px,#f7ac8f 178px,#f18f71 202px,#e26a53 231px,#d75445 248px,#d55042 258px,#d55042 260px)"></i>
<i style="background:linear-gradient(90deg,#4961d2,#4c65d6 9px,#5673e0 19px,#6c8ef1 36px,#84a7fc 53px,#9bbcff 69px,#b3cdfb 86px,#c9d8ef 103px,#dddcdd 121px,#ecd2c4 138px,#f5c3ab 156px,#f7ad8f 176px,#f19071 200px,#e36b54 228px,#d65344 247px,#d34d41 257px,#d34d40 260px)"></i>
<i style="background:linear-gradient(90deg,#4962d3,#4c66d6 9px,#5673e0 19px,#6d8ff2 36px,#85a8fc 53px,#9cbcff 69px,#b4cdfa 86px,#ccd9ee 104px,#dddcdc 120px,#ecd2c4 137px,#f5c2aa 155px,#f7ac8e 175px,#f18f71 199px,#e16751 229px,#d55042 247px,#d24a3f 256px,#d24a3f 260px)"></i>
<i style="background:linear-gradient(90deg,#4962d3,#4c66d6 9px,#5774e0 19px,#6e90f2 36px,#86a9fc 53px,#9fbeff 70px,#b6cefa 86px,#ccd9ee 103px,#dddcdc 119px,#ecd2c4 136px,#f5c2a9 154px,#f7ac8e 174px,#f18e70 198px,#e06651 228px,#d44d41 247px,#d0483e 256px,#d0473d 260px)"></i>
<i style="background:linear-gradient(90deg,#4a62d3,#4d67d7 9px,#5673e0 18px,#6d8ff1 35px,#85a9fc 52px,#9dbdff 68px,#b4cdfa 84px,#cad8ee 101px,#dcdddd 117px,#ecd3c5 134px,#f5c2aa 152px,#f7ac8e 172px,#f18f71 195px,#e26a54 223px,#d24b3f 247px,#cf453c 256px,#cf443c 260px)"></i>
<i style="background:linear-gradient(90deg,#4a63d4,#4d67d7 9px,#5673e0 18px,#6e90f2 35px,#86a9fc 52px,#9ebeff 68px,#b5cefa 84px,#ccd9ed 101px,#dddcdc 117px,#ecd2c4 133px,#f5c2aa 151px,#f7ab8d 171px,#f18e70 194px,#e16852 223px,#d1493e 246px,#ce423b 255px,#cd423a 260px)"></i>
<i style="background:linear-gradient(90deg,#4a63d4,#4d68d7 9px,#5774e0 18px,#6d8ff1 34px,#86a9fc 51px,#9ebeff 67px,#b5cefa 83px,#ccd9ed 100px,#dedcdb 116px,#ecd2c4 132px,#f5c1a9 150px,#f7ab8d 170px,#f18d6f 193px,#e06550 223px,#cf463d 246px,#cc4039 255px,#cc3f39 260px)"></i>
<i style="background:linear-gradient(90deg,#4b64d4,#4e68d8 9px,#5774e1 18px,#6d90f2 34px,#85a8fc 50px,#9dbdff 66px,#b5cefa 82px,#ccd9ed 99px,#ddd 114px,#edd2c3 131px,#f5c2aa 148px,#f7ac8f 167px,#f18f71 190px,#e16852 219px,#ce433b 246px,#ca3c38 256px,#ca3c37 260px)"></i>
<i style="background:linear-gradient(90deg,#4b64d5,#4e69d8 9px,#5775e1 18px,#6e90f2 34px,#86a9fc 50px,#9ebeff 66px,#b6cefa 82px,#cdd9ec 99px,#dedcdb 114px,#edd2c3 130px,#f5c2a9 147px,#f7ab8d 167px,#f18d6f 190px,#e0644f 220px,#cc403a 246px,#c93936 256px,#c83936 260px)"></i>
<i style="background:linear-gradient(90deg,#4b65d5,#4e69d8 9px,#5875e2 18px,#6f91f2 34px,#87aafc 50px,#a0bfff 66px,#b6cefa 81px,#ccd9ee 97px,#dddcdc 112px,#ecd2c4 128px,#f5c2aa 145px,#f7ac8e 164px,#f18f71 187px,#e26952 215px,#cb3f39 245px,#c73735 254px,#c73535 260px)"></i>
<i style="background:linear-gradient(90deg,#4c65d5,#4f69d9 9px,#5876e2 18px,#6f92f3 34px,#88abfd 50px,#9fbfff 65px,#b6cefa 80px,#ccd9ed 96px,#dddcdc 111px,#ecd2c4 127px,#f5c2a9 144px,#f7ac8e 163px,#f18e70 186px,#e0654f 216px,#ca3b37 245px,#c63434 253px,#c53233 260px)"></i>
<i style="background:linear-gradient(90deg,#4c66d6,#4f6ad9 9px,#5977e2 18px,#7093f3 34px,#89acfd 50px,#a0c0ff 65px,#b7cff9 80px,#cdd9ec 96px,#dddcdc 110px,#edd2c3 126px,#f5c1a9 143px,#f7ab8d 162px,#f18d6f 185px,#e0654f 214px,#c93936 244px,#c43133 252px,#c32f32 260px)"></i>
<i style="background:linear-gradient(90deg,#4c66d6,#506bda 9px,#5977e3 18px,#7194f4 34px,#8aadfd 50px,#a2c1ff 65px,#b8d0f9 80px,#d0daea 97px,#dedcdb 109px,#edd1c3 125px,#f5c1a8 142px,#f7aa8c 161px,#f18d6f 183px,#e0654f 212px,#c83736 243px,#c32e31 252px,#c12b30 260px)"></i>
<i style="background:linear-gradient(90deg,#4d66d7,#506bda 9px,#5a78e3 18px,#7294f4 34px,#89acfd 49px,#a1c0ff 64px,#b8d0f9 79px,#cedaeb 95px,#dedcdb 108px,#ecd2c4 123px,#f5c1a9 140px,#f7ab8d 159px,#f18d6f 181px,#e06550 210px,#c73635 242px,#c12b30 251px,#c0272f 260px)"></i>
<i style="background:linear-gradient(90deg,#4d67d7,#506cda 9px,#5a79e4 18px,#7295f4 34px,#8aadfd 49px,#a2c1ff 64px,#bad0f8 79px,#d0daea 95px,#dedcdb 107px,#edd2c3 122px,#f5c2aa 138px,#f7ab8d 157px,#f18e70 179px,#e06550 208px,#c83735 239px,#c1292f 249px,#be232e 257px,#be222e 260px)"></i>
<i style="background:linear-gradient(90deg,#4d67d7,#506bda 8px,#5876e2 16px,#7294f4 33px,#8aacfd 48px,#a0c0ff 62px,#b8cff9 77px,#ced9eb 93px,#dedcdb 106px,#edd2c3 121px,#f5c2a9 137px,#f7ab8c 156px,#f18d6f 178px,#df644f 207px,#c83736 237px,#be222e 251px,#bc1d2c 258px,#bc1d2c 260px)"></i>
<i style="background:linear-gradient(90deg,#4e68d8,#506cda 8px,#5876e2 16px,#7295f4 33px,#8aadfd 48px,#a1c0ff 62px,#b9d0f9 77px,#cfdaea 93px,#dedcdb 105px,#edd2c3 120px,#f5c1a9 136px,#f7aa8c 155px,#f18d6f 176px,#e06650 204px,#c83836 235px,#bd1e2d 250px,#bb182b 257px,#bb182b 260px)"></i>
<i style="background:linear-gradient(90deg,#4e68d8,#516cdb 8px,#5977e3 16px,#7194f4 32px,#8aacfd 47px,#a1c0ff 61px,#b7cff9 75px,#cdd9ed 90px,#dedcdb 104px,#edd1c3 119px,#f5c1a9 135px,#f7ab8d 153px,#f18e70 174px,#e16852 201px,#ca3c37 231px,#bf252e 244px,#bb1a2c 250px,#b9142a 257px,#b9132a 260px)"></i>
<i style="background:linear-gradient(90deg,#4e69d8,#516cdb 8px,#5977e3 16px,#7294f4 32px,#8aadfd 47px,#a2c1ff 61px,#b8cff9 75px,#ced9ec 90px,#dedcdb 103px,#edd2c3 118px,#f5c1a9 134px,#f7ab8d 152px,#f18e70 173px,#e06650 201px,#c93936 231px,#bf262e 242px,#ba172b 249px,#b81029 256px,#b80f29 260px)"></i>
<i style="background:linear-gradient(90deg,#4e69d8,#516ddb 8px,#5978e3 16px,#7295f4 32px,#8baefd 47px,#a2c1ff 61px,#b9d0f9 75px,#d0daea 91px,#dddcdc 102px,#ecd3c5 116px,#f5c2aa 132px,#f7ac8e 150px,#f18f71 171px,#e16852 198px,#ca3c38 228px,#bf252e 241px,#ba152a 248px,#b70d28 255px,#b60c28 260px)"></i>
<i style="background:linear-gradient(90deg,#4f69d9,#526ddb 8px,#5a78e3 16px,#7395f5 32px,#8baefd 47px,#a3c2fe 61px,#b9d0f8 75px,#d0dae9 91px,#dedcdb 102px,#ecd2c4 116px,#f5c3ab 131px,#f7ae90 148px,#f29172 169px,#e36b54 195px,#cc3f39 225px,#c0272f 239px,#b9142a 247px,#b60b28 254px,#b50927 260px)"></i>
<i style="background:linear-gradient(90deg,#4f69d9,#526ddc 8px,#5a78e3 16px,#7396f5 32px,#8aadfd 46px,#a2c1ff 60px,#b8d0f9 74px,#d0daea 90px,#dddcdc 101px,#edd2c3 116px,#f5c1a8 132px,#f7aa8c 150px,#f18d6f 171px,#e06550 198px,#c93a37 227px,#c0272f 238px,#b9132a 246px,#b60a28 252px,#b50627 260px)"></i>
<i style="background:linear-gradient(90deg,#4f6ad9,#526ddc 8px,#5a78e4 16px,#7396f5 32px,#8aadfd 46px,#a2c1ff 60px,#b9d0f9 74px,#d0daea 90px,#dedcdb 101px,#edd1c2 116px,#f5c2a9 131px,#f7ab8d 149px,#f18d6f 170px,#e0654f 198px,#c93936 227px,#bf252e 238px,#b8112a 246px,#b50827 252px,#b40426 260px)"></i>
<i style="background:linear-gradient(90deg,#4f6ad9,#526edc 8px,#5a79e4 16px,#7396f5 32px,#8baefd 46px,#a2c1ff 60px,#b9d0f9 74px,#cfdaeb 89px,#dedcdb 101px,#edd1c2 116px,#f6c0a7 132px,#f7a98b 150px,#f08b6e 171px,#df644f 198px,#c83836 227px,#bf272f 237px,#b81029 246px,#b50727 252px,#b40426 257px,#b40426 260px)"></i>
<i style="background:linear-gradient(90deg,#4f6ad9,#526edc 8px,#5a79e4 16px,#7396f5 32px,#8baefd 46px,#a3c1ff 60px,#b9d0f8 74px,#cfdaea 89px,#dddcdc 100px,#edd2c3 115px,#f5c1a8 131px,#f7aa8c 149px,#f08c6e 170px,#df634f 198px,#c83736 227px,#bf262e 237px,#b80f29 246px,#b50627 252px,#b40426 256px,#b40426 260px)"></i>
<i style="background:linear-gradient(90deg,#4f6ad9,#526edc 8px,#5a79e4 16px,#7496f5 32px,#8baefd 46px,#a3c1ff 60px,#bad0f8 74px,#cfdaea 89px,#dddcdc 100px,#edd1c3 115px,#f5c1a8 131px,#f7aa8c 149px,#f08c6e 170px,#df634e 198px,#c83735 227px,#c0282f 236px,#b81129 245px,#b50627 251px,#b40426 255px,#b40426 260px)"></i>
</div>
<svg width="685" height="1258" viewBox="0 0 685 1258">
<defs><linearGradient id="cw" x1="0" y1="0" x2="0" y2="1"><stop offset="0" stop-color="#b40426"/><stop offset="0.03" stop-color="#c0282f"/><stop offset="0.06" stop-color="#cb3e38"/><stop offset="0.09" stop-color="#d55042"/><stop offset="0.12" stop-color="#de614d"/><stop offset="0.16" stop-color="#e57058"/><stop offset="0.19" stop-color="#ec7f63"/><stop offset="0.22" stop-color="#f18d6f"/><stop offset="0.25" stop-color="#f49a7b"/><stop offset="0.28" stop-color="#f7a688"/><stop offset="0.31" stop-color="#f7b194"/><stop offset="0.34" stop-color="#f7bca1"/><stop offset="0.38" stop-color="#f4c5ad"/><stop offset="0.41" stop-color="#f1cdba"/><stop offset="0.44" stop-color="#ebd3c6"/><stop offset="0.47" stop-color="#e4d9d2"/><stop offset="0.5" stop-color="#dddcdc"/><stop offset="0.53" stop-color="#d5dbe5"/><stop offset="0.56" stop-color="#ccd9ed"/><stop offset="0.59" stop-color="#c3d5f4"/><stop offset="0.62" stop-color="#b9d0f9"/><stop offset="0.66" stop-color="#aec9fc"/><stop offset="0.69" stop-color="#a3c2fe"/><stop offset="0.72" stop-color="#98b9ff"/><stop offset="0.75" stop-color="#8db0fe"/><stop offset="0.78" stop-color="#82a6fb"/><stop offset="0.81" stop-color="#779af7"/><stop offset="0.84" stop-color="#6c8ff1"/><stop offset="0.88" stop-color="#6282ea"/><stop offset="0.91" stop-color="#5875e1"/><stop offset="0.94" stop-color="#4e68d8"/><stop offset="0.97" stop-color="#445acc"/><stop offset="1" stop-color="#3b4cc0"/></linearGradient></defs>
<g><rect x="45.5" y="4.9" width="543.5" height="364.4" fill="none" stroke="#333" stroke-width="0.8"/><path d="M45.5 369.3v3.6M87.31 369.3v2M129.12 369.3v2M170.92 369.3v3.6M212.73 369.3v2M254.54 369.3v2M296.35 369.3v3.6M338.15 369.3v2M379.96 369.3v2M421.77 369.3v3.6M463.58 369.3v2M505.38 369.3v2M547.19 369.3v3.6M589 369.3v2M45.5 369.3h-3.6M45.5 332.86h-2M45.5 296.42h-3.6M45.5 259.98h-2M45.5 223.54h-3.6M45.5 187.1h-2M45.5 150.66h-3.6M45.5 114.22h-2M45.5 77.78h-3.6M45.5 41.34h-2M45.5 4.9h-3.6" stroke="#222" stroke-width="0.9" fill="none"/><g font-size="13.3"><text x="45.5" y="383.9" text-anchor="middle">60</text><text x="170.92" y="383.9" text-anchor="middle">120</text><text x="296.35" y="383.9" text-anchor="middle">180</text><text x="421.77" y="383.9" text-anchor="middle">240</text><text x="547.19" y="383.9" text-anchor="middle">300</text><text x="40.3" y="375.6" text-anchor="end">20</text><text x="40.3" y="301.72" text-anchor="end">40</text><text x="40.3" y="228.84" text-anchor="end">60</text><text x="40.3" y="155.96" text-anchor="end">80</text><text x="40.3" y="83.08" text-anchor="end">100</text><text x="40.3" y="10.2" text-anchor="end">120</text></g><text x="317.55" y="399.9" font-size="14" text-anchor="middle" textLength="92.3" lengthAdjust="spacingAndGlyphs">Pressure (bar)</text><text transform="translate(11.7 187.1) rotate(-90)" font-size="14" text-anchor="middle" textLength="111" lengthAdjust="spacingAndGlyphs">Temperature (°C)</text><path d="M45.5 369.3L74.35 329.22V4.9M74.35 329.22H589" stroke="#111" stroke-width="1.2" stroke-dasharray="3.7 1.8" fill="none"/><circle cx="74.35" cy="329.22" r="2.3" fill="#f00"/><text x="86" y="319" font-size="14" font-style="italic" fill="#f00" textLength="80" lengthAdjust="spacingAndGlyphs">Critical Point</text><text x="91.5" y="50" font-size="32" fill="#fff" textLength="105.8" lengthAdjust="spacingAndGlyphs">(a) 100%</text><rect x="599" y="4.9" width="18.2" height="364.4" fill="url(#cw)" stroke="#666" stroke-width="0.8"/><path d="M617.2 325.1h3M617.2 244.13h3M617.2 163.17h3M617.2 82.2h3" stroke="#555" stroke-width="0.8" fill="none"/><g font-family="'DejaVu Sans',sans-serif" font-size="14" fill="#1c1c1c"><text x="621.8" y="330.21">200</text><text x="621.8" y="249.24">400</text><text x="621.8" y="168.28">600</text><text x="621.8" y="87.31">800</text></g></g>
<g><rect x="31" y="420.2" width="261.8" height="246.4" fill="none" stroke="#333" stroke-width="0.6"/><path d="M31 666.6v2.4M51.14 666.6v1.4M71.28 666.6v1.4M91.42 666.6v2.4M111.55 666.6v1.4M131.69 666.6v1.4M151.83 666.6v2.4M171.97 666.6v1.4M192.11 666.6v1.4M212.25 666.6v2.4M232.38 666.6v1.4M252.52 666.6v1.4M272.66 666.6v2.4M292.8 666.6v1.4M31 666.6h-2.4M31 641.96h-1.4M31 617.32h-2.4M31 592.68h-1.4M31 568.04h-2.4M31 543.4h-1.4M31 518.76h-2.4M31 494.12h-1.4M31 469.48h-2.4M31 444.84h-1.4M31 420.2h-2.4" stroke="#222" stroke-width="0.6" fill="none"/><g font-size="9"><text x="31" y="677.3" text-anchor="middle">60</text><text x="91.42" y="677.3" text-anchor="middle">120</text><text x="151.83" y="677.3" text-anchor="middle">180</text><text x="212.25" y="677.3" text-anchor="middle">240</text><text x="272.66" y="677.3" text-anchor="middle">300</text><text x="27.4" y="670.4" text-anchor="end">20</text><text x="27.4" y="620.82" text-anchor="end">40</text><text x="27.4" y="571.54" text-anchor="end">60</text><text x="27.4" y="522.26" text-anchor="end">80</text><text x="27.4" y="472.98" text-anchor="end">100</text><text x="27.4" y="423.7" text-anchor="end">120</text></g><text x="162.3" y="688" font-size="9.3" text-anchor="middle" textLength="59.2" lengthAdjust="spacingAndGlyphs">Pressure (bar)</text><text transform="translate(7 543.4) rotate(-90)" font-size="9.3" text-anchor="middle" textLength="71.5" lengthAdjust="spacingAndGlyphs">Temperature (°C)</text><path d="M31 666.6L44.9 639.5V420.2M44.9 639.5H292.8" stroke="#111" stroke-width="1.15" stroke-dasharray="2.7 1.7" fill="none"/><circle cx="44.9" cy="639.5" r="1.7" fill="#f00"/><text x="51" y="632.3" font-size="12" font-style="italic" fill="#f00" textLength="68.3" lengthAdjust="spacingAndGlyphs">Critical Point</text><text x="52.6" y="451.2" font-size="28" fill="#fff" textLength="76.7" lengthAdjust="spacingAndGlyphs">(b) 95%</text><rect x="297.1" y="420.2" width="12.9" height="246.4" fill="url(#cw)" stroke="#666" stroke-width="0.6"/><path d="M310 661.1h1.8M310 631.46h1.8M310 601.81h1.8M310 572.17h1.8M310 542.52h1.8M310 512.88h1.8M310 483.24h1.8M310 453.59h1.8M310 423.95h1.8" stroke="#555" stroke-width="0.5" fill="none"/><g font-family="'DejaVu Sans',sans-serif" font-size="8" fill="#1c1c1c"><text x="313.4" y="664.82">100</text><text x="313.4" y="635.18">200</text><text x="313.4" y="605.53">300</text><text x="313.4" y="575.89">400</text><text x="313.4" y="546.24">500</text><text x="313.4" y="516.6">600</text><text x="313.4" y="486.96">700</text><text x="313.4" y="457.31">800</text><text x="313.4" y="427.67">900</text></g></g>
<g><rect x="384.3" y="419.7" width="263.7" height="247.1" fill="none" stroke="#333" stroke-width="0.6"/><path d="M384.3 666.8v2.4M404.58 666.8v1.4M424.87 666.8v1.4M445.15 666.8v2.4M465.44 666.8v1.4M485.72 666.8v1.4M506.01 666.8v2.4M526.29 666.8v1.4M546.58 666.8v1.4M566.86 666.8v2.4M587.15 666.8v1.4M607.43 666.8v1.4M627.72 666.8v2.4M648 666.8v1.4M384.3 666.8h-2.4M384.3 642.09h-1.4M384.3 617.38h-2.4M384.3 592.67h-1.4M384.3 567.96h-2.4M384.3 543.25h-1.4M384.3 518.54h-2.4M384.3 493.83h-1.4M384.3 469.12h-2.4M384.3 444.41h-1.4M384.3 419.7h-2.4" stroke="#222" stroke-width="0.6" fill="none"/><g font-size="9.4"><text x="384.3" y="677.5" text-anchor="middle">60</text><text x="445.15" y="677.5" text-anchor="middle">120</text><text x="506.01" y="677.5" text-anchor="middle">180</text><text x="566.86" y="677.5" text-anchor="middle">240</text><text x="627.72" y="677.5" text-anchor="middle">300</text><text x="380.7" y="670.6" text-anchor="end">20</text><text x="380.7" y="620.88" text-anchor="end">40</text><text x="380.7" y="571.46" text-anchor="end">60</text><text x="380.7" y="522.04" text-anchor="end">80</text><text x="380.7" y="472.62" text-anchor="end">100</text><text x="380.7" y="423.2" text-anchor="end">120</text></g><text x="516.55" y="688.2" font-size="9.3" text-anchor="middle" textLength="59.2" lengthAdjust="spacingAndGlyphs">Pressure (bar)</text><text transform="translate(360.3 543.25) rotate(-90)" font-size="9.3" text-anchor="middle" textLength="71.5" lengthAdjust="spacingAndGlyphs">Temperature (°C)</text><path d="M384.3 666.8L398.3 639.62V419.7M398.3 639.62H648" stroke="#111" stroke-width="1.15" stroke-dasharray="2.7 1.7" fill="none"/><circle cx="398.3" cy="639.62" r="1.7" fill="#f00"/><text x="404.4" y="632.42" font-size="12" font-style="italic" fill="#f00" textLength="68.3" lengthAdjust="spacingAndGlyphs">Critical Point</text><text x="407.5" y="450.7" font-size="28" fill="#fff" textLength="76.2" lengthAdjust="spacingAndGlyphs">(c) 90%</text><rect x="652.3" y="419.7" width="12.7" height="247.1" fill="url(#cw)" stroke="#666" stroke-width="0.6"/><path d="M665 658.6h1.8M665 626.34h1.8M665 594.09h1.8M665 561.83h1.8M665 529.57h1.8M665 497.31h1.8M665 465.06h1.8M665 432.8h1.8" stroke="#555" stroke-width="0.5" fill="none"/><g font-family="'DejaVu Sans',sans-serif" font-size="8.7" fill="#1c1c1c"><text x="668" y="662.58">100</text><text x="668" y="630.32">200</text><text x="668" y="598.06">300</text><text x="668" y="565.8">400</text><text x="668" y="533.55">500</text><text x="668" y="501.29">600</text><text x="668" y="469.03">700</text><text x="668" y="436.78">800</text></g></g>
<g><rect x="31.3" y="704.8" width="261.9" height="247" fill="none" stroke="#333" stroke-width="0.6"/><path d="M31.3 951.8v2.4M51.45 951.8v1.4M71.59 951.8v1.4M91.74 951.8v2.4M111.88 951.8v1.4M132.03 951.8v1.4M152.18 951.8v2.4M172.32 951.8v1.4M192.47 951.8v1.4M212.62 951.8v2.4M232.76 951.8v1.4M252.91 951.8v1.4M273.05 951.8v2.4M293.2 951.8v1.4M31.3 951.8h-2.4M31.3 927.1h-1.4M31.3 902.4h-2.4M31.3 877.7h-1.4M31.3 853h-2.4M31.3 828.3h-1.4M31.3 803.6h-2.4M31.3 778.9h-1.4M31.3 754.2h-2.4M31.3 729.5h-1.4M31.3 704.8h-2.4" stroke="#222" stroke-width="0.6" fill="none"/><g font-size="9"><text x="31.3" y="962.5" text-anchor="middle">60</text><text x="91.74" y="962.5" text-anchor="middle">120</text><text x="152.18" y="962.5" text-anchor="middle">180</text><text x="212.62" y="962.5" text-anchor="middle">240</text><text x="273.05" y="962.5" text-anchor="middle">300</text><text x="27.7" y="955.6" text-anchor="end">20</text><text x="27.7" y="905.9" text-anchor="end">40</text><text x="27.7" y="856.5" text-anchor="end">60</text><text x="27.7" y="807.1" text-anchor="end">80</text><text x="27.7" y="757.7" text-anchor="end">100</text><text x="27.7" y="708.3" text-anchor="end">120</text></g><text x="162.65" y="973.2" font-size="9.3" text-anchor="middle" textLength="59.2" lengthAdjust="spacingAndGlyphs">Pressure (bar)</text><text transform="translate(7.3 828.3) rotate(-90)" font-size="9.3" text-anchor="middle" textLength="71.5" lengthAdjust="spacingAndGlyphs">Temperature (°C)</text><path d="M31.3 951.8L45.2 924.63V704.8M45.2 924.63H293.2" stroke="#111" stroke-width="1.15" stroke-dasharray="2.7 1.7" fill="none"/><circle cx="45.2" cy="924.63" r="1.7" fill="#f00"/><text x="51.3" y="917.43" font-size="12" font-style="italic" fill="#f00" textLength="68.3" lengthAdjust="spacingAndGlyphs">Critical Point</text><text x="51.9" y="736.8" font-size="28" fill="#fff" textLength="77.3" lengthAdjust="spacingAndGlyphs">(d) 80%</text><rect x="297.9" y="704.8" width="12.4" height="247" fill="url(#cw)" stroke="#666" stroke-width="0.6"/><path d="M310.3 937.1h1.8M310.3 898.53h1.8M310.3 859.97h1.8M310.3 821.4h1.8M310.3 782.83h1.8M310.3 744.27h1.8M310.3 705.7h1.8" stroke="#555" stroke-width="0.5" fill="none"/><g font-family="'DejaVu Sans',sans-serif" font-size="8" fill="#1c1c1c"><text x="314" y="940.82">100</text><text x="314" y="902.25">200</text><text x="314" y="863.69">300</text><text x="314" y="825.12">400</text><text x="314" y="786.55">500</text><text x="314" y="747.99">600</text><text x="314" y="709.42">700</text></g></g>
<g><rect x="383.9" y="704.2" width="263.4" height="247.9" fill="none" stroke="#333" stroke-width="0.6"/><path d="M383.9 952.1v2.4M404.16 952.1v1.4M424.42 952.1v1.4M444.68 952.1v2.4M464.95 952.1v1.4M485.21 952.1v1.4M505.47 952.1v2.4M525.73 952.1v1.4M545.99 952.1v1.4M566.25 952.1v2.4M586.52 952.1v1.4M606.78 952.1v1.4M627.04 952.1v2.4M647.3 952.1v1.4M383.9 952.1h-2.4M383.9 927.31h-1.4M383.9 902.52h-2.4M383.9 877.73h-1.4M383.9 852.94h-2.4M383.9 828.15h-1.4M383.9 803.36h-2.4M383.9 778.57h-1.4M383.9 753.78h-2.4M383.9 728.99h-1.4M383.9 704.2h-2.4" stroke="#222" stroke-width="0.6" fill="none"/><g font-size="9"><text x="383.9" y="962.8" text-anchor="middle">60</text><text x="444.68" y="962.8" text-anchor="middle">120</text><text x="505.47" y="962.8" text-anchor="middle">180</text><text x="566.25" y="962.8" text-anchor="middle">240</text><text x="627.04" y="962.8" text-anchor="middle">300</text><text x="380.3" y="955.9" text-anchor="end">20</text><text x="380.3" y="906.02" text-anchor="end">40</text><text x="380.3" y="856.44" text-anchor="end">60</text><text x="380.3" y="806.86" text-anchor="end">80</text><text x="380.3" y="757.28" text-anchor="end">100</text><text x="380.3" y="707.7" text-anchor="end">120</text></g><text x="516" y="973.5" font-size="9.3" text-anchor="middle" textLength="59.2" lengthAdjust="spacingAndGlyphs">Pressure (bar)</text><text transform="translate(359.9 828.15) rotate(-90)" font-size="9.3" text-anchor="middle" textLength="71.5" lengthAdjust="spacingAndGlyphs">Temperature (°C)</text><path d="M383.9 952.1L397.88 924.83V704.2M397.88 924.83H647.3" stroke="#111" stroke-width="1.15" stroke-dasharray="2.7 1.7" fill="none"/><circle cx="397.88" cy="924.83" r="1.7" fill="#f00"/><text x="403.98" y="917.63" font-size="12" font-style="italic" fill="#f00" textLength="68.3" lengthAdjust="spacingAndGlyphs">Critical Point</text><text x="407.2" y="736.5" font-size="28" fill="#fff" textLength="78.3" lengthAdjust="spacingAndGlyphs">(e) 70%</text><rect x="652.2" y="704.2" width="12.4" height="247.9" fill="url(#cw)" stroke="#666" stroke-width="0.6"/><path d="M664.6 928.8h1.8M664.6 881.07h1.8M664.6 833.35h1.8M664.6 785.62h1.8M664.6 737.9h1.8" stroke="#555" stroke-width="0.5" fill="none"/><g font-family="'DejaVu Sans',sans-serif" font-size="8" fill="#1c1c1c"><text x="668.4" y="932.52">100</text><text x="668.4" y="884.79">200</text><text x="668.4" y="837.07">300</text><text x="668.4" y="789.34">400</text><text x="668.4" y="741.62">500</text></g></g>
<g><rect x="31.2" y="989.3" width="260.3" height="244.8" fill="none" stroke="#333" stroke-width="0.6"/><path d="M31.2 1234.1v2.4M51.22 1234.1v1.4M71.25 1234.1v1.4M91.27 1234.1v2.4M111.29 1234.1v1.4M131.32 1234.1v1.4M151.34 1234.1v2.4M171.36 1234.1v1.4M191.38 1234.1v1.4M211.41 1234.1v2.4M231.43 1234.1v1.4M251.45 1234.1v1.4M271.48 1234.1v2.4M291.5 1234.1v1.4M31.2 1234.1h-2.4M31.2 1209.62h-1.4M31.2 1185.14h-2.4M31.2 1160.66h-1.4M31.2 1136.18h-2.4M31.2 1111.7h-1.4M31.2 1087.22h-2.4M31.2 1062.74h-1.4M31.2 1038.26h-2.4M31.2 1013.78h-1.4M31.2 989.3h-2.4" stroke="#222" stroke-width="0.6" fill="none"/><g font-size="9"><text x="31.2" y="1244.8" text-anchor="middle">60</text><text x="91.27" y="1244.8" text-anchor="middle">120</text><text x="151.34" y="1244.8" text-anchor="middle">180</text><text x="211.41" y="1244.8" text-anchor="middle">240</text><text x="271.48" y="1244.8" text-anchor="middle">300</text><text x="27.6" y="1237.9" text-anchor="end">20</text><text x="27.6" y="1188.64" text-anchor="end">40</text><text x="27.6" y="1139.68" text-anchor="end">60</text><text x="27.6" y="1090.72" text-anchor="end">80</text><text x="27.6" y="1041.76" text-anchor="end">100</text><text x="27.6" y="992.8" text-anchor="end">120</text></g><text x="161.75" y="1255.5" font-size="9.3" text-anchor="middle" textLength="59.2" lengthAdjust="spacingAndGlyphs">Pressure (bar)</text><text transform="translate(7.2 1111.7) rotate(-90)" font-size="9.3" text-anchor="middle" textLength="71.5" lengthAdjust="spacingAndGlyphs">Temperature (°C)</text><path d="M31.2 1234.1L45.02 1207.17V989.3M45.02 1207.17H291.5" stroke="#111" stroke-width="1.15" stroke-dasharray="2.7 1.7" fill="none"/><circle cx="45.02" cy="1207.17" r="1.7" fill="#f00"/><text x="51.12" y="1199.97" font-size="12" font-style="italic" fill="#f00" textLength="68.3" lengthAdjust="spacingAndGlyphs">Critical Point</text><text x="52.6" y="1027.4" font-size="28" fill="#fff" textLength="70.6" lengthAdjust="spacingAndGlyphs">(f) 60%</text><rect x="296.2" y="989.3" width="12.4" height="244.8" fill="url(#cw)" stroke="#666" stroke-width="0.6"/><path d="M308.6 1234.8h1.8M308.6 1204.24h1.8M308.6 1173.67h1.8M308.6 1143.11h1.8M308.6 1112.55h1.8M308.6 1081.99h1.8M308.6 1051.42h1.8M308.6 1020.86h1.8M308.6 990.3h1.8" stroke="#555" stroke-width="0.5" fill="none"/><g font-family="'DejaVu Sans',sans-serif" font-size="8" fill="#1c1c1c"><text x="312" y="1238.52">50</text><text x="312" y="1207.96">100</text><text x="312" y="1177.39">150</text><text x="312" y="1146.83">200</text><text x="312" y="1116.27">250</text><text x="312" y="1085.71">300</text><text x="312" y="1055.14">350</text><text x="312" y="1024.58">400</text><text x="312" y="994.02">450</text></g></g>
<g><rect x="386.7" y="989.3" width="259.9" height="243.8" fill="none" stroke="#333" stroke-width="0.6"/><path d="M386.7 1233.1v2.4M406.69 1233.1v1.4M426.68 1233.1v1.4M446.68 1233.1v2.4M466.67 1233.1v1.4M486.66 1233.1v1.4M506.65 1233.1v2.4M526.65 1233.1v1.4M546.64 1233.1v1.4M566.63 1233.1v2.4M586.62 1233.1v1.4M606.62 1233.1v1.4M626.61 1233.1v2.4M646.6 1233.1v1.4M386.7 1233.1h-2.4M386.7 1208.72h-1.4M386.7 1184.34h-2.4M386.7 1159.96h-1.4M386.7 1135.58h-2.4M386.7 1111.2h-1.4M386.7 1086.82h-2.4M386.7 1062.44h-1.4M386.7 1038.06h-2.4M386.7 1013.68h-1.4M386.7 989.3h-2.4" stroke="#222" stroke-width="0.6" fill="none"/><g font-size="9"><text x="386.7" y="1243.8" text-anchor="middle">60</text><text x="446.68" y="1243.8" text-anchor="middle">120</text><text x="506.65" y="1243.8" text-anchor="middle">180</text><text x="566.63" y="1243.8" text-anchor="middle">240</text><text x="626.61" y="1243.8" text-anchor="middle">300</text><text x="383.1" y="1236.9" text-anchor="end">20</text><text x="383.1" y="1187.84" text-anchor="end">40</text><text x="383.1" y="1139.08" text-anchor="end">60</text><text x="383.1" y="1090.32" text-anchor="end">80</text><text x="383.1" y="1041.56" text-anchor="end">100</text><text x="383.1" y="992.8" text-anchor="end">120</text></g><text x="517.05" y="1254.5" font-size="9.3" text-anchor="middle" textLength="59.2" lengthAdjust="spacingAndGlyphs">Pressure (bar)</text><text transform="translate(362.7 1111.2) rotate(-90)" font-size="9.3" text-anchor="middle" textLength="71.5" lengthAdjust="spacingAndGlyphs">Temperature (°C)</text><path d="M386.7 1233.1L400.49 1206.28V989.3M400.49 1206.28H646.6" stroke="#111" stroke-width="1.15" stroke-dasharray="2.7 1.7" fill="none"/><circle cx="400.49" cy="1206.28" r="1.7" fill="#f00"/><text x="406.59" y="1199.08" font-size="12" font-style="italic" fill="#f00" textLength="68.3" lengthAdjust="spacingAndGlyphs">Critical Point</text><text x="407.2" y="1027" font-size="28" fill="#fff" textLength="78.3" lengthAdjust="spacingAndGlyphs">(g) 50%</text><rect x="650.9" y="989.3" width="12.3" height="243.8" fill="url(#cw)" stroke="#666" stroke-width="0.6"/><path d="M663.2 1225.4h1.8M663.2 1184.76h1.8M663.2 1144.12h1.8M663.2 1103.48h1.8M663.2 1062.84h1.8M663.2 1022.2h1.8" stroke="#555" stroke-width="0.5" fill="none"/><g font-family="'DejaVu Sans',sans-serif" font-size="8" fill="#1c1c1c"><text x="667" y="1229.12">50</text><text x="667" y="1188.48">100</text><text x="667" y="1147.84">150</text><text x="667" y="1107.2">200</text><text x="667" y="1066.56">250</text><text x="667" y="1025.92">300</text></g></g>
</svg>
</div>
</body></html>
